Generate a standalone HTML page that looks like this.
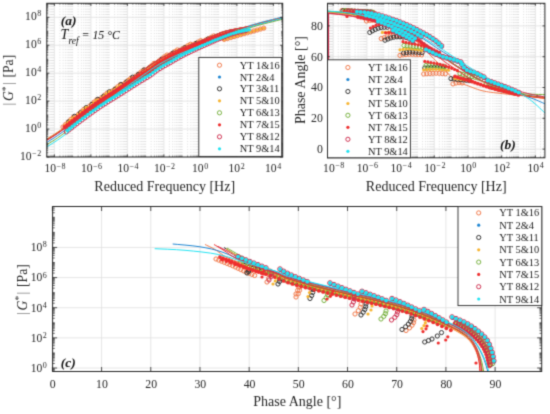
<!DOCTYPE html>
<html><head><meta charset="utf-8"><style>
html,body{margin:0;padding:0;background:#fff;width:550px;height:414px;overflow:hidden}
svg{display:block}
text{font-family:"Liberation Serif", serif}
</style></head><body>
<svg width="550" height="414" viewBox="0 0 550 414">
<defs><filter id="soft" filterUnits="userSpaceOnUse" x="0" y="0" width="550" height="414" color-interpolation-filters="sRGB"><feConvolveMatrix order="3" kernelMatrix="0.0256 0.1088 0.0256 0.1088 0.4624 0.1088 0.0256 0.1088 0.0256" divisor="1" edgeMode="duplicate" preserveAlpha="false"/></filter></defs>
<rect width="550" height="414" fill="#fff"/>
<g filter="url(#soft)">
<rect width="550" height="414" fill="#fff"/>
<clipPath id="cA"><rect x="46.8" y="3.3" width="235.9" height="153.7"/></clipPath>
<line x1="47.14" y1="3.3" x2="47.14" y2="157" stroke="#d2d2d2" stroke-width="0.8" stroke-dasharray="0.9 1.8"/>
<line x1="48.91" y1="3.3" x2="48.91" y2="157" stroke="#d2d2d2" stroke-width="0.8" stroke-dasharray="0.9 1.8"/>
<line x1="50.35" y1="3.3" x2="50.35" y2="157" stroke="#d2d2d2" stroke-width="0.8" stroke-dasharray="0.9 1.8"/>
<line x1="51.57" y1="3.3" x2="51.57" y2="157" stroke="#d2d2d2" stroke-width="0.8" stroke-dasharray="0.9 1.8"/>
<line x1="52.63" y1="3.3" x2="52.63" y2="157" stroke="#d2d2d2" stroke-width="0.8" stroke-dasharray="0.9 1.8"/>
<line x1="53.56" y1="3.3" x2="53.56" y2="157" stroke="#d2d2d2" stroke-width="0.8" stroke-dasharray="0.9 1.8"/>
<line x1="59.89" y1="3.3" x2="59.89" y2="157" stroke="#d2d2d2" stroke-width="0.8" stroke-dasharray="0.9 1.8"/>
<line x1="63.11" y1="3.3" x2="63.11" y2="157" stroke="#d2d2d2" stroke-width="0.8" stroke-dasharray="0.9 1.8"/>
<line x1="65.39" y1="3.3" x2="65.39" y2="157" stroke="#d2d2d2" stroke-width="0.8" stroke-dasharray="0.9 1.8"/>
<line x1="67.16" y1="3.3" x2="67.16" y2="157" stroke="#d2d2d2" stroke-width="0.8" stroke-dasharray="0.9 1.8"/>
<line x1="68.6" y1="3.3" x2="68.6" y2="157" stroke="#d2d2d2" stroke-width="0.8" stroke-dasharray="0.9 1.8"/>
<line x1="69.82" y1="3.3" x2="69.82" y2="157" stroke="#d2d2d2" stroke-width="0.8" stroke-dasharray="0.9 1.8"/>
<line x1="70.88" y1="3.3" x2="70.88" y2="157" stroke="#d2d2d2" stroke-width="0.8" stroke-dasharray="0.9 1.8"/>
<line x1="71.81" y1="3.3" x2="71.81" y2="157" stroke="#d2d2d2" stroke-width="0.8" stroke-dasharray="0.9 1.8"/>
<line x1="72.65" y1="3.3" x2="72.65" y2="157" stroke="#d2d2d2" stroke-width="0.8" stroke-dasharray="0.9 1.8"/>
<line x1="78.14" y1="3.3" x2="78.14" y2="157" stroke="#d2d2d2" stroke-width="0.8" stroke-dasharray="0.9 1.8"/>
<line x1="81.36" y1="3.3" x2="81.36" y2="157" stroke="#d2d2d2" stroke-width="0.8" stroke-dasharray="0.9 1.8"/>
<line x1="83.64" y1="3.3" x2="83.64" y2="157" stroke="#d2d2d2" stroke-width="0.8" stroke-dasharray="0.9 1.8"/>
<line x1="85.41" y1="3.3" x2="85.41" y2="157" stroke="#d2d2d2" stroke-width="0.8" stroke-dasharray="0.9 1.8"/>
<line x1="86.85" y1="3.3" x2="86.85" y2="157" stroke="#d2d2d2" stroke-width="0.8" stroke-dasharray="0.9 1.8"/>
<line x1="88.07" y1="3.3" x2="88.07" y2="157" stroke="#d2d2d2" stroke-width="0.8" stroke-dasharray="0.9 1.8"/>
<line x1="89.13" y1="3.3" x2="89.13" y2="157" stroke="#d2d2d2" stroke-width="0.8" stroke-dasharray="0.9 1.8"/>
<line x1="90.06" y1="3.3" x2="90.06" y2="157" stroke="#d2d2d2" stroke-width="0.8" stroke-dasharray="0.9 1.8"/>
<line x1="96.39" y1="3.3" x2="96.39" y2="157" stroke="#d2d2d2" stroke-width="0.8" stroke-dasharray="0.9 1.8"/>
<line x1="99.61" y1="3.3" x2="99.61" y2="157" stroke="#d2d2d2" stroke-width="0.8" stroke-dasharray="0.9 1.8"/>
<line x1="101.89" y1="3.3" x2="101.89" y2="157" stroke="#d2d2d2" stroke-width="0.8" stroke-dasharray="0.9 1.8"/>
<line x1="103.66" y1="3.3" x2="103.66" y2="157" stroke="#d2d2d2" stroke-width="0.8" stroke-dasharray="0.9 1.8"/>
<line x1="105.1" y1="3.3" x2="105.1" y2="157" stroke="#d2d2d2" stroke-width="0.8" stroke-dasharray="0.9 1.8"/>
<line x1="106.32" y1="3.3" x2="106.32" y2="157" stroke="#d2d2d2" stroke-width="0.8" stroke-dasharray="0.9 1.8"/>
<line x1="107.38" y1="3.3" x2="107.38" y2="157" stroke="#d2d2d2" stroke-width="0.8" stroke-dasharray="0.9 1.8"/>
<line x1="108.31" y1="3.3" x2="108.31" y2="157" stroke="#d2d2d2" stroke-width="0.8" stroke-dasharray="0.9 1.8"/>
<line x1="109.15" y1="3.3" x2="109.15" y2="157" stroke="#d2d2d2" stroke-width="0.8" stroke-dasharray="0.9 1.8"/>
<line x1="114.64" y1="3.3" x2="114.64" y2="157" stroke="#d2d2d2" stroke-width="0.8" stroke-dasharray="0.9 1.8"/>
<line x1="117.86" y1="3.3" x2="117.86" y2="157" stroke="#d2d2d2" stroke-width="0.8" stroke-dasharray="0.9 1.8"/>
<line x1="120.14" y1="3.3" x2="120.14" y2="157" stroke="#d2d2d2" stroke-width="0.8" stroke-dasharray="0.9 1.8"/>
<line x1="121.91" y1="3.3" x2="121.91" y2="157" stroke="#d2d2d2" stroke-width="0.8" stroke-dasharray="0.9 1.8"/>
<line x1="123.35" y1="3.3" x2="123.35" y2="157" stroke="#d2d2d2" stroke-width="0.8" stroke-dasharray="0.9 1.8"/>
<line x1="124.57" y1="3.3" x2="124.57" y2="157" stroke="#d2d2d2" stroke-width="0.8" stroke-dasharray="0.9 1.8"/>
<line x1="125.63" y1="3.3" x2="125.63" y2="157" stroke="#d2d2d2" stroke-width="0.8" stroke-dasharray="0.9 1.8"/>
<line x1="126.56" y1="3.3" x2="126.56" y2="157" stroke="#d2d2d2" stroke-width="0.8" stroke-dasharray="0.9 1.8"/>
<line x1="132.89" y1="3.3" x2="132.89" y2="157" stroke="#d2d2d2" stroke-width="0.8" stroke-dasharray="0.9 1.8"/>
<line x1="136.11" y1="3.3" x2="136.11" y2="157" stroke="#d2d2d2" stroke-width="0.8" stroke-dasharray="0.9 1.8"/>
<line x1="138.39" y1="3.3" x2="138.39" y2="157" stroke="#d2d2d2" stroke-width="0.8" stroke-dasharray="0.9 1.8"/>
<line x1="140.16" y1="3.3" x2="140.16" y2="157" stroke="#d2d2d2" stroke-width="0.8" stroke-dasharray="0.9 1.8"/>
<line x1="141.6" y1="3.3" x2="141.6" y2="157" stroke="#d2d2d2" stroke-width="0.8" stroke-dasharray="0.9 1.8"/>
<line x1="142.82" y1="3.3" x2="142.82" y2="157" stroke="#d2d2d2" stroke-width="0.8" stroke-dasharray="0.9 1.8"/>
<line x1="143.88" y1="3.3" x2="143.88" y2="157" stroke="#d2d2d2" stroke-width="0.8" stroke-dasharray="0.9 1.8"/>
<line x1="144.81" y1="3.3" x2="144.81" y2="157" stroke="#d2d2d2" stroke-width="0.8" stroke-dasharray="0.9 1.8"/>
<line x1="145.65" y1="3.3" x2="145.65" y2="157" stroke="#d2d2d2" stroke-width="0.8" stroke-dasharray="0.9 1.8"/>
<line x1="151.14" y1="3.3" x2="151.14" y2="157" stroke="#d2d2d2" stroke-width="0.8" stroke-dasharray="0.9 1.8"/>
<line x1="154.36" y1="3.3" x2="154.36" y2="157" stroke="#d2d2d2" stroke-width="0.8" stroke-dasharray="0.9 1.8"/>
<line x1="156.64" y1="3.3" x2="156.64" y2="157" stroke="#d2d2d2" stroke-width="0.8" stroke-dasharray="0.9 1.8"/>
<line x1="158.41" y1="3.3" x2="158.41" y2="157" stroke="#d2d2d2" stroke-width="0.8" stroke-dasharray="0.9 1.8"/>
<line x1="159.85" y1="3.3" x2="159.85" y2="157" stroke="#d2d2d2" stroke-width="0.8" stroke-dasharray="0.9 1.8"/>
<line x1="161.07" y1="3.3" x2="161.07" y2="157" stroke="#d2d2d2" stroke-width="0.8" stroke-dasharray="0.9 1.8"/>
<line x1="162.13" y1="3.3" x2="162.13" y2="157" stroke="#d2d2d2" stroke-width="0.8" stroke-dasharray="0.9 1.8"/>
<line x1="163.06" y1="3.3" x2="163.06" y2="157" stroke="#d2d2d2" stroke-width="0.8" stroke-dasharray="0.9 1.8"/>
<line x1="169.39" y1="3.3" x2="169.39" y2="157" stroke="#d2d2d2" stroke-width="0.8" stroke-dasharray="0.9 1.8"/>
<line x1="172.61" y1="3.3" x2="172.61" y2="157" stroke="#d2d2d2" stroke-width="0.8" stroke-dasharray="0.9 1.8"/>
<line x1="174.89" y1="3.3" x2="174.89" y2="157" stroke="#d2d2d2" stroke-width="0.8" stroke-dasharray="0.9 1.8"/>
<line x1="176.66" y1="3.3" x2="176.66" y2="157" stroke="#d2d2d2" stroke-width="0.8" stroke-dasharray="0.9 1.8"/>
<line x1="178.1" y1="3.3" x2="178.1" y2="157" stroke="#d2d2d2" stroke-width="0.8" stroke-dasharray="0.9 1.8"/>
<line x1="179.32" y1="3.3" x2="179.32" y2="157" stroke="#d2d2d2" stroke-width="0.8" stroke-dasharray="0.9 1.8"/>
<line x1="180.38" y1="3.3" x2="180.38" y2="157" stroke="#d2d2d2" stroke-width="0.8" stroke-dasharray="0.9 1.8"/>
<line x1="181.31" y1="3.3" x2="181.31" y2="157" stroke="#d2d2d2" stroke-width="0.8" stroke-dasharray="0.9 1.8"/>
<line x1="182.15" y1="3.3" x2="182.15" y2="157" stroke="#d2d2d2" stroke-width="0.8" stroke-dasharray="0.9 1.8"/>
<line x1="187.64" y1="3.3" x2="187.64" y2="157" stroke="#d2d2d2" stroke-width="0.8" stroke-dasharray="0.9 1.8"/>
<line x1="190.86" y1="3.3" x2="190.86" y2="157" stroke="#d2d2d2" stroke-width="0.8" stroke-dasharray="0.9 1.8"/>
<line x1="193.14" y1="3.3" x2="193.14" y2="157" stroke="#d2d2d2" stroke-width="0.8" stroke-dasharray="0.9 1.8"/>
<line x1="194.91" y1="3.3" x2="194.91" y2="157" stroke="#d2d2d2" stroke-width="0.8" stroke-dasharray="0.9 1.8"/>
<line x1="196.35" y1="3.3" x2="196.35" y2="157" stroke="#d2d2d2" stroke-width="0.8" stroke-dasharray="0.9 1.8"/>
<line x1="197.57" y1="3.3" x2="197.57" y2="157" stroke="#d2d2d2" stroke-width="0.8" stroke-dasharray="0.9 1.8"/>
<line x1="198.63" y1="3.3" x2="198.63" y2="157" stroke="#d2d2d2" stroke-width="0.8" stroke-dasharray="0.9 1.8"/>
<line x1="199.56" y1="3.3" x2="199.56" y2="157" stroke="#d2d2d2" stroke-width="0.8" stroke-dasharray="0.9 1.8"/>
<line x1="205.89" y1="3.3" x2="205.89" y2="157" stroke="#d2d2d2" stroke-width="0.8" stroke-dasharray="0.9 1.8"/>
<line x1="209.11" y1="3.3" x2="209.11" y2="157" stroke="#d2d2d2" stroke-width="0.8" stroke-dasharray="0.9 1.8"/>
<line x1="211.39" y1="3.3" x2="211.39" y2="157" stroke="#d2d2d2" stroke-width="0.8" stroke-dasharray="0.9 1.8"/>
<line x1="213.16" y1="3.3" x2="213.16" y2="157" stroke="#d2d2d2" stroke-width="0.8" stroke-dasharray="0.9 1.8"/>
<line x1="214.6" y1="3.3" x2="214.6" y2="157" stroke="#d2d2d2" stroke-width="0.8" stroke-dasharray="0.9 1.8"/>
<line x1="215.82" y1="3.3" x2="215.82" y2="157" stroke="#d2d2d2" stroke-width="0.8" stroke-dasharray="0.9 1.8"/>
<line x1="216.88" y1="3.3" x2="216.88" y2="157" stroke="#d2d2d2" stroke-width="0.8" stroke-dasharray="0.9 1.8"/>
<line x1="217.81" y1="3.3" x2="217.81" y2="157" stroke="#d2d2d2" stroke-width="0.8" stroke-dasharray="0.9 1.8"/>
<line x1="218.65" y1="3.3" x2="218.65" y2="157" stroke="#d2d2d2" stroke-width="0.8" stroke-dasharray="0.9 1.8"/>
<line x1="224.14" y1="3.3" x2="224.14" y2="157" stroke="#d2d2d2" stroke-width="0.8" stroke-dasharray="0.9 1.8"/>
<line x1="227.36" y1="3.3" x2="227.36" y2="157" stroke="#d2d2d2" stroke-width="0.8" stroke-dasharray="0.9 1.8"/>
<line x1="229.64" y1="3.3" x2="229.64" y2="157" stroke="#d2d2d2" stroke-width="0.8" stroke-dasharray="0.9 1.8"/>
<line x1="231.41" y1="3.3" x2="231.41" y2="157" stroke="#d2d2d2" stroke-width="0.8" stroke-dasharray="0.9 1.8"/>
<line x1="232.85" y1="3.3" x2="232.85" y2="157" stroke="#d2d2d2" stroke-width="0.8" stroke-dasharray="0.9 1.8"/>
<line x1="234.07" y1="3.3" x2="234.07" y2="157" stroke="#d2d2d2" stroke-width="0.8" stroke-dasharray="0.9 1.8"/>
<line x1="235.13" y1="3.3" x2="235.13" y2="157" stroke="#d2d2d2" stroke-width="0.8" stroke-dasharray="0.9 1.8"/>
<line x1="236.06" y1="3.3" x2="236.06" y2="157" stroke="#d2d2d2" stroke-width="0.8" stroke-dasharray="0.9 1.8"/>
<line x1="242.39" y1="3.3" x2="242.39" y2="157" stroke="#d2d2d2" stroke-width="0.8" stroke-dasharray="0.9 1.8"/>
<line x1="245.61" y1="3.3" x2="245.61" y2="157" stroke="#d2d2d2" stroke-width="0.8" stroke-dasharray="0.9 1.8"/>
<line x1="247.89" y1="3.3" x2="247.89" y2="157" stroke="#d2d2d2" stroke-width="0.8" stroke-dasharray="0.9 1.8"/>
<line x1="249.66" y1="3.3" x2="249.66" y2="157" stroke="#d2d2d2" stroke-width="0.8" stroke-dasharray="0.9 1.8"/>
<line x1="251.1" y1="3.3" x2="251.1" y2="157" stroke="#d2d2d2" stroke-width="0.8" stroke-dasharray="0.9 1.8"/>
<line x1="252.32" y1="3.3" x2="252.32" y2="157" stroke="#d2d2d2" stroke-width="0.8" stroke-dasharray="0.9 1.8"/>
<line x1="253.38" y1="3.3" x2="253.38" y2="157" stroke="#d2d2d2" stroke-width="0.8" stroke-dasharray="0.9 1.8"/>
<line x1="254.31" y1="3.3" x2="254.31" y2="157" stroke="#d2d2d2" stroke-width="0.8" stroke-dasharray="0.9 1.8"/>
<line x1="255.15" y1="3.3" x2="255.15" y2="157" stroke="#d2d2d2" stroke-width="0.8" stroke-dasharray="0.9 1.8"/>
<line x1="260.64" y1="3.3" x2="260.64" y2="157" stroke="#d2d2d2" stroke-width="0.8" stroke-dasharray="0.9 1.8"/>
<line x1="263.86" y1="3.3" x2="263.86" y2="157" stroke="#d2d2d2" stroke-width="0.8" stroke-dasharray="0.9 1.8"/>
<line x1="266.14" y1="3.3" x2="266.14" y2="157" stroke="#d2d2d2" stroke-width="0.8" stroke-dasharray="0.9 1.8"/>
<line x1="267.91" y1="3.3" x2="267.91" y2="157" stroke="#d2d2d2" stroke-width="0.8" stroke-dasharray="0.9 1.8"/>
<line x1="269.35" y1="3.3" x2="269.35" y2="157" stroke="#d2d2d2" stroke-width="0.8" stroke-dasharray="0.9 1.8"/>
<line x1="270.57" y1="3.3" x2="270.57" y2="157" stroke="#d2d2d2" stroke-width="0.8" stroke-dasharray="0.9 1.8"/>
<line x1="271.63" y1="3.3" x2="271.63" y2="157" stroke="#d2d2d2" stroke-width="0.8" stroke-dasharray="0.9 1.8"/>
<line x1="272.56" y1="3.3" x2="272.56" y2="157" stroke="#d2d2d2" stroke-width="0.8" stroke-dasharray="0.9 1.8"/>
<line x1="278.89" y1="3.3" x2="278.89" y2="157" stroke="#d2d2d2" stroke-width="0.8" stroke-dasharray="0.9 1.8"/>
<line x1="282.11" y1="3.3" x2="282.11" y2="157" stroke="#d2d2d2" stroke-width="0.8" stroke-dasharray="0.9 1.8"/>
<line x1="54.4" y1="3.3" x2="54.4" y2="157" stroke="#e0e0e0" stroke-width="0.8"/>
<line x1="90.9" y1="3.3" x2="90.9" y2="157" stroke="#e0e0e0" stroke-width="0.8"/>
<line x1="127.4" y1="3.3" x2="127.4" y2="157" stroke="#e0e0e0" stroke-width="0.8"/>
<line x1="163.9" y1="3.3" x2="163.9" y2="157" stroke="#e0e0e0" stroke-width="0.8"/>
<line x1="200.4" y1="3.3" x2="200.4" y2="157" stroke="#e0e0e0" stroke-width="0.8"/>
<line x1="236.9" y1="3.3" x2="236.9" y2="157" stroke="#e0e0e0" stroke-width="0.8"/>
<line x1="273.4" y1="3.3" x2="273.4" y2="157" stroke="#e0e0e0" stroke-width="0.8"/>
<line x1="46.8" y1="157" x2="282.7" y2="157" stroke="#e0e0e0" stroke-width="0.8"/>
<line x1="46.8" y1="129.06" x2="282.7" y2="129.06" stroke="#e0e0e0" stroke-width="0.8"/>
<line x1="46.8" y1="101.12" x2="282.7" y2="101.12" stroke="#e0e0e0" stroke-width="0.8"/>
<line x1="46.8" y1="73.18" x2="282.7" y2="73.18" stroke="#e0e0e0" stroke-width="0.8"/>
<line x1="46.8" y1="45.24" x2="282.7" y2="45.24" stroke="#e0e0e0" stroke-width="0.8"/>
<line x1="46.8" y1="17.3" x2="282.7" y2="17.3" stroke="#e0e0e0" stroke-width="0.8"/>
<g clip-path="url(#cA)">
































































































































































































































































































































































































































































































































































































<circle cx="63" cy="127.02" r="2.1" fill="none" stroke="#f27a4b" stroke-width="1"/>
<circle cx="65.6" cy="124.52" r="2.1" fill="none" stroke="#f27a4b" stroke-width="1"/>
<circle cx="68.2" cy="122.02" r="2.1" fill="none" stroke="#f27a4b" stroke-width="1"/>
<circle cx="70.8" cy="119.53" r="2.1" fill="none" stroke="#f27a4b" stroke-width="1"/>
<circle cx="73.4" cy="117.06" r="2.1" fill="none" stroke="#f27a4b" stroke-width="1"/>
<circle cx="76" cy="116.6" r="2.1" fill="none" stroke="#f27a4b" stroke-width="1"/>
<circle cx="78.6" cy="114.17" r="2.1" fill="none" stroke="#f27a4b" stroke-width="1"/>
<circle cx="81.2" cy="111.77" r="2.1" fill="none" stroke="#f27a4b" stroke-width="1"/>
<circle cx="83.8" cy="109.39" r="2.1" fill="none" stroke="#f27a4b" stroke-width="1"/>
<circle cx="86.4" cy="109.02" r="2.1" fill="none" stroke="#f27a4b" stroke-width="1"/>
<circle cx="89" cy="106.67" r="2.1" fill="none" stroke="#f27a4b" stroke-width="1"/>
<circle cx="91.6" cy="104.34" r="2.1" fill="none" stroke="#f27a4b" stroke-width="1"/>
<circle cx="94.2" cy="102.04" r="2.1" fill="none" stroke="#f27a4b" stroke-width="1"/>
<circle cx="96.8" cy="99.77" r="2.1" fill="none" stroke="#f27a4b" stroke-width="1"/>
<circle cx="99.4" cy="99.54" r="2.1" fill="none" stroke="#f27a4b" stroke-width="1"/>
<circle cx="102" cy="97.35" r="2.1" fill="none" stroke="#f27a4b" stroke-width="1"/>
<circle cx="104.6" cy="95.22" r="2.1" fill="none" stroke="#f27a4b" stroke-width="1"/>
<circle cx="107.2" cy="93.12" r="2.1" fill="none" stroke="#f27a4b" stroke-width="1"/>
<circle cx="109.8" cy="93.05" r="2.1" fill="none" stroke="#f27a4b" stroke-width="1"/>
<circle cx="112.4" cy="91" r="2.1" fill="none" stroke="#f27a4b" stroke-width="1"/>
<circle cx="115" cy="88.95" r="2.1" fill="none" stroke="#f27a4b" stroke-width="1"/>
<circle cx="117.6" cy="86.89" r="2.1" fill="none" stroke="#f27a4b" stroke-width="1"/>
<circle cx="120.2" cy="84.81" r="2.1" fill="none" stroke="#f27a4b" stroke-width="1"/>
<circle cx="122.8" cy="84.71" r="2.1" fill="none" stroke="#f27a4b" stroke-width="1"/>
<circle cx="125.4" cy="82.61" r="2.1" fill="none" stroke="#f27a4b" stroke-width="1"/>
<circle cx="128" cy="80.5" r="2.1" fill="none" stroke="#f27a4b" stroke-width="1"/>
<circle cx="130.6" cy="78.4" r="2.1" fill="none" stroke="#f27a4b" stroke-width="1"/>
<circle cx="133.2" cy="78.29" r="2.1" fill="none" stroke="#f27a4b" stroke-width="1"/>
<circle cx="135.8" cy="76.19" r="2.1" fill="none" stroke="#f27a4b" stroke-width="1"/>
<circle cx="138.4" cy="74.1" r="2.1" fill="none" stroke="#f27a4b" stroke-width="1"/>
<circle cx="141" cy="72.04" r="2.1" fill="none" stroke="#f27a4b" stroke-width="1"/>
<circle cx="143.6" cy="70.03" r="2.1" fill="none" stroke="#f27a4b" stroke-width="1"/>
<circle cx="146.2" cy="70.08" r="2.1" fill="none" stroke="#f27a4b" stroke-width="1"/>
<circle cx="148.8" cy="68.07" r="2.1" fill="none" stroke="#f27a4b" stroke-width="1"/>
<circle cx="151.4" cy="65.87" r="2.1" fill="none" stroke="#f27a4b" stroke-width="1"/>
<circle cx="154" cy="63.4" r="2.1" fill="none" stroke="#f27a4b" stroke-width="1"/>
<circle cx="156.6" cy="62.99" r="2.1" fill="none" stroke="#f27a4b" stroke-width="1"/>
<circle cx="159.2" cy="60.82" r="2.1" fill="none" stroke="#f27a4b" stroke-width="1"/>
<circle cx="161.8" cy="58.81" r="2.1" fill="none" stroke="#f27a4b" stroke-width="1"/>
<circle cx="164.4" cy="56.88" r="2.1" fill="none" stroke="#f27a4b" stroke-width="1"/>
<circle cx="167" cy="54.99" r="2.1" fill="none" stroke="#f27a4b" stroke-width="1"/>
<circle cx="169.6" cy="55.12" r="2.1" fill="none" stroke="#f27a4b" stroke-width="1"/>
<circle cx="172.2" cy="53.36" r="2.1" fill="none" stroke="#f27a4b" stroke-width="1"/>
<circle cx="174.8" cy="51.64" r="2.1" fill="none" stroke="#f27a4b" stroke-width="1"/>
<circle cx="177.4" cy="49.95" r="2.1" fill="none" stroke="#f27a4b" stroke-width="1"/>
<circle cx="180" cy="50.31" r="2.1" fill="none" stroke="#f27a4b" stroke-width="1"/>
<circle cx="182.6" cy="48.73" r="2.1" fill="none" stroke="#f27a4b" stroke-width="1"/>
<circle cx="185.2" cy="47.21" r="2.1" fill="none" stroke="#f27a4b" stroke-width="1"/>
<circle cx="187.8" cy="45.73" r="2.1" fill="none" stroke="#f27a4b" stroke-width="1"/>
<circle cx="190.4" cy="44.28" r="2.1" fill="none" stroke="#f27a4b" stroke-width="1"/>
<circle cx="193" cy="44.87" r="2.1" fill="none" stroke="#f27a4b" stroke-width="1"/>
<circle cx="195.6" cy="43.47" r="2.1" fill="none" stroke="#f27a4b" stroke-width="1"/>
<circle cx="198.2" cy="42.08" r="2.1" fill="none" stroke="#f27a4b" stroke-width="1"/>
<circle cx="200.8" cy="40.69" r="2.1" fill="none" stroke="#f27a4b" stroke-width="1"/>
<circle cx="203.4" cy="41.31" r="2.1" fill="none" stroke="#f27a4b" stroke-width="1"/>
<circle cx="206" cy="39.95" r="2.1" fill="none" stroke="#f27a4b" stroke-width="1"/>
<circle cx="208.6" cy="38.6" r="2.1" fill="none" stroke="#f27a4b" stroke-width="1"/>
<circle cx="211.2" cy="37.27" r="2.1" fill="none" stroke="#f27a4b" stroke-width="1"/>
<circle cx="213.8" cy="35.96" r="2.1" fill="none" stroke="#f27a4b" stroke-width="1"/>
<circle cx="216.4" cy="36.67" r="2.1" fill="none" stroke="#f27a4b" stroke-width="1"/>
<circle cx="219" cy="35.41" r="2.1" fill="none" stroke="#f27a4b" stroke-width="1"/>
<circle cx="221.6" cy="34.16" r="2.1" fill="none" stroke="#f27a4b" stroke-width="1"/>
<circle cx="224.2" cy="39.44" r="1.5" fill="#f7b431"/>
<circle cx="224.2" cy="39.44" r="2.1" fill="none" stroke="#f27a4b" stroke-width="1"/>
<circle cx="227.5" cy="38.5" r="1.5" fill="#f7b431"/>
<circle cx="227.5" cy="38.5" r="2.1" fill="none" stroke="#f27a4b" stroke-width="1"/>
<circle cx="230.8" cy="37.56" r="1.5" fill="#f7b431"/>
<circle cx="230.8" cy="37.56" r="2.1" fill="none" stroke="#f27a4b" stroke-width="1"/>
<circle cx="234.1" cy="36.61" r="1.5" fill="#f7b431"/>
<circle cx="234.1" cy="36.61" r="2.1" fill="none" stroke="#f27a4b" stroke-width="1"/>
<circle cx="237.4" cy="35.67" r="1.5" fill="#f7b431"/>
<circle cx="237.4" cy="35.67" r="2.1" fill="none" stroke="#f27a4b" stroke-width="1"/>
<circle cx="240.7" cy="34.73" r="1.5" fill="#f7b431"/>
<circle cx="240.7" cy="34.73" r="2.1" fill="none" stroke="#f27a4b" stroke-width="1"/>
<circle cx="244" cy="33.79" r="1.5" fill="#f7b431"/>
<circle cx="244" cy="33.79" r="2.1" fill="none" stroke="#f27a4b" stroke-width="1"/>
<circle cx="247.3" cy="32.84" r="1.5" fill="#f7b431"/>
<circle cx="247.3" cy="32.84" r="2.1" fill="none" stroke="#f27a4b" stroke-width="1"/>
<circle cx="250.6" cy="31.9" r="1.5" fill="#f7b431"/>
<circle cx="250.6" cy="31.9" r="2.1" fill="none" stroke="#f27a4b" stroke-width="1"/>
<circle cx="253.9" cy="30.96" r="1.5" fill="#f7b431"/>
<circle cx="253.9" cy="30.96" r="2.1" fill="none" stroke="#f27a4b" stroke-width="1"/>
<circle cx="257.2" cy="30.01" r="1.5" fill="#f7b431"/>
<circle cx="257.2" cy="30.01" r="2.1" fill="none" stroke="#f27a4b" stroke-width="1"/>
<circle cx="260.5" cy="29.07" r="1.5" fill="#f7b431"/>
<circle cx="260.5" cy="29.07" r="2.1" fill="none" stroke="#f27a4b" stroke-width="1"/>
<circle cx="263.8" cy="28.13" r="1.5" fill="#f7b431"/>
<circle cx="263.8" cy="28.13" r="2.1" fill="none" stroke="#f27a4b" stroke-width="1"/>
<path d="M46.8 139 L48.16 138.15 L49.97 137.04 L52.15 135.69 L54.61 134.13 L57.25 132.39 L60 130.5 L62.94 128.38 L66.16 125.98 L69.58 123.37 L73.08 120.66 L76.59 117.96 L80 115.34 L83.33 112.8 L86.67 110.26 L90 107.74 L93.33 105.23 L96.67 102.74 L100 100.3 L103.33 97.91 L106.67 95.56 L110 93.24 L113.33 90.93 L116.67 88.62 L120 86.3 L123.33 83.96 L126.67 81.61 L130 79.27 L133.33 76.93 L136.67 74.6 L140 72.3 L143.33 69.98 L146.67 67.63 L150 65.3 L153.33 63.02 L156.67 60.84 L160 58.8 L163.33 56.91 L166.67 55.13 L170 53.44 L173.33 51.84 L176.67 50.3 L180 48.8 L183.33 47.38 L186.67 46.04 L190 44.77 L193.33 43.53 L196.67 42.29 L200 41 L203.33 39.67 L206.67 38.31 L210 36.95 L213.33 35.6 L216.67 34.28 L220 33 L223.33 31.76 L226.67 30.81 L230 30.13 L233.33 29.48 L236.67 28.86 L240 28.28 L243.3 27.73 L246.57 27.22 L249.83 26.74 L253.13 25.81 L256.51 24.86 L260 23.9 L263.89 22.87 L268.21 21.77 L272.6 20.68 L276.71 19.67 L280.2 18.82 L282.7 18.2" fill="none" stroke="#f27a4b" stroke-width="1" />
<circle cx="66.5" cy="128.66" r="1.7" fill="#1f86d2"/>
<circle cx="69.1" cy="126.61" r="1.7" fill="#1f86d2"/>
<circle cx="71.7" cy="124.58" r="1.7" fill="#1f86d2"/>
<circle cx="74.3" cy="122.55" r="1.7" fill="#1f86d2"/>
<circle cx="76.9" cy="120.55" r="1.7" fill="#1f86d2"/>
<circle cx="79.5" cy="118.58" r="1.7" fill="#1f86d2"/>
<circle cx="82.1" cy="116.64" r="1.7" fill="#1f86d2"/>
<circle cx="84.7" cy="114.71" r="1.7" fill="#1f86d2"/>
<circle cx="87.3" cy="112.79" r="1.7" fill="#1f86d2"/>
<circle cx="89.9" cy="110.89" r="1.7" fill="#1f86d2"/>
<circle cx="92.5" cy="109.03" r="1.7" fill="#1f86d2"/>
<circle cx="95.1" cy="107.19" r="1.7" fill="#1f86d2"/>
<circle cx="97.7" cy="105.38" r="1.7" fill="#1f86d2"/>
<circle cx="100.3" cy="103.6" r="1.7" fill="#1f86d2"/>
<circle cx="102.9" cy="101.88" r="1.7" fill="#1f86d2"/>
<circle cx="105.5" cy="100.21" r="1.7" fill="#1f86d2"/>
<circle cx="108.1" cy="98.58" r="1.7" fill="#1f86d2"/>
<circle cx="110.7" cy="96.96" r="1.7" fill="#1f86d2"/>
<circle cx="113.3" cy="95.36" r="1.7" fill="#1f86d2"/>
<circle cx="115.9" cy="93.76" r="1.7" fill="#1f86d2"/>
<circle cx="118.5" cy="92.14" r="1.7" fill="#1f86d2"/>
<circle cx="121.1" cy="90.5" r="1.7" fill="#1f86d2"/>
<circle cx="123.7" cy="88.85" r="1.7" fill="#1f86d2"/>
<circle cx="126.3" cy="87.2" r="1.7" fill="#1f86d2"/>
<circle cx="128.9" cy="85.54" r="1.7" fill="#1f86d2"/>
<circle cx="131.5" cy="83.88" r="1.7" fill="#1f86d2"/>
<circle cx="134.1" cy="82.22" r="1.7" fill="#1f86d2"/>
<circle cx="136.7" cy="80.58" r="1.7" fill="#1f86d2"/>
<circle cx="139.3" cy="78.94" r="1.7" fill="#1f86d2"/>
<circle cx="141.9" cy="77.34" r="1.7" fill="#1f86d2"/>
<circle cx="144.5" cy="75.8" r="1.7" fill="#1f86d2"/>
<circle cx="147.1" cy="74.3" r="1.7" fill="#1f86d2"/>
<circle cx="149.7" cy="72.69" r="1.7" fill="#1f86d2"/>
<circle cx="152.3" cy="70.83" r="1.7" fill="#1f86d2"/>
<circle cx="154.9" cy="68.79" r="1.7" fill="#1f86d2"/>
<circle cx="157.5" cy="66.9" r="1.7" fill="#1f86d2"/>
<circle cx="160.1" cy="65.24" r="1.7" fill="#1f86d2"/>
<circle cx="162.7" cy="63.72" r="1.7" fill="#1f86d2"/>
<circle cx="165.3" cy="62.26" r="1.7" fill="#1f86d2"/>
<circle cx="167.9" cy="60.82" r="1.7" fill="#1f86d2"/>
<circle cx="170.5" cy="59.41" r="1.7" fill="#1f86d2"/>
<circle cx="173.1" cy="57.94" r="1.7" fill="#1f86d2"/>
<circle cx="175.7" cy="56.52" r="1.7" fill="#1f86d2"/>
<circle cx="178.3" cy="55.14" r="1.7" fill="#1f86d2"/>
<circle cx="180.9" cy="53.81" r="1.7" fill="#1f86d2"/>
<circle cx="183.5" cy="52.52" r="1.7" fill="#1f86d2"/>
<circle cx="186.1" cy="51.3" r="1.7" fill="#1f86d2"/>
<circle cx="188.7" cy="50.12" r="1.7" fill="#1f86d2"/>
<circle cx="191.3" cy="48.97" r="1.7" fill="#1f86d2"/>
<circle cx="193.9" cy="47.85" r="1.7" fill="#1f86d2"/>
<circle cx="196.5" cy="46.74" r="1.7" fill="#1f86d2"/>
<circle cx="199.1" cy="45.64" r="1.7" fill="#1f86d2"/>
<circle cx="201.7" cy="44.54" r="1.7" fill="#1f86d2"/>
<circle cx="204.3" cy="43.45" r="1.7" fill="#1f86d2"/>
<circle cx="206.9" cy="42.37" r="1.7" fill="#1f86d2"/>
<circle cx="209.5" cy="41.31" r="1.7" fill="#1f86d2"/>
<circle cx="212.1" cy="40.28" r="1.7" fill="#1f86d2"/>
<circle cx="214.7" cy="39.26" r="1.7" fill="#1f86d2"/>
<circle cx="217.3" cy="38.27" r="1.7" fill="#1f86d2"/>
<circle cx="219.9" cy="37.29" r="1.7" fill="#1f86d2"/>
<circle cx="222.5" cy="36.34" r="1.7" fill="#1f86d2"/>
<circle cx="225.1" cy="35.39" r="1.7" fill="#1f86d2"/>
<circle cx="227.7" cy="34.47" r="1.7" fill="#1f86d2"/>
<circle cx="230.3" cy="33.57" r="1.7" fill="#1f86d2"/>
<circle cx="232.9" cy="32.79" r="1.7" fill="#1f86d2"/>
<circle cx="235.5" cy="32.06" r="1.7" fill="#1f86d2"/>
<circle cx="238.1" cy="31.38" r="1.7" fill="#1f86d2"/>
<circle cx="240.7" cy="30.75" r="1.7" fill="#1f86d2"/>
<circle cx="243.3" cy="30.18" r="1.7" fill="#1f86d2"/>
<path d="M46.8 142.4 L48.16 141.55 L49.97 140.44 L52.15 139.09 L54.61 137.53 L57.25 135.79 L60 133.9 L62.94 131.78 L66.16 129.39 L69.58 127.08 L73.08 124.69 L76.59 122.3 L80 119.99 L83.33 117.74 L86.67 115.26 L90 112.74 L93.33 110.23 L96.67 107.74 L100 105.3 L103.33 102.91 L106.67 100.56 L110 98.24 L113.33 95.93 L116.67 93.62 L120 91.3 L123.33 88.96 L126.67 86.61 L130 84.27 L133.33 81.93 L136.67 79.6 L140 77.3 L143.33 74.98 L146.67 72.63 L150 70.3 L153.33 68.02 L156.67 65.84 L160 63.8 L163.33 61.91 L166.67 60.13 L170 58.44 L173.33 56.84 L176.67 55.3 L180 53.8 L183.33 52.38 L186.67 51.04 L190 49.77 L193.33 48.53 L196.67 47.29 L200 46 L203.33 44.67 L206.67 43.31 L210 41.95 L213.33 40.6 L216.67 39.28 L220 38 L223.33 36.76 L226.67 35.39 L230 33.89 L233.33 32.41 L236.67 30.97 L240 29.56 L243.3 28.19 L246.57 26.87 L249.83 25.58 L253.13 24.61 L256.51 23.66 L260 22.7 L263.89 21.67 L268.21 20.57 L272.6 19.48 L276.71 18.47 L280.2 17.62 L282.7 17" fill="none" stroke="#1f86d2" stroke-width="1" />
<circle cx="68.8" cy="121.85" r="2.1" fill="none" stroke="#333333" stroke-width="1"/>
<circle cx="74.6" cy="116.32" r="2.1" fill="none" stroke="#333333" stroke-width="1"/>
<circle cx="80.4" cy="112.9" r="2.1" fill="none" stroke="#333333" stroke-width="1"/>
<circle cx="86.2" cy="107.6" r="2.1" fill="none" stroke="#333333" stroke-width="1"/>
<circle cx="92" cy="104.39" r="2.1" fill="none" stroke="#333333" stroke-width="1"/>
<circle cx="97.8" cy="99.31" r="2.1" fill="none" stroke="#333333" stroke-width="1"/>
<circle cx="103.6" cy="96.43" r="2.1" fill="none" stroke="#333333" stroke-width="1"/>
<circle cx="109.4" cy="91.77" r="2.1" fill="none" stroke="#333333" stroke-width="1"/>
<circle cx="115.2" cy="89.19" r="2.1" fill="none" stroke="#333333" stroke-width="1"/>
<circle cx="121" cy="84.57" r="2.1" fill="none" stroke="#333333" stroke-width="1"/>
<circle cx="126.8" cy="81.88" r="2.1" fill="none" stroke="#333333" stroke-width="1"/>
<circle cx="132.6" cy="77.18" r="2.1" fill="none" stroke="#333333" stroke-width="1"/>
<circle cx="138.4" cy="74.5" r="2.1" fill="none" stroke="#333333" stroke-width="1"/>
<circle cx="144.2" cy="69.98" r="2.1" fill="none" stroke="#333333" stroke-width="1"/>
<circle cx="150" cy="67.5" r="2.1" fill="none" stroke="#333333" stroke-width="1"/>
<circle cx="155.8" cy="64.1" r="2.1" fill="none" stroke="#333333" stroke-width="1"/>
<circle cx="161.6" cy="59.37" r="2.1" fill="none" stroke="#333333" stroke-width="1"/>
<circle cx="167.4" cy="57.1" r="2.1" fill="none" stroke="#333333" stroke-width="1"/>
<circle cx="173.2" cy="53.07" r="2.1" fill="none" stroke="#333333" stroke-width="1"/>
<circle cx="179" cy="51.3" r="2.1" fill="none" stroke="#333333" stroke-width="1"/>
<circle cx="184.8" cy="47.77" r="2.1" fill="none" stroke="#333333" stroke-width="1"/>
<circle cx="190.6" cy="46.48" r="2.1" fill="none" stroke="#333333" stroke-width="1"/>
<circle cx="196.4" cy="43.32" r="2.1" fill="none" stroke="#333333" stroke-width="1"/>
<circle cx="202.2" cy="42.2" r="2.1" fill="none" stroke="#333333" stroke-width="1"/>
<circle cx="208" cy="39.13" r="2.1" fill="none" stroke="#333333" stroke-width="1"/>
<circle cx="213.8" cy="38.15" r="2.1" fill="none" stroke="#333333" stroke-width="1"/>
<circle cx="219.6" cy="35.29" r="2.1" fill="none" stroke="#333333" stroke-width="1"/>
<circle cx="225.4" cy="34.51" r="2.1" fill="none" stroke="#333333" stroke-width="1"/>
<circle cx="231.2" cy="31.8" r="2.1" fill="none" stroke="#333333" stroke-width="1"/>
<path d="M46.8 139.6 L48.16 138.75 L49.97 137.64 L52.15 136.29 L54.61 134.73 L57.25 132.99 L60 131.1 L62.94 128.98 L66.16 126.57 L69.58 123.85 L73.08 121.03 L76.59 118.2 L80 115.48 L83.33 112.82 L86.67 110.26 L90 107.74 L93.33 105.23 L96.67 102.74 L100 100.3 L103.33 97.91 L106.67 95.56 L110 93.24 L113.33 90.93 L116.67 88.62 L120 86.3 L123.33 83.96 L126.67 81.61 L130 79.27 L133.33 76.93 L136.67 74.6 L140 72.3 L143.33 69.98 L146.67 67.63 L150 65.3 L153.33 63.02 L156.67 60.84 L160 58.8 L163.33 56.91 L166.67 55.13 L170 53.44 L173.33 51.84 L176.67 50.3 L180 48.8 L183.33 47.38 L186.67 46.04 L190 44.77 L193.33 43.53 L196.67 42.29 L200 41 L203.33 39.67 L206.67 38.31 L210 36.95 L213.33 35.6 L216.67 34.28 L220 33 L223.33 31.76 L226.67 30.79 L230 30.09 L233.33 29.41 L236.67 28.77 L240 28.16 L243.3 27.59 L246.57 27.05 L249.83 26.54 L253.13 25.61 L256.51 24.66 L260 23.7 L263.89 22.67 L268.21 21.57 L272.6 20.48 L276.71 19.47 L280.2 18.62 L282.7 18" fill="none" stroke="#333333" stroke-width="1" />
<circle cx="65.2" cy="125.2" r="1.6" fill="#f7b431"/>
<circle cx="67.8" cy="122.71" r="1.6" fill="#f7b431"/>
<circle cx="70.4" cy="120.22" r="1.6" fill="#f7b431"/>
<circle cx="73" cy="117.74" r="1.6" fill="#f7b431"/>
<circle cx="75.6" cy="117.28" r="1.6" fill="#f7b431"/>
<circle cx="78.2" cy="114.84" r="1.6" fill="#f7b431"/>
<circle cx="80.8" cy="112.43" r="1.6" fill="#f7b431"/>
<circle cx="83.4" cy="110.05" r="1.6" fill="#f7b431"/>
<circle cx="86" cy="107.68" r="1.6" fill="#f7b431"/>
<circle cx="88.6" cy="107.33" r="1.6" fill="#f7b431"/>
<circle cx="91.2" cy="105" r="1.6" fill="#f7b431"/>
<circle cx="93.8" cy="102.69" r="1.6" fill="#f7b431"/>
<circle cx="96.4" cy="100.41" r="1.6" fill="#f7b431"/>
<circle cx="99" cy="100.18" r="1.6" fill="#f7b431"/>
<circle cx="101.6" cy="97.99" r="1.6" fill="#f7b431"/>
<circle cx="104.2" cy="95.84" r="1.6" fill="#f7b431"/>
<circle cx="106.8" cy="93.74" r="1.6" fill="#f7b431"/>
<circle cx="109.4" cy="91.67" r="1.6" fill="#f7b431"/>
<circle cx="112" cy="91.61" r="1.6" fill="#f7b431"/>
<circle cx="114.6" cy="89.56" r="1.6" fill="#f7b431"/>
<circle cx="117.2" cy="87.51" r="1.6" fill="#f7b431"/>
<circle cx="119.8" cy="85.43" r="1.6" fill="#f7b431"/>
<circle cx="122.4" cy="85.34" r="1.6" fill="#f7b431"/>
<circle cx="125" cy="83.23" r="1.6" fill="#f7b431"/>
<circle cx="127.6" cy="81.13" r="1.6" fill="#f7b431"/>
<circle cx="130.2" cy="79.02" r="1.6" fill="#f7b431"/>
<circle cx="132.8" cy="78.92" r="1.6" fill="#f7b431"/>
<circle cx="135.4" cy="76.82" r="1.6" fill="#f7b431"/>
<circle cx="138" cy="74.73" r="1.6" fill="#f7b431"/>
<circle cx="140.6" cy="72.65" r="1.6" fill="#f7b431"/>
<circle cx="143.2" cy="70.64" r="1.6" fill="#f7b431"/>
<circle cx="145.8" cy="70.68" r="1.6" fill="#f7b431"/>
<circle cx="148.4" cy="68.7" r="1.6" fill="#f7b431"/>
<circle cx="151" cy="66.52" r="1.6" fill="#f7b431"/>
<circle cx="153.6" cy="64.09" r="1.6" fill="#f7b431"/>
<circle cx="156.2" cy="63.64" r="1.6" fill="#f7b431"/>
<circle cx="158.8" cy="61.44" r="1.6" fill="#f7b431"/>
<circle cx="161.4" cy="59.42" r="1.6" fill="#f7b431"/>
<circle cx="164" cy="57.48" r="1.6" fill="#f7b431"/>
<circle cx="166.6" cy="55.57" r="1.6" fill="#f7b431"/>
<circle cx="169.2" cy="55.7" r="1.6" fill="#f7b431"/>
<circle cx="171.8" cy="53.92" r="1.6" fill="#f7b431"/>
<circle cx="174.4" cy="52.18" r="1.6" fill="#f7b431"/>
<circle cx="177" cy="50.48" r="1.6" fill="#f7b431"/>
<circle cx="179.6" cy="50.83" r="1.6" fill="#f7b431"/>
<circle cx="182.2" cy="49.23" r="1.6" fill="#f7b431"/>
<circle cx="184.8" cy="47.69" r="1.6" fill="#f7b431"/>
<circle cx="187.4" cy="46.19" r="1.6" fill="#f7b431"/>
<circle cx="190" cy="44.73" r="1.6" fill="#f7b431"/>
<circle cx="192.6" cy="45.3" r="1.6" fill="#f7b431"/>
<circle cx="195.2" cy="43.89" r="1.6" fill="#f7b431"/>
<circle cx="197.8" cy="42.49" r="1.6" fill="#f7b431"/>
<circle cx="200.4" cy="41.1" r="1.6" fill="#f7b431"/>
<circle cx="203" cy="41.71" r="1.6" fill="#f7b431"/>
<circle cx="205.6" cy="40.33" r="1.6" fill="#f7b431"/>
<circle cx="208.2" cy="38.97" r="1.6" fill="#f7b431"/>
<circle cx="210.8" cy="37.63" r="1.6" fill="#f7b431"/>
<circle cx="213.4" cy="36.31" r="1.6" fill="#f7b431"/>
<circle cx="216" cy="37.01" r="1.6" fill="#f7b431"/>
<circle cx="218.6" cy="35.73" r="1.6" fill="#f7b431"/>
<circle cx="221.2" cy="34.48" r="1.6" fill="#f7b431"/>
<circle cx="223.8" cy="33.23" r="1.6" fill="#f7b431"/>
<path d="M46.8 139.4 L48.16 138.55 L49.97 137.44 L52.15 136.09 L54.61 134.53 L57.25 132.79 L60 130.9 L62.94 128.78 L66.16 126.38 L69.58 123.69 L73.08 120.9 L76.59 118.12 L80 115.43 L83.33 112.81 L86.67 110.26 L90 107.74 L93.33 105.23 L96.67 102.74 L100 100.3 L103.33 97.91 L106.67 95.56 L110 93.24 L113.33 90.93 L116.67 88.62 L120 86.3 L123.33 83.96 L126.67 81.61 L130 79.27 L133.33 76.93 L136.67 74.6 L140 72.3 L143.33 69.98 L146.67 67.63 L150 65.3 L153.33 63.02 L156.67 60.84 L160 58.8 L163.33 56.91 L166.67 55.13 L170 53.44 L173.33 51.84 L176.67 50.3 L180 48.8 L183.33 47.38 L186.67 46.04 L190 44.77 L193.33 43.53 L196.67 42.29 L200 41 L203.33 39.67 L206.67 38.31 L210 36.95 L213.33 35.6 L216.67 34.28 L220 33 L223.33 31.76 L226.67 30.78 L230 30.05 L233.33 29.35 L236.67 28.68 L240 28.04 L243.3 27.44 L246.57 26.88 L249.83 26.35 L253.13 25.41 L256.51 24.46 L260 23.5 L263.89 22.47 L268.21 21.37 L272.6 20.28 L276.71 19.27 L280.2 18.42 L282.7 17.8" fill="none" stroke="#f7b431" stroke-width="1" />
<circle cx="66.8" cy="128.42" r="2.1" fill="none" stroke="#78b240" stroke-width="1"/>
<circle cx="69.4" cy="126.38" r="2.1" fill="none" stroke="#78b240" stroke-width="1"/>
<circle cx="72" cy="124.34" r="2.1" fill="none" stroke="#78b240" stroke-width="1"/>
<circle cx="74.6" cy="122.32" r="2.1" fill="none" stroke="#78b240" stroke-width="1"/>
<circle cx="77.2" cy="120.32" r="2.1" fill="none" stroke="#78b240" stroke-width="1"/>
<circle cx="79.8" cy="118.35" r="2.1" fill="none" stroke="#78b240" stroke-width="1"/>
<circle cx="82.4" cy="116.41" r="2.1" fill="none" stroke="#78b240" stroke-width="1"/>
<circle cx="85" cy="114.49" r="2.1" fill="none" stroke="#78b240" stroke-width="1"/>
<circle cx="87.6" cy="112.57" r="2.1" fill="none" stroke="#78b240" stroke-width="1"/>
<circle cx="90.2" cy="110.68" r="2.1" fill="none" stroke="#78b240" stroke-width="1"/>
<circle cx="92.8" cy="108.81" r="2.1" fill="none" stroke="#78b240" stroke-width="1"/>
<circle cx="95.4" cy="106.98" r="2.1" fill="none" stroke="#78b240" stroke-width="1"/>
<circle cx="98" cy="105.17" r="2.1" fill="none" stroke="#78b240" stroke-width="1"/>
<circle cx="100.6" cy="103.4" r="2.1" fill="none" stroke="#78b240" stroke-width="1"/>
<circle cx="103.2" cy="101.69" r="2.1" fill="none" stroke="#78b240" stroke-width="1"/>
<circle cx="105.8" cy="100.02" r="2.1" fill="none" stroke="#78b240" stroke-width="1"/>
<circle cx="108.4" cy="98.39" r="2.1" fill="none" stroke="#78b240" stroke-width="1"/>
<circle cx="111" cy="96.78" r="2.1" fill="none" stroke="#78b240" stroke-width="1"/>
<circle cx="113.6" cy="95.18" r="2.1" fill="none" stroke="#78b240" stroke-width="1"/>
<circle cx="116.2" cy="93.57" r="2.1" fill="none" stroke="#78b240" stroke-width="1"/>
<circle cx="118.8" cy="91.95" r="2.1" fill="none" stroke="#78b240" stroke-width="1"/>
<circle cx="121.4" cy="90.31" r="2.1" fill="none" stroke="#78b240" stroke-width="1"/>
<circle cx="124" cy="88.66" r="2.1" fill="none" stroke="#78b240" stroke-width="1"/>
<circle cx="126.6" cy="87" r="2.1" fill="none" stroke="#78b240" stroke-width="1"/>
<circle cx="129.2" cy="85.35" r="2.1" fill="none" stroke="#78b240" stroke-width="1"/>
<circle cx="131.8" cy="83.69" r="2.1" fill="none" stroke="#78b240" stroke-width="1"/>
<circle cx="134.4" cy="82.03" r="2.1" fill="none" stroke="#78b240" stroke-width="1"/>
<circle cx="137" cy="80.39" r="2.1" fill="none" stroke="#78b240" stroke-width="1"/>
<circle cx="139.6" cy="78.75" r="2.1" fill="none" stroke="#78b240" stroke-width="1"/>
<circle cx="142.2" cy="77.15" r="2.1" fill="none" stroke="#78b240" stroke-width="1"/>
<circle cx="144.8" cy="75.63" r="2.1" fill="none" stroke="#78b240" stroke-width="1"/>
<circle cx="147.4" cy="74.12" r="2.1" fill="none" stroke="#78b240" stroke-width="1"/>
<circle cx="150" cy="72.5" r="2.1" fill="none" stroke="#78b240" stroke-width="1"/>
<circle cx="152.6" cy="70.6" r="2.1" fill="none" stroke="#78b240" stroke-width="1"/>
<circle cx="155.2" cy="68.56" r="2.1" fill="none" stroke="#78b240" stroke-width="1"/>
<circle cx="157.8" cy="66.69" r="2.1" fill="none" stroke="#78b240" stroke-width="1"/>
<circle cx="160.4" cy="65.07" r="2.1" fill="none" stroke="#78b240" stroke-width="1"/>
<circle cx="163" cy="63.55" r="2.1" fill="none" stroke="#78b240" stroke-width="1"/>
<circle cx="165.6" cy="62.09" r="2.1" fill="none" stroke="#78b240" stroke-width="1"/>
<circle cx="168.2" cy="60.66" r="2.1" fill="none" stroke="#78b240" stroke-width="1"/>
<circle cx="170.8" cy="59.24" r="2.1" fill="none" stroke="#78b240" stroke-width="1"/>
<circle cx="173.4" cy="57.78" r="2.1" fill="none" stroke="#78b240" stroke-width="1"/>
<circle cx="176" cy="56.36" r="2.1" fill="none" stroke="#78b240" stroke-width="1"/>
<circle cx="178.6" cy="54.98" r="2.1" fill="none" stroke="#78b240" stroke-width="1"/>
<circle cx="181.2" cy="53.66" r="2.1" fill="none" stroke="#78b240" stroke-width="1"/>
<circle cx="183.8" cy="52.38" r="2.1" fill="none" stroke="#78b240" stroke-width="1"/>
<circle cx="186.4" cy="51.16" r="2.1" fill="none" stroke="#78b240" stroke-width="1"/>
<circle cx="189" cy="49.99" r="2.1" fill="none" stroke="#78b240" stroke-width="1"/>
<circle cx="191.6" cy="48.84" r="2.1" fill="none" stroke="#78b240" stroke-width="1"/>
<circle cx="194.2" cy="47.72" r="2.1" fill="none" stroke="#78b240" stroke-width="1"/>
<circle cx="196.8" cy="46.61" r="2.1" fill="none" stroke="#78b240" stroke-width="1"/>
<circle cx="199.4" cy="45.51" r="2.1" fill="none" stroke="#78b240" stroke-width="1"/>
<circle cx="202" cy="44.41" r="2.1" fill="none" stroke="#78b240" stroke-width="1"/>
<circle cx="204.6" cy="43.32" r="2.1" fill="none" stroke="#78b240" stroke-width="1"/>
<circle cx="207.2" cy="42.25" r="2.1" fill="none" stroke="#78b240" stroke-width="1"/>
<circle cx="209.8" cy="41.19" r="2.1" fill="none" stroke="#78b240" stroke-width="1"/>
<circle cx="212.4" cy="40.16" r="2.1" fill="none" stroke="#78b240" stroke-width="1"/>
<circle cx="215" cy="39.15" r="2.1" fill="none" stroke="#78b240" stroke-width="1"/>
<circle cx="217.6" cy="38.15" r="2.1" fill="none" stroke="#78b240" stroke-width="1"/>
<circle cx="220.2" cy="37.18" r="2.1" fill="none" stroke="#78b240" stroke-width="1"/>
<circle cx="222.8" cy="36.23" r="2.1" fill="none" stroke="#78b240" stroke-width="1"/>
<circle cx="225.4" cy="35.29" r="2.1" fill="none" stroke="#78b240" stroke-width="1"/>
<circle cx="228" cy="34.36" r="2.1" fill="none" stroke="#78b240" stroke-width="1"/>
<circle cx="230.6" cy="33.48" r="2.1" fill="none" stroke="#78b240" stroke-width="1"/>
<circle cx="233.2" cy="32.7" r="2.1" fill="none" stroke="#78b240" stroke-width="1"/>
<circle cx="235.8" cy="31.98" r="2.1" fill="none" stroke="#78b240" stroke-width="1"/>
<circle cx="238.4" cy="31.3" r="2.1" fill="none" stroke="#78b240" stroke-width="1"/>
<circle cx="241" cy="30.68" r="2.1" fill="none" stroke="#78b240" stroke-width="1"/>
<circle cx="243.6" cy="30.12" r="2.1" fill="none" stroke="#78b240" stroke-width="1"/>
<path d="M46.8 144.7 L48.16 143.85 L49.97 142.74 L52.15 141.39 L54.61 139.83 L57.25 138.09 L60 136.2 L62.94 134.08 L66.16 131.65 L69.58 128.45 L73.08 125.14 L76.59 121.83 L80 118.63 L83.33 115.51 L86.67 112.86 L90 110.34 L93.33 107.83 L96.67 105.34 L100 102.9 L103.33 100.51 L106.67 98.16 L110 95.84 L113.33 93.53 L116.67 91.22 L120 88.9 L123.33 86.56 L126.67 84.21 L130 81.87 L133.33 79.53 L136.67 77.2 L140 74.9 L143.33 72.58 L146.67 70.23 L150 67.9 L153.33 65.62 L156.67 63.44 L160 61.4 L163.33 59.51 L166.67 57.73 L170 56.04 L173.33 54.44 L176.67 52.9 L180 51.4 L183.33 49.98 L186.67 48.64 L190 47.38 L193.33 46.13 L196.67 44.89 L200 43.6 L203.33 42.27 L206.67 40.91 L210 39.55 L213.33 38.2 L216.67 36.88 L220 35.6 L223.33 34.36 L226.67 33.3 L230 32.41 L233.33 31.55 L236.67 30.72 L240 29.92 L243.3 29.16 L246.57 28.44 L249.83 27.75 L253.13 26.81 L256.51 25.86 L260 24.9 L263.89 23.87 L268.21 22.77 L272.6 21.68 L276.71 20.67 L280.2 19.82 L282.7 19.2" fill="none" stroke="#78b240" stroke-width="1" />
<circle cx="64.3" cy="126.99" r="1.9" fill="#ee2e2e"/>
<circle cx="66.9" cy="124.94" r="1.9" fill="#ee2e2e"/>
<circle cx="69.5" cy="122.9" r="1.9" fill="#ee2e2e"/>
<circle cx="72.1" cy="120.86" r="1.9" fill="#ee2e2e"/>
<circle cx="74.7" cy="118.84" r="1.9" fill="#ee2e2e"/>
<circle cx="77.3" cy="116.85" r="1.9" fill="#ee2e2e"/>
<circle cx="79.9" cy="114.88" r="1.9" fill="#ee2e2e"/>
<circle cx="82.5" cy="112.94" r="1.9" fill="#ee2e2e"/>
<circle cx="85.1" cy="111.01" r="1.9" fill="#ee2e2e"/>
<circle cx="87.7" cy="109.1" r="1.9" fill="#ee2e2e"/>
<circle cx="90.3" cy="107.21" r="1.9" fill="#ee2e2e"/>
<circle cx="92.9" cy="105.34" r="1.9" fill="#ee2e2e"/>
<circle cx="95.5" cy="103.5" r="1.9" fill="#ee2e2e"/>
<circle cx="98.1" cy="101.7" r="1.9" fill="#ee2e2e"/>
<circle cx="100.7" cy="99.94" r="1.9" fill="#ee2e2e"/>
<circle cx="103.3" cy="98.22" r="1.9" fill="#ee2e2e"/>
<circle cx="105.9" cy="96.56" r="1.9" fill="#ee2e2e"/>
<circle cx="108.5" cy="94.93" r="1.9" fill="#ee2e2e"/>
<circle cx="111.1" cy="93.32" r="1.9" fill="#ee2e2e"/>
<circle cx="113.7" cy="91.71" r="1.9" fill="#ee2e2e"/>
<circle cx="116.3" cy="90.11" r="1.9" fill="#ee2e2e"/>
<circle cx="118.9" cy="88.49" r="1.9" fill="#ee2e2e"/>
<circle cx="121.5" cy="86.85" r="1.9" fill="#ee2e2e"/>
<circle cx="124.1" cy="85.2" r="1.9" fill="#ee2e2e"/>
<circle cx="126.7" cy="83.54" r="1.9" fill="#ee2e2e"/>
<circle cx="129.3" cy="81.88" r="1.9" fill="#ee2e2e"/>
<circle cx="131.9" cy="80.23" r="1.9" fill="#ee2e2e"/>
<circle cx="134.5" cy="78.57" r="1.9" fill="#ee2e2e"/>
<circle cx="137.1" cy="76.92" r="1.9" fill="#ee2e2e"/>
<circle cx="139.7" cy="75.29" r="1.9" fill="#ee2e2e"/>
<circle cx="142.3" cy="73.69" r="1.9" fill="#ee2e2e"/>
<circle cx="144.9" cy="72.17" r="1.9" fill="#ee2e2e"/>
<circle cx="147.5" cy="70.66" r="1.9" fill="#ee2e2e"/>
<circle cx="150.1" cy="69.03" r="1.9" fill="#ee2e2e"/>
<circle cx="152.7" cy="67.12" r="1.9" fill="#ee2e2e"/>
<circle cx="155.3" cy="65.08" r="1.9" fill="#ee2e2e"/>
<circle cx="157.9" cy="63.22" r="1.9" fill="#ee2e2e"/>
<circle cx="160.5" cy="61.61" r="1.9" fill="#ee2e2e"/>
<circle cx="163.1" cy="60.1" r="1.9" fill="#ee2e2e"/>
<circle cx="165.7" cy="58.63" r="1.9" fill="#ee2e2e"/>
<circle cx="168.3" cy="57.21" r="1.9" fill="#ee2e2e"/>
<circle cx="170.9" cy="55.82" r="1.9" fill="#ee2e2e"/>
<circle cx="173.5" cy="54.46" r="1.9" fill="#ee2e2e"/>
<circle cx="176.1" cy="53.14" r="1.9" fill="#ee2e2e"/>
<circle cx="178.7" cy="51.88" r="1.9" fill="#ee2e2e"/>
<circle cx="181.3" cy="50.65" r="1.9" fill="#ee2e2e"/>
<circle cx="183.9" cy="49.48" r="1.9" fill="#ee2e2e"/>
<circle cx="186.5" cy="48.37" r="1.9" fill="#ee2e2e"/>
<circle cx="189.1" cy="47.3" r="1.9" fill="#ee2e2e"/>
<circle cx="191.7" cy="46.26" r="1.9" fill="#ee2e2e"/>
<circle cx="194.3" cy="45.24" r="1.9" fill="#ee2e2e"/>
<circle cx="196.9" cy="44.23" r="1.9" fill="#ee2e2e"/>
<circle cx="199.5" cy="43.23" r="1.9" fill="#ee2e2e"/>
<circle cx="202.1" cy="42.24" r="1.9" fill="#ee2e2e"/>
<circle cx="204.7" cy="41.25" r="1.9" fill="#ee2e2e"/>
<circle cx="207.3" cy="40.28" r="1.9" fill="#ee2e2e"/>
<circle cx="209.9" cy="39.33" r="1.9" fill="#ee2e2e"/>
<circle cx="212.5" cy="38.4" r="1.9" fill="#ee2e2e"/>
<circle cx="215.1" cy="37.49" r="1.9" fill="#ee2e2e"/>
<circle cx="217.7" cy="36.6" r="1.9" fill="#ee2e2e"/>
<circle cx="220.3" cy="35.73" r="1.9" fill="#ee2e2e"/>
<circle cx="222.9" cy="34.88" r="1.9" fill="#ee2e2e"/>
<circle cx="225.5" cy="34.04" r="1.9" fill="#ee2e2e"/>
<circle cx="228.1" cy="33.22" r="1.9" fill="#ee2e2e"/>
<circle cx="230.7" cy="32.43" r="1.9" fill="#ee2e2e"/>
<circle cx="233.3" cy="31.65" r="1.9" fill="#ee2e2e"/>
<circle cx="65.5" cy="127.65" r="1.9" fill="#ee2e2e"/>
<circle cx="68.1" cy="125.6" r="1.9" fill="#ee2e2e"/>
<circle cx="70.7" cy="123.56" r="1.9" fill="#ee2e2e"/>
<circle cx="73.3" cy="121.53" r="1.9" fill="#ee2e2e"/>
<circle cx="75.9" cy="119.52" r="1.9" fill="#ee2e2e"/>
<circle cx="78.5" cy="117.54" r="1.9" fill="#ee2e2e"/>
<circle cx="81.1" cy="115.58" r="1.9" fill="#ee2e2e"/>
<circle cx="83.7" cy="113.65" r="1.9" fill="#ee2e2e"/>
<circle cx="86.3" cy="111.72" r="1.9" fill="#ee2e2e"/>
<circle cx="88.9" cy="109.82" r="1.9" fill="#ee2e2e"/>
<circle cx="91.5" cy="107.95" r="1.9" fill="#ee2e2e"/>
<circle cx="94.1" cy="106.09" r="1.9" fill="#ee2e2e"/>
<circle cx="96.7" cy="104.26" r="1.9" fill="#ee2e2e"/>
<circle cx="99.3" cy="102.48" r="1.9" fill="#ee2e2e"/>
<circle cx="101.9" cy="100.74" r="1.9" fill="#ee2e2e"/>
<circle cx="104.5" cy="99.05" r="1.9" fill="#ee2e2e"/>
<circle cx="107.1" cy="97.4" r="1.9" fill="#ee2e2e"/>
<circle cx="109.7" cy="95.78" r="1.9" fill="#ee2e2e"/>
<circle cx="112.3" cy="94.18" r="1.9" fill="#ee2e2e"/>
<circle cx="114.9" cy="92.57" r="1.9" fill="#ee2e2e"/>
<circle cx="117.5" cy="90.96" r="1.9" fill="#ee2e2e"/>
<circle cx="120.1" cy="89.34" r="1.9" fill="#ee2e2e"/>
<circle cx="122.7" cy="87.69" r="1.9" fill="#ee2e2e"/>
<circle cx="125.3" cy="86.03" r="1.9" fill="#ee2e2e"/>
<circle cx="127.9" cy="84.38" r="1.9" fill="#ee2e2e"/>
<circle cx="130.5" cy="82.72" r="1.9" fill="#ee2e2e"/>
<circle cx="133.1" cy="81.06" r="1.9" fill="#ee2e2e"/>
<circle cx="135.7" cy="79.41" r="1.9" fill="#ee2e2e"/>
<circle cx="138.3" cy="77.77" r="1.9" fill="#ee2e2e"/>
<circle cx="140.9" cy="76.15" r="1.9" fill="#ee2e2e"/>
<circle cx="143.5" cy="74.59" r="1.9" fill="#ee2e2e"/>
<circle cx="146.1" cy="73.08" r="1.9" fill="#ee2e2e"/>
<circle cx="148.7" cy="71.53" r="1.9" fill="#ee2e2e"/>
<circle cx="151.3" cy="69.79" r="1.9" fill="#ee2e2e"/>
<circle cx="153.9" cy="67.77" r="1.9" fill="#ee2e2e"/>
<circle cx="156.5" cy="65.8" r="1.9" fill="#ee2e2e"/>
<circle cx="159.1" cy="64.07" r="1.9" fill="#ee2e2e"/>
<circle cx="161.7" cy="62.51" r="1.9" fill="#ee2e2e"/>
<circle cx="164.3" cy="61.02" r="1.9" fill="#ee2e2e"/>
<circle cx="166.9" cy="59.57" r="1.9" fill="#ee2e2e"/>
<circle cx="169.5" cy="58.15" r="1.9" fill="#ee2e2e"/>
<circle cx="172.1" cy="56.75" r="1.9" fill="#ee2e2e"/>
<circle cx="174.7" cy="55.37" r="1.9" fill="#ee2e2e"/>
<circle cx="177.3" cy="54.02" r="1.9" fill="#ee2e2e"/>
<circle cx="179.9" cy="52.71" r="1.9" fill="#ee2e2e"/>
<circle cx="182.5" cy="51.48" r="1.9" fill="#ee2e2e"/>
<circle cx="185.1" cy="50.29" r="1.9" fill="#ee2e2e"/>
<circle cx="187.7" cy="49.14" r="1.9" fill="#ee2e2e"/>
<circle cx="190.3" cy="48.03" r="1.9" fill="#ee2e2e"/>
<circle cx="192.9" cy="46.96" r="1.9" fill="#ee2e2e"/>
<circle cx="195.5" cy="45.9" r="1.9" fill="#ee2e2e"/>
<circle cx="198.1" cy="44.85" r="1.9" fill="#ee2e2e"/>
<circle cx="200.7" cy="43.8" r="1.9" fill="#ee2e2e"/>
<circle cx="203.3" cy="42.76" r="1.9" fill="#ee2e2e"/>
<circle cx="205.9" cy="41.73" r="1.9" fill="#ee2e2e"/>
<circle cx="208.5" cy="40.73" r="1.9" fill="#ee2e2e"/>
<circle cx="211.1" cy="39.73" r="1.9" fill="#ee2e2e"/>
<circle cx="213.7" cy="38.76" r="1.9" fill="#ee2e2e"/>
<circle cx="216.3" cy="37.81" r="1.9" fill="#ee2e2e"/>
<circle cx="218.9" cy="36.89" r="1.9" fill="#ee2e2e"/>
<circle cx="221.5" cy="35.98" r="1.9" fill="#ee2e2e"/>
<circle cx="224.1" cy="35.09" r="1.9" fill="#ee2e2e"/>
<circle cx="226.7" cy="34.2" r="1.9" fill="#ee2e2e"/>
<circle cx="229.3" cy="33.35" r="1.9" fill="#ee2e2e"/>
<circle cx="231.9" cy="32.55" r="1.9" fill="#ee2e2e"/>
<path d="M46.8 140 L48.16 139.15 L49.97 138.04 L52.15 136.69 L54.61 135.13 L57.25 133.39 L60 131.5 L62.94 129.38 L66.16 126.97 L69.58 124.21 L73.08 121.35 L76.59 118.49 L80 115.72 L83.33 113.03 L86.67 110.46 L90 107.94 L93.33 105.43 L96.67 102.94 L100 100.5 L103.33 98.11 L106.67 95.76 L110 93.44 L113.33 91.13 L116.67 88.82 L120 86.5 L123.33 84.16 L126.67 81.81 L130 79.47 L133.33 77.13 L136.67 74.8 L140 72.5 L143.33 70.18 L146.67 67.83 L150 65.5 L153.33 63.22 L156.67 61.04 L160 59 L163.33 57.11 L166.67 55.33 L170 53.64 L173.33 52.04 L176.67 50.5 L180 49 L183.33 47.58 L186.67 46.24 L190 44.98 L193.33 43.73 L196.67 42.49 L200 41.2 L203.33 39.87 L206.67 38.51 L210 37.15 L213.33 35.8 L216.67 34.48 L220 33.2 L223.33 31.96 L226.67 30.97 L230 30.23 L233.33 29.51 L236.67 28.83 L240 28.18 L243.3 27.57 L246.57 26.99 L249.83 26.45 L253.13 25.51 L256.51 24.56 L260 23.6 L263.89 22.57 L268.21 21.47 L272.6 20.38 L276.71 19.37 L280.2 18.52 L282.7 17.9" fill="none" stroke="#ee2e2e" stroke-width="1" />
<circle cx="66.4" cy="131.94" r="2.1" fill="none" stroke="#cf3050" stroke-width="1"/>
<circle cx="69" cy="129.89" r="2.1" fill="none" stroke="#cf3050" stroke-width="1"/>
<circle cx="71.6" cy="127.85" r="2.1" fill="none" stroke="#cf3050" stroke-width="1"/>
<circle cx="74.2" cy="125.83" r="2.1" fill="none" stroke="#cf3050" stroke-width="1"/>
<circle cx="76.8" cy="123.82" r="2.1" fill="none" stroke="#cf3050" stroke-width="1"/>
<circle cx="79.4" cy="121.85" r="2.1" fill="none" stroke="#cf3050" stroke-width="1"/>
<circle cx="82" cy="119.91" r="2.1" fill="none" stroke="#cf3050" stroke-width="1"/>
<circle cx="84.6" cy="117.98" r="2.1" fill="none" stroke="#cf3050" stroke-width="1"/>
<circle cx="87.2" cy="116.07" r="2.1" fill="none" stroke="#cf3050" stroke-width="1"/>
<circle cx="89.8" cy="114.17" r="2.1" fill="none" stroke="#cf3050" stroke-width="1"/>
<circle cx="92.4" cy="112.3" r="2.1" fill="none" stroke="#cf3050" stroke-width="1"/>
<circle cx="95" cy="110.46" r="2.1" fill="none" stroke="#cf3050" stroke-width="1"/>
<circle cx="97.6" cy="108.64" r="2.1" fill="none" stroke="#cf3050" stroke-width="1"/>
<circle cx="100.2" cy="106.87" r="2.1" fill="none" stroke="#cf3050" stroke-width="1"/>
<circle cx="102.8" cy="105.15" r="2.1" fill="none" stroke="#cf3050" stroke-width="1"/>
<circle cx="105.4" cy="103.48" r="2.1" fill="none" stroke="#cf3050" stroke-width="1"/>
<circle cx="108" cy="101.84" r="2.1" fill="none" stroke="#cf3050" stroke-width="1"/>
<circle cx="110.6" cy="100.22" r="2.1" fill="none" stroke="#cf3050" stroke-width="1"/>
<circle cx="113.2" cy="98.62" r="2.1" fill="none" stroke="#cf3050" stroke-width="1"/>
<circle cx="115.8" cy="97.02" r="2.1" fill="none" stroke="#cf3050" stroke-width="1"/>
<circle cx="118.4" cy="95.4" r="2.1" fill="none" stroke="#cf3050" stroke-width="1"/>
<circle cx="121" cy="93.77" r="2.1" fill="none" stroke="#cf3050" stroke-width="1"/>
<circle cx="123.6" cy="92.12" r="2.1" fill="none" stroke="#cf3050" stroke-width="1"/>
<circle cx="126.2" cy="90.46" r="2.1" fill="none" stroke="#cf3050" stroke-width="1"/>
<circle cx="128.8" cy="88.8" r="2.1" fill="none" stroke="#cf3050" stroke-width="1"/>
<circle cx="131.4" cy="87.14" r="2.1" fill="none" stroke="#cf3050" stroke-width="1"/>
<circle cx="134" cy="85.49" r="2.1" fill="none" stroke="#cf3050" stroke-width="1"/>
<circle cx="136.6" cy="83.84" r="2.1" fill="none" stroke="#cf3050" stroke-width="1"/>
<circle cx="139.2" cy="82.2" r="2.1" fill="none" stroke="#cf3050" stroke-width="1"/>
<circle cx="141.8" cy="80.6" r="2.1" fill="none" stroke="#cf3050" stroke-width="1"/>
<circle cx="144.4" cy="79.06" r="2.1" fill="none" stroke="#cf3050" stroke-width="1"/>
<circle cx="147" cy="77.56" r="2.1" fill="none" stroke="#cf3050" stroke-width="1"/>
<circle cx="149.6" cy="75.96" r="2.1" fill="none" stroke="#cf3050" stroke-width="1"/>
<circle cx="152.2" cy="74.11" r="2.1" fill="none" stroke="#cf3050" stroke-width="1"/>
<circle cx="154.8" cy="72.07" r="2.1" fill="none" stroke="#cf3050" stroke-width="1"/>
<circle cx="157.4" cy="70.17" r="2.1" fill="none" stroke="#cf3050" stroke-width="1"/>
<circle cx="160" cy="68.5" r="2.1" fill="none" stroke="#cf3050" stroke-width="1"/>
<circle cx="162.6" cy="66.98" r="2.1" fill="none" stroke="#cf3050" stroke-width="1"/>
<circle cx="165.2" cy="65.51" r="2.1" fill="none" stroke="#cf3050" stroke-width="1"/>
<circle cx="167.8" cy="64.08" r="2.1" fill="none" stroke="#cf3050" stroke-width="1"/>
<circle cx="170.4" cy="62.65" r="2.1" fill="none" stroke="#cf3050" stroke-width="1"/>
<circle cx="173" cy="61.08" r="2.1" fill="none" stroke="#cf3050" stroke-width="1"/>
<circle cx="175.6" cy="59.57" r="2.1" fill="none" stroke="#cf3050" stroke-width="1"/>
<circle cx="178.2" cy="58.09" r="2.1" fill="none" stroke="#cf3050" stroke-width="1"/>
<circle cx="180.8" cy="56.65" r="2.1" fill="none" stroke="#cf3050" stroke-width="1"/>
<circle cx="183.4" cy="55.27" r="2.1" fill="none" stroke="#cf3050" stroke-width="1"/>
<circle cx="186" cy="53.95" r="2.1" fill="none" stroke="#cf3050" stroke-width="1"/>
<circle cx="188.6" cy="52.68" r="2.1" fill="none" stroke="#cf3050" stroke-width="1"/>
<circle cx="191.2" cy="51.43" r="2.1" fill="none" stroke="#cf3050" stroke-width="1"/>
<circle cx="193.8" cy="50.21" r="2.1" fill="none" stroke="#cf3050" stroke-width="1"/>
<circle cx="196.4" cy="49" r="2.1" fill="none" stroke="#cf3050" stroke-width="1"/>
<circle cx="199" cy="47.8" r="2.1" fill="none" stroke="#cf3050" stroke-width="1"/>
<circle cx="201.6" cy="46.6" r="2.1" fill="none" stroke="#cf3050" stroke-width="1"/>
<circle cx="204.2" cy="45.42" r="2.1" fill="none" stroke="#cf3050" stroke-width="1"/>
<circle cx="206.8" cy="44.24" r="2.1" fill="none" stroke="#cf3050" stroke-width="1"/>
<circle cx="209.4" cy="43.09" r="2.1" fill="none" stroke="#cf3050" stroke-width="1"/>
<circle cx="212" cy="41.95" r="2.1" fill="none" stroke="#cf3050" stroke-width="1"/>
<circle cx="214.6" cy="40.84" r="2.1" fill="none" stroke="#cf3050" stroke-width="1"/>
<circle cx="217.2" cy="39.75" r="2.1" fill="none" stroke="#cf3050" stroke-width="1"/>
<circle cx="219.8" cy="38.68" r="2.1" fill="none" stroke="#cf3050" stroke-width="1"/>
<circle cx="222.4" cy="37.63" r="2.1" fill="none" stroke="#cf3050" stroke-width="1"/>
<circle cx="225" cy="36.58" r="2.1" fill="none" stroke="#cf3050" stroke-width="1"/>
<circle cx="227.6" cy="35.56" r="2.1" fill="none" stroke="#cf3050" stroke-width="1"/>
<circle cx="230.2" cy="34.56" r="2.1" fill="none" stroke="#cf3050" stroke-width="1"/>
<circle cx="232.8" cy="33.78" r="2.1" fill="none" stroke="#cf3050" stroke-width="1"/>
<circle cx="235.4" cy="33.05" r="2.1" fill="none" stroke="#cf3050" stroke-width="1"/>
<circle cx="238" cy="32.36" r="2.1" fill="none" stroke="#cf3050" stroke-width="1"/>
<circle cx="240.6" cy="31.73" r="2.1" fill="none" stroke="#cf3050" stroke-width="1"/>
<circle cx="243.2" cy="31.16" r="2.1" fill="none" stroke="#cf3050" stroke-width="1"/>
<circle cx="245.8" cy="30.65" r="2.1" fill="none" stroke="#cf3050" stroke-width="1"/>
<path d="M46.8 140.4 L48.16 139.55 L49.97 138.44 L52.15 137.09 L54.61 135.53 L57.25 133.79 L60 131.9 L62.94 129.78 L66.16 127.37 L69.58 124.53 L73.08 121.59 L76.59 118.65 L80 115.81 L83.33 113.04 L86.67 110.46 L90 107.94 L93.33 105.43 L96.67 102.94 L100 100.5 L103.33 98.11 L106.67 95.76 L110 93.44 L113.33 91.13 L116.67 88.82 L120 86.5 L123.33 84.16 L126.67 81.81 L130 79.47 L133.33 77.13 L136.67 74.8 L140 72.5 L143.33 70.18 L146.67 67.83 L150 65.5 L153.33 63.22 L156.67 61.04 L160 59 L163.33 57.11 L166.67 55.33 L170 53.64 L173.33 52.04 L176.67 50.5 L180 49 L183.33 47.58 L186.67 46.24 L190 44.98 L193.33 43.73 L196.67 42.49 L200 41.2 L203.33 39.87 L206.67 38.51 L210 37.15 L213.33 35.8 L216.67 34.48 L220 33.2 L223.33 31.96 L226.67 30.98 L230 30.25 L233.33 29.55 L236.67 28.88 L240 28.24 L243.3 27.64 L246.57 27.08 L249.83 26.55 L253.13 25.61 L256.51 24.66 L260 23.7 L263.89 22.67 L268.21 21.57 L272.6 20.48 L276.71 19.47 L280.2 18.62 L282.7 18" fill="none" stroke="#cf3050" stroke-width="1" />
<circle cx="67.2" cy="130.31" r="1.75" fill="#22e3f2"/>
<circle cx="69.8" cy="128.26" r="1.75" fill="#22e3f2"/>
<circle cx="72.4" cy="126.23" r="1.75" fill="#22e3f2"/>
<circle cx="75" cy="124.21" r="1.75" fill="#22e3f2"/>
<circle cx="77.6" cy="122.22" r="1.75" fill="#22e3f2"/>
<circle cx="80.2" cy="120.25" r="1.75" fill="#22e3f2"/>
<circle cx="82.8" cy="118.31" r="1.75" fill="#22e3f2"/>
<circle cx="85.4" cy="116.39" r="1.75" fill="#22e3f2"/>
<circle cx="88" cy="114.48" r="1.75" fill="#22e3f2"/>
<circle cx="90.6" cy="112.59" r="1.75" fill="#22e3f2"/>
<circle cx="93.2" cy="110.72" r="1.75" fill="#22e3f2"/>
<circle cx="95.8" cy="108.89" r="1.75" fill="#22e3f2"/>
<circle cx="98.4" cy="107.1" r="1.75" fill="#22e3f2"/>
<circle cx="101" cy="105.34" r="1.75" fill="#22e3f2"/>
<circle cx="103.6" cy="103.63" r="1.75" fill="#22e3f2"/>
<circle cx="106.2" cy="101.97" r="1.75" fill="#22e3f2"/>
<circle cx="108.8" cy="100.34" r="1.75" fill="#22e3f2"/>
<circle cx="111.4" cy="98.73" r="1.75" fill="#22e3f2"/>
<circle cx="114" cy="97.13" r="1.75" fill="#22e3f2"/>
<circle cx="116.6" cy="95.53" r="1.75" fill="#22e3f2"/>
<circle cx="119.2" cy="93.9" r="1.75" fill="#22e3f2"/>
<circle cx="121.8" cy="92.26" r="1.75" fill="#22e3f2"/>
<circle cx="124.4" cy="90.61" r="1.75" fill="#22e3f2"/>
<circle cx="127" cy="88.95" r="1.75" fill="#22e3f2"/>
<circle cx="129.6" cy="87.29" r="1.75" fill="#22e3f2"/>
<circle cx="132.2" cy="85.63" r="1.75" fill="#22e3f2"/>
<circle cx="134.8" cy="83.98" r="1.75" fill="#22e3f2"/>
<circle cx="137.4" cy="82.33" r="1.75" fill="#22e3f2"/>
<circle cx="140" cy="80.7" r="1.75" fill="#22e3f2"/>
<circle cx="142.6" cy="79.12" r="1.75" fill="#22e3f2"/>
<circle cx="145.2" cy="77.6" r="1.75" fill="#22e3f2"/>
<circle cx="147.8" cy="76.08" r="1.75" fill="#22e3f2"/>
<circle cx="150.4" cy="74.42" r="1.75" fill="#22e3f2"/>
<circle cx="153" cy="72.49" r="1.75" fill="#22e3f2"/>
<circle cx="155.6" cy="70.45" r="1.75" fill="#22e3f2"/>
<circle cx="158.2" cy="68.64" r="1.75" fill="#22e3f2"/>
<circle cx="160.8" cy="67.03" r="1.75" fill="#22e3f2"/>
<circle cx="163.4" cy="65.53" r="1.75" fill="#22e3f2"/>
<circle cx="166" cy="64.06" r="1.75" fill="#22e3f2"/>
<circle cx="168.6" cy="62.64" r="1.75" fill="#22e3f2"/>
<circle cx="171.2" cy="61.18" r="1.75" fill="#22e3f2"/>
<circle cx="173.8" cy="59.66" r="1.75" fill="#22e3f2"/>
<circle cx="176.4" cy="58.18" r="1.75" fill="#22e3f2"/>
<circle cx="179" cy="56.74" r="1.75" fill="#22e3f2"/>
<circle cx="181.6" cy="55.36" r="1.75" fill="#22e3f2"/>
<circle cx="184.2" cy="54.03" r="1.75" fill="#22e3f2"/>
<circle cx="186.8" cy="52.75" r="1.75" fill="#22e3f2"/>
<circle cx="189.4" cy="51.51" r="1.75" fill="#22e3f2"/>
<circle cx="192" cy="50.31" r="1.75" fill="#22e3f2"/>
<circle cx="194.6" cy="49.12" r="1.75" fill="#22e3f2"/>
<circle cx="197.2" cy="47.95" r="1.75" fill="#22e3f2"/>
<circle cx="199.8" cy="46.78" r="1.75" fill="#22e3f2"/>
<circle cx="202.4" cy="45.61" r="1.75" fill="#22e3f2"/>
<circle cx="205" cy="44.46" r="1.75" fill="#22e3f2"/>
<circle cx="207.6" cy="43.32" r="1.75" fill="#22e3f2"/>
<circle cx="210.2" cy="42.2" r="1.75" fill="#22e3f2"/>
<circle cx="212.8" cy="41.11" r="1.75" fill="#22e3f2"/>
<circle cx="215.4" cy="40.03" r="1.75" fill="#22e3f2"/>
<circle cx="218" cy="38.98" r="1.75" fill="#22e3f2"/>
<circle cx="220.6" cy="37.94" r="1.75" fill="#22e3f2"/>
<circle cx="223.2" cy="36.92" r="1.75" fill="#22e3f2"/>
<circle cx="225.8" cy="35.91" r="1.75" fill="#22e3f2"/>
<circle cx="228.4" cy="34.93" r="1.75" fill="#22e3f2"/>
<circle cx="231" cy="34.02" r="1.75" fill="#22e3f2"/>
<circle cx="233.6" cy="33.25" r="1.75" fill="#22e3f2"/>
<circle cx="236.2" cy="32.53" r="1.75" fill="#22e3f2"/>
<circle cx="238.8" cy="31.86" r="1.75" fill="#22e3f2"/>
<circle cx="241.4" cy="31.26" r="1.75" fill="#22e3f2"/>
<circle cx="244" cy="30.69" r="1.75" fill="#22e3f2"/>
<circle cx="246.6" cy="30.2" r="1.75" fill="#22e3f2"/>
<circle cx="249.2" cy="29.72" r="1.75" fill="#22e3f2"/>
<path d="M46.8 146.9 L48.16 146.05 L49.97 144.94 L52.15 143.59 L54.61 142.03 L57.25 140.29 L60 138.4 L62.94 136.28 L66.16 133.85 L69.58 130.69 L73.08 127.42 L76.59 124.15 L80 120.99 L83.33 117.9 L86.67 115.26 L90 112.74 L93.33 110.23 L96.67 107.74 L100 105.3 L103.33 102.91 L106.67 100.56 L110 98.24 L113.33 95.93 L116.67 93.62 L120 91.3 L123.33 88.96 L126.67 86.61 L130 84.27 L133.33 81.93 L136.67 79.6 L140 77.3 L143.33 74.98 L146.67 72.63 L150 70.3 L153.33 68.02 L156.67 65.84 L160 63.8 L163.33 61.91 L166.67 60.13 L170 58.44 L173.33 56.84 L176.67 55.3 L180 53.8 L183.33 52.38 L186.67 51.04 L190 49.77 L193.33 48.53 L196.67 47.29 L200 46 L203.33 44.67 L206.67 43.31 L210 41.95 L213.33 40.6 L216.67 39.28 L220 38 L223.33 36.76 L226.67 35.47 L230 34.13 L233.33 32.81 L236.67 31.53 L240 30.28 L243.3 29.07 L246.57 27.91 L249.83 26.78 L253.13 25.81 L256.51 24.86 L260 23.9 L263.89 22.87 L268.21 21.77 L272.6 20.68 L276.71 19.67 L280.2 18.82 L282.7 18.2" fill="none" stroke="#22e3f2" stroke-width="1" />
</g>
<rect x="46.8" y="3.3" width="235.9" height="153.7" fill="none" stroke="#262626" stroke-width="1"/>
<line x1="54.4" y1="157" x2="54.4" y2="154.4" stroke="#262626" stroke-width="0.8"/>
<line x1="54.4" y1="3.3" x2="54.4" y2="5.9" stroke="#262626" stroke-width="0.8"/>
<line x1="90.9" y1="157" x2="90.9" y2="154.4" stroke="#262626" stroke-width="0.8"/>
<line x1="90.9" y1="3.3" x2="90.9" y2="5.9" stroke="#262626" stroke-width="0.8"/>
<line x1="127.4" y1="157" x2="127.4" y2="154.4" stroke="#262626" stroke-width="0.8"/>
<line x1="127.4" y1="3.3" x2="127.4" y2="5.9" stroke="#262626" stroke-width="0.8"/>
<line x1="163.9" y1="157" x2="163.9" y2="154.4" stroke="#262626" stroke-width="0.8"/>
<line x1="163.9" y1="3.3" x2="163.9" y2="5.9" stroke="#262626" stroke-width="0.8"/>
<line x1="200.4" y1="157" x2="200.4" y2="154.4" stroke="#262626" stroke-width="0.8"/>
<line x1="200.4" y1="3.3" x2="200.4" y2="5.9" stroke="#262626" stroke-width="0.8"/>
<line x1="236.9" y1="157" x2="236.9" y2="154.4" stroke="#262626" stroke-width="0.8"/>
<line x1="236.9" y1="3.3" x2="236.9" y2="5.9" stroke="#262626" stroke-width="0.8"/>
<line x1="273.4" y1="157" x2="273.4" y2="154.4" stroke="#262626" stroke-width="0.8"/>
<line x1="273.4" y1="3.3" x2="273.4" y2="5.9" stroke="#262626" stroke-width="0.8"/>
<line x1="47.14" y1="157" x2="47.14" y2="155.6" stroke="#262626" stroke-width="0.6"/>
<line x1="47.14" y1="3.3" x2="47.14" y2="4.7" stroke="#262626" stroke-width="0.6"/>
<line x1="48.91" y1="157" x2="48.91" y2="155.6" stroke="#262626" stroke-width="0.6"/>
<line x1="48.91" y1="3.3" x2="48.91" y2="4.7" stroke="#262626" stroke-width="0.6"/>
<line x1="50.35" y1="157" x2="50.35" y2="155.6" stroke="#262626" stroke-width="0.6"/>
<line x1="50.35" y1="3.3" x2="50.35" y2="4.7" stroke="#262626" stroke-width="0.6"/>
<line x1="51.57" y1="157" x2="51.57" y2="155.6" stroke="#262626" stroke-width="0.6"/>
<line x1="51.57" y1="3.3" x2="51.57" y2="4.7" stroke="#262626" stroke-width="0.6"/>
<line x1="52.63" y1="157" x2="52.63" y2="155.6" stroke="#262626" stroke-width="0.6"/>
<line x1="52.63" y1="3.3" x2="52.63" y2="4.7" stroke="#262626" stroke-width="0.6"/>
<line x1="53.56" y1="157" x2="53.56" y2="155.6" stroke="#262626" stroke-width="0.6"/>
<line x1="53.56" y1="3.3" x2="53.56" y2="4.7" stroke="#262626" stroke-width="0.6"/>
<line x1="59.89" y1="157" x2="59.89" y2="155.6" stroke="#262626" stroke-width="0.6"/>
<line x1="59.89" y1="3.3" x2="59.89" y2="4.7" stroke="#262626" stroke-width="0.6"/>
<line x1="63.11" y1="157" x2="63.11" y2="155.6" stroke="#262626" stroke-width="0.6"/>
<line x1="63.11" y1="3.3" x2="63.11" y2="4.7" stroke="#262626" stroke-width="0.6"/>
<line x1="65.39" y1="157" x2="65.39" y2="155.6" stroke="#262626" stroke-width="0.6"/>
<line x1="65.39" y1="3.3" x2="65.39" y2="4.7" stroke="#262626" stroke-width="0.6"/>
<line x1="67.16" y1="157" x2="67.16" y2="155.6" stroke="#262626" stroke-width="0.6"/>
<line x1="67.16" y1="3.3" x2="67.16" y2="4.7" stroke="#262626" stroke-width="0.6"/>
<line x1="68.6" y1="157" x2="68.6" y2="155.6" stroke="#262626" stroke-width="0.6"/>
<line x1="68.6" y1="3.3" x2="68.6" y2="4.7" stroke="#262626" stroke-width="0.6"/>
<line x1="69.82" y1="157" x2="69.82" y2="155.6" stroke="#262626" stroke-width="0.6"/>
<line x1="69.82" y1="3.3" x2="69.82" y2="4.7" stroke="#262626" stroke-width="0.6"/>
<line x1="70.88" y1="157" x2="70.88" y2="155.6" stroke="#262626" stroke-width="0.6"/>
<line x1="70.88" y1="3.3" x2="70.88" y2="4.7" stroke="#262626" stroke-width="0.6"/>
<line x1="71.81" y1="157" x2="71.81" y2="155.6" stroke="#262626" stroke-width="0.6"/>
<line x1="71.81" y1="3.3" x2="71.81" y2="4.7" stroke="#262626" stroke-width="0.6"/>
<line x1="78.14" y1="157" x2="78.14" y2="155.6" stroke="#262626" stroke-width="0.6"/>
<line x1="78.14" y1="3.3" x2="78.14" y2="4.7" stroke="#262626" stroke-width="0.6"/>
<line x1="81.36" y1="157" x2="81.36" y2="155.6" stroke="#262626" stroke-width="0.6"/>
<line x1="81.36" y1="3.3" x2="81.36" y2="4.7" stroke="#262626" stroke-width="0.6"/>
<line x1="83.64" y1="157" x2="83.64" y2="155.6" stroke="#262626" stroke-width="0.6"/>
<line x1="83.64" y1="3.3" x2="83.64" y2="4.7" stroke="#262626" stroke-width="0.6"/>
<line x1="85.41" y1="157" x2="85.41" y2="155.6" stroke="#262626" stroke-width="0.6"/>
<line x1="85.41" y1="3.3" x2="85.41" y2="4.7" stroke="#262626" stroke-width="0.6"/>
<line x1="86.85" y1="157" x2="86.85" y2="155.6" stroke="#262626" stroke-width="0.6"/>
<line x1="86.85" y1="3.3" x2="86.85" y2="4.7" stroke="#262626" stroke-width="0.6"/>
<line x1="88.07" y1="157" x2="88.07" y2="155.6" stroke="#262626" stroke-width="0.6"/>
<line x1="88.07" y1="3.3" x2="88.07" y2="4.7" stroke="#262626" stroke-width="0.6"/>
<line x1="89.13" y1="157" x2="89.13" y2="155.6" stroke="#262626" stroke-width="0.6"/>
<line x1="89.13" y1="3.3" x2="89.13" y2="4.7" stroke="#262626" stroke-width="0.6"/>
<line x1="90.06" y1="157" x2="90.06" y2="155.6" stroke="#262626" stroke-width="0.6"/>
<line x1="90.06" y1="3.3" x2="90.06" y2="4.7" stroke="#262626" stroke-width="0.6"/>
<line x1="96.39" y1="157" x2="96.39" y2="155.6" stroke="#262626" stroke-width="0.6"/>
<line x1="96.39" y1="3.3" x2="96.39" y2="4.7" stroke="#262626" stroke-width="0.6"/>
<line x1="99.61" y1="157" x2="99.61" y2="155.6" stroke="#262626" stroke-width="0.6"/>
<line x1="99.61" y1="3.3" x2="99.61" y2="4.7" stroke="#262626" stroke-width="0.6"/>
<line x1="101.89" y1="157" x2="101.89" y2="155.6" stroke="#262626" stroke-width="0.6"/>
<line x1="101.89" y1="3.3" x2="101.89" y2="4.7" stroke="#262626" stroke-width="0.6"/>
<line x1="103.66" y1="157" x2="103.66" y2="155.6" stroke="#262626" stroke-width="0.6"/>
<line x1="103.66" y1="3.3" x2="103.66" y2="4.7" stroke="#262626" stroke-width="0.6"/>
<line x1="105.1" y1="157" x2="105.1" y2="155.6" stroke="#262626" stroke-width="0.6"/>
<line x1="105.1" y1="3.3" x2="105.1" y2="4.7" stroke="#262626" stroke-width="0.6"/>
<line x1="106.32" y1="157" x2="106.32" y2="155.6" stroke="#262626" stroke-width="0.6"/>
<line x1="106.32" y1="3.3" x2="106.32" y2="4.7" stroke="#262626" stroke-width="0.6"/>
<line x1="107.38" y1="157" x2="107.38" y2="155.6" stroke="#262626" stroke-width="0.6"/>
<line x1="107.38" y1="3.3" x2="107.38" y2="4.7" stroke="#262626" stroke-width="0.6"/>
<line x1="108.31" y1="157" x2="108.31" y2="155.6" stroke="#262626" stroke-width="0.6"/>
<line x1="108.31" y1="3.3" x2="108.31" y2="4.7" stroke="#262626" stroke-width="0.6"/>
<line x1="114.64" y1="157" x2="114.64" y2="155.6" stroke="#262626" stroke-width="0.6"/>
<line x1="114.64" y1="3.3" x2="114.64" y2="4.7" stroke="#262626" stroke-width="0.6"/>
<line x1="117.86" y1="157" x2="117.86" y2="155.6" stroke="#262626" stroke-width="0.6"/>
<line x1="117.86" y1="3.3" x2="117.86" y2="4.7" stroke="#262626" stroke-width="0.6"/>
<line x1="120.14" y1="157" x2="120.14" y2="155.6" stroke="#262626" stroke-width="0.6"/>
<line x1="120.14" y1="3.3" x2="120.14" y2="4.7" stroke="#262626" stroke-width="0.6"/>
<line x1="121.91" y1="157" x2="121.91" y2="155.6" stroke="#262626" stroke-width="0.6"/>
<line x1="121.91" y1="3.3" x2="121.91" y2="4.7" stroke="#262626" stroke-width="0.6"/>
<line x1="123.35" y1="157" x2="123.35" y2="155.6" stroke="#262626" stroke-width="0.6"/>
<line x1="123.35" y1="3.3" x2="123.35" y2="4.7" stroke="#262626" stroke-width="0.6"/>
<line x1="124.57" y1="157" x2="124.57" y2="155.6" stroke="#262626" stroke-width="0.6"/>
<line x1="124.57" y1="3.3" x2="124.57" y2="4.7" stroke="#262626" stroke-width="0.6"/>
<line x1="125.63" y1="157" x2="125.63" y2="155.6" stroke="#262626" stroke-width="0.6"/>
<line x1="125.63" y1="3.3" x2="125.63" y2="4.7" stroke="#262626" stroke-width="0.6"/>
<line x1="126.56" y1="157" x2="126.56" y2="155.6" stroke="#262626" stroke-width="0.6"/>
<line x1="126.56" y1="3.3" x2="126.56" y2="4.7" stroke="#262626" stroke-width="0.6"/>
<line x1="132.89" y1="157" x2="132.89" y2="155.6" stroke="#262626" stroke-width="0.6"/>
<line x1="132.89" y1="3.3" x2="132.89" y2="4.7" stroke="#262626" stroke-width="0.6"/>
<line x1="136.11" y1="157" x2="136.11" y2="155.6" stroke="#262626" stroke-width="0.6"/>
<line x1="136.11" y1="3.3" x2="136.11" y2="4.7" stroke="#262626" stroke-width="0.6"/>
<line x1="138.39" y1="157" x2="138.39" y2="155.6" stroke="#262626" stroke-width="0.6"/>
<line x1="138.39" y1="3.3" x2="138.39" y2="4.7" stroke="#262626" stroke-width="0.6"/>
<line x1="140.16" y1="157" x2="140.16" y2="155.6" stroke="#262626" stroke-width="0.6"/>
<line x1="140.16" y1="3.3" x2="140.16" y2="4.7" stroke="#262626" stroke-width="0.6"/>
<line x1="141.6" y1="157" x2="141.6" y2="155.6" stroke="#262626" stroke-width="0.6"/>
<line x1="141.6" y1="3.3" x2="141.6" y2="4.7" stroke="#262626" stroke-width="0.6"/>
<line x1="142.82" y1="157" x2="142.82" y2="155.6" stroke="#262626" stroke-width="0.6"/>
<line x1="142.82" y1="3.3" x2="142.82" y2="4.7" stroke="#262626" stroke-width="0.6"/>
<line x1="143.88" y1="157" x2="143.88" y2="155.6" stroke="#262626" stroke-width="0.6"/>
<line x1="143.88" y1="3.3" x2="143.88" y2="4.7" stroke="#262626" stroke-width="0.6"/>
<line x1="144.81" y1="157" x2="144.81" y2="155.6" stroke="#262626" stroke-width="0.6"/>
<line x1="144.81" y1="3.3" x2="144.81" y2="4.7" stroke="#262626" stroke-width="0.6"/>
<line x1="151.14" y1="157" x2="151.14" y2="155.6" stroke="#262626" stroke-width="0.6"/>
<line x1="151.14" y1="3.3" x2="151.14" y2="4.7" stroke="#262626" stroke-width="0.6"/>
<line x1="154.36" y1="157" x2="154.36" y2="155.6" stroke="#262626" stroke-width="0.6"/>
<line x1="154.36" y1="3.3" x2="154.36" y2="4.7" stroke="#262626" stroke-width="0.6"/>
<line x1="156.64" y1="157" x2="156.64" y2="155.6" stroke="#262626" stroke-width="0.6"/>
<line x1="156.64" y1="3.3" x2="156.64" y2="4.7" stroke="#262626" stroke-width="0.6"/>
<line x1="158.41" y1="157" x2="158.41" y2="155.6" stroke="#262626" stroke-width="0.6"/>
<line x1="158.41" y1="3.3" x2="158.41" y2="4.7" stroke="#262626" stroke-width="0.6"/>
<line x1="159.85" y1="157" x2="159.85" y2="155.6" stroke="#262626" stroke-width="0.6"/>
<line x1="159.85" y1="3.3" x2="159.85" y2="4.7" stroke="#262626" stroke-width="0.6"/>
<line x1="161.07" y1="157" x2="161.07" y2="155.6" stroke="#262626" stroke-width="0.6"/>
<line x1="161.07" y1="3.3" x2="161.07" y2="4.7" stroke="#262626" stroke-width="0.6"/>
<line x1="162.13" y1="157" x2="162.13" y2="155.6" stroke="#262626" stroke-width="0.6"/>
<line x1="162.13" y1="3.3" x2="162.13" y2="4.7" stroke="#262626" stroke-width="0.6"/>
<line x1="163.06" y1="157" x2="163.06" y2="155.6" stroke="#262626" stroke-width="0.6"/>
<line x1="163.06" y1="3.3" x2="163.06" y2="4.7" stroke="#262626" stroke-width="0.6"/>
<line x1="169.39" y1="157" x2="169.39" y2="155.6" stroke="#262626" stroke-width="0.6"/>
<line x1="169.39" y1="3.3" x2="169.39" y2="4.7" stroke="#262626" stroke-width="0.6"/>
<line x1="172.61" y1="157" x2="172.61" y2="155.6" stroke="#262626" stroke-width="0.6"/>
<line x1="172.61" y1="3.3" x2="172.61" y2="4.7" stroke="#262626" stroke-width="0.6"/>
<line x1="174.89" y1="157" x2="174.89" y2="155.6" stroke="#262626" stroke-width="0.6"/>
<line x1="174.89" y1="3.3" x2="174.89" y2="4.7" stroke="#262626" stroke-width="0.6"/>
<line x1="176.66" y1="157" x2="176.66" y2="155.6" stroke="#262626" stroke-width="0.6"/>
<line x1="176.66" y1="3.3" x2="176.66" y2="4.7" stroke="#262626" stroke-width="0.6"/>
<line x1="178.1" y1="157" x2="178.1" y2="155.6" stroke="#262626" stroke-width="0.6"/>
<line x1="178.1" y1="3.3" x2="178.1" y2="4.7" stroke="#262626" stroke-width="0.6"/>
<line x1="179.32" y1="157" x2="179.32" y2="155.6" stroke="#262626" stroke-width="0.6"/>
<line x1="179.32" y1="3.3" x2="179.32" y2="4.7" stroke="#262626" stroke-width="0.6"/>
<line x1="180.38" y1="157" x2="180.38" y2="155.6" stroke="#262626" stroke-width="0.6"/>
<line x1="180.38" y1="3.3" x2="180.38" y2="4.7" stroke="#262626" stroke-width="0.6"/>
<line x1="181.31" y1="157" x2="181.31" y2="155.6" stroke="#262626" stroke-width="0.6"/>
<line x1="181.31" y1="3.3" x2="181.31" y2="4.7" stroke="#262626" stroke-width="0.6"/>
<line x1="187.64" y1="157" x2="187.64" y2="155.6" stroke="#262626" stroke-width="0.6"/>
<line x1="187.64" y1="3.3" x2="187.64" y2="4.7" stroke="#262626" stroke-width="0.6"/>
<line x1="190.86" y1="157" x2="190.86" y2="155.6" stroke="#262626" stroke-width="0.6"/>
<line x1="190.86" y1="3.3" x2="190.86" y2="4.7" stroke="#262626" stroke-width="0.6"/>
<line x1="193.14" y1="157" x2="193.14" y2="155.6" stroke="#262626" stroke-width="0.6"/>
<line x1="193.14" y1="3.3" x2="193.14" y2="4.7" stroke="#262626" stroke-width="0.6"/>
<line x1="194.91" y1="157" x2="194.91" y2="155.6" stroke="#262626" stroke-width="0.6"/>
<line x1="194.91" y1="3.3" x2="194.91" y2="4.7" stroke="#262626" stroke-width="0.6"/>
<line x1="196.35" y1="157" x2="196.35" y2="155.6" stroke="#262626" stroke-width="0.6"/>
<line x1="196.35" y1="3.3" x2="196.35" y2="4.7" stroke="#262626" stroke-width="0.6"/>
<line x1="197.57" y1="157" x2="197.57" y2="155.6" stroke="#262626" stroke-width="0.6"/>
<line x1="197.57" y1="3.3" x2="197.57" y2="4.7" stroke="#262626" stroke-width="0.6"/>
<line x1="198.63" y1="157" x2="198.63" y2="155.6" stroke="#262626" stroke-width="0.6"/>
<line x1="198.63" y1="3.3" x2="198.63" y2="4.7" stroke="#262626" stroke-width="0.6"/>
<line x1="199.56" y1="157" x2="199.56" y2="155.6" stroke="#262626" stroke-width="0.6"/>
<line x1="199.56" y1="3.3" x2="199.56" y2="4.7" stroke="#262626" stroke-width="0.6"/>
<line x1="205.89" y1="157" x2="205.89" y2="155.6" stroke="#262626" stroke-width="0.6"/>
<line x1="205.89" y1="3.3" x2="205.89" y2="4.7" stroke="#262626" stroke-width="0.6"/>
<line x1="209.11" y1="157" x2="209.11" y2="155.6" stroke="#262626" stroke-width="0.6"/>
<line x1="209.11" y1="3.3" x2="209.11" y2="4.7" stroke="#262626" stroke-width="0.6"/>
<line x1="211.39" y1="157" x2="211.39" y2="155.6" stroke="#262626" stroke-width="0.6"/>
<line x1="211.39" y1="3.3" x2="211.39" y2="4.7" stroke="#262626" stroke-width="0.6"/>
<line x1="213.16" y1="157" x2="213.16" y2="155.6" stroke="#262626" stroke-width="0.6"/>
<line x1="213.16" y1="3.3" x2="213.16" y2="4.7" stroke="#262626" stroke-width="0.6"/>
<line x1="214.6" y1="157" x2="214.6" y2="155.6" stroke="#262626" stroke-width="0.6"/>
<line x1="214.6" y1="3.3" x2="214.6" y2="4.7" stroke="#262626" stroke-width="0.6"/>
<line x1="215.82" y1="157" x2="215.82" y2="155.6" stroke="#262626" stroke-width="0.6"/>
<line x1="215.82" y1="3.3" x2="215.82" y2="4.7" stroke="#262626" stroke-width="0.6"/>
<line x1="216.88" y1="157" x2="216.88" y2="155.6" stroke="#262626" stroke-width="0.6"/>
<line x1="216.88" y1="3.3" x2="216.88" y2="4.7" stroke="#262626" stroke-width="0.6"/>
<line x1="217.81" y1="157" x2="217.81" y2="155.6" stroke="#262626" stroke-width="0.6"/>
<line x1="217.81" y1="3.3" x2="217.81" y2="4.7" stroke="#262626" stroke-width="0.6"/>
<line x1="224.14" y1="157" x2="224.14" y2="155.6" stroke="#262626" stroke-width="0.6"/>
<line x1="224.14" y1="3.3" x2="224.14" y2="4.7" stroke="#262626" stroke-width="0.6"/>
<line x1="227.36" y1="157" x2="227.36" y2="155.6" stroke="#262626" stroke-width="0.6"/>
<line x1="227.36" y1="3.3" x2="227.36" y2="4.7" stroke="#262626" stroke-width="0.6"/>
<line x1="229.64" y1="157" x2="229.64" y2="155.6" stroke="#262626" stroke-width="0.6"/>
<line x1="229.64" y1="3.3" x2="229.64" y2="4.7" stroke="#262626" stroke-width="0.6"/>
<line x1="231.41" y1="157" x2="231.41" y2="155.6" stroke="#262626" stroke-width="0.6"/>
<line x1="231.41" y1="3.3" x2="231.41" y2="4.7" stroke="#262626" stroke-width="0.6"/>
<line x1="232.85" y1="157" x2="232.85" y2="155.6" stroke="#262626" stroke-width="0.6"/>
<line x1="232.85" y1="3.3" x2="232.85" y2="4.7" stroke="#262626" stroke-width="0.6"/>
<line x1="234.07" y1="157" x2="234.07" y2="155.6" stroke="#262626" stroke-width="0.6"/>
<line x1="234.07" y1="3.3" x2="234.07" y2="4.7" stroke="#262626" stroke-width="0.6"/>
<line x1="235.13" y1="157" x2="235.13" y2="155.6" stroke="#262626" stroke-width="0.6"/>
<line x1="235.13" y1="3.3" x2="235.13" y2="4.7" stroke="#262626" stroke-width="0.6"/>
<line x1="236.06" y1="157" x2="236.06" y2="155.6" stroke="#262626" stroke-width="0.6"/>
<line x1="236.06" y1="3.3" x2="236.06" y2="4.7" stroke="#262626" stroke-width="0.6"/>
<line x1="242.39" y1="157" x2="242.39" y2="155.6" stroke="#262626" stroke-width="0.6"/>
<line x1="242.39" y1="3.3" x2="242.39" y2="4.7" stroke="#262626" stroke-width="0.6"/>
<line x1="245.61" y1="157" x2="245.61" y2="155.6" stroke="#262626" stroke-width="0.6"/>
<line x1="245.61" y1="3.3" x2="245.61" y2="4.7" stroke="#262626" stroke-width="0.6"/>
<line x1="247.89" y1="157" x2="247.89" y2="155.6" stroke="#262626" stroke-width="0.6"/>
<line x1="247.89" y1="3.3" x2="247.89" y2="4.7" stroke="#262626" stroke-width="0.6"/>
<line x1="249.66" y1="157" x2="249.66" y2="155.6" stroke="#262626" stroke-width="0.6"/>
<line x1="249.66" y1="3.3" x2="249.66" y2="4.7" stroke="#262626" stroke-width="0.6"/>
<line x1="251.1" y1="157" x2="251.1" y2="155.6" stroke="#262626" stroke-width="0.6"/>
<line x1="251.1" y1="3.3" x2="251.1" y2="4.7" stroke="#262626" stroke-width="0.6"/>
<line x1="252.32" y1="157" x2="252.32" y2="155.6" stroke="#262626" stroke-width="0.6"/>
<line x1="252.32" y1="3.3" x2="252.32" y2="4.7" stroke="#262626" stroke-width="0.6"/>
<line x1="253.38" y1="157" x2="253.38" y2="155.6" stroke="#262626" stroke-width="0.6"/>
<line x1="253.38" y1="3.3" x2="253.38" y2="4.7" stroke="#262626" stroke-width="0.6"/>
<line x1="254.31" y1="157" x2="254.31" y2="155.6" stroke="#262626" stroke-width="0.6"/>
<line x1="254.31" y1="3.3" x2="254.31" y2="4.7" stroke="#262626" stroke-width="0.6"/>
<line x1="260.64" y1="157" x2="260.64" y2="155.6" stroke="#262626" stroke-width="0.6"/>
<line x1="260.64" y1="3.3" x2="260.64" y2="4.7" stroke="#262626" stroke-width="0.6"/>
<line x1="263.86" y1="157" x2="263.86" y2="155.6" stroke="#262626" stroke-width="0.6"/>
<line x1="263.86" y1="3.3" x2="263.86" y2="4.7" stroke="#262626" stroke-width="0.6"/>
<line x1="266.14" y1="157" x2="266.14" y2="155.6" stroke="#262626" stroke-width="0.6"/>
<line x1="266.14" y1="3.3" x2="266.14" y2="4.7" stroke="#262626" stroke-width="0.6"/>
<line x1="267.91" y1="157" x2="267.91" y2="155.6" stroke="#262626" stroke-width="0.6"/>
<line x1="267.91" y1="3.3" x2="267.91" y2="4.7" stroke="#262626" stroke-width="0.6"/>
<line x1="269.35" y1="157" x2="269.35" y2="155.6" stroke="#262626" stroke-width="0.6"/>
<line x1="269.35" y1="3.3" x2="269.35" y2="4.7" stroke="#262626" stroke-width="0.6"/>
<line x1="270.57" y1="157" x2="270.57" y2="155.6" stroke="#262626" stroke-width="0.6"/>
<line x1="270.57" y1="3.3" x2="270.57" y2="4.7" stroke="#262626" stroke-width="0.6"/>
<line x1="271.63" y1="157" x2="271.63" y2="155.6" stroke="#262626" stroke-width="0.6"/>
<line x1="271.63" y1="3.3" x2="271.63" y2="4.7" stroke="#262626" stroke-width="0.6"/>
<line x1="272.56" y1="157" x2="272.56" y2="155.6" stroke="#262626" stroke-width="0.6"/>
<line x1="272.56" y1="3.3" x2="272.56" y2="4.7" stroke="#262626" stroke-width="0.6"/>
<line x1="278.89" y1="157" x2="278.89" y2="155.6" stroke="#262626" stroke-width="0.6"/>
<line x1="278.89" y1="3.3" x2="278.89" y2="4.7" stroke="#262626" stroke-width="0.6"/>
<line x1="282.11" y1="157" x2="282.11" y2="155.6" stroke="#262626" stroke-width="0.6"/>
<line x1="282.11" y1="3.3" x2="282.11" y2="4.7" stroke="#262626" stroke-width="0.6"/>
<line x1="72.65" y1="157" x2="72.65" y2="155.6" stroke="#262626" stroke-width="0.6"/>
<line x1="72.65" y1="3.3" x2="72.65" y2="4.7" stroke="#262626" stroke-width="0.6"/>
<line x1="109.15" y1="157" x2="109.15" y2="155.6" stroke="#262626" stroke-width="0.6"/>
<line x1="109.15" y1="3.3" x2="109.15" y2="4.7" stroke="#262626" stroke-width="0.6"/>
<line x1="145.65" y1="157" x2="145.65" y2="155.6" stroke="#262626" stroke-width="0.6"/>
<line x1="145.65" y1="3.3" x2="145.65" y2="4.7" stroke="#262626" stroke-width="0.6"/>
<line x1="182.15" y1="157" x2="182.15" y2="155.6" stroke="#262626" stroke-width="0.6"/>
<line x1="182.15" y1="3.3" x2="182.15" y2="4.7" stroke="#262626" stroke-width="0.6"/>
<line x1="218.65" y1="157" x2="218.65" y2="155.6" stroke="#262626" stroke-width="0.6"/>
<line x1="218.65" y1="3.3" x2="218.65" y2="4.7" stroke="#262626" stroke-width="0.6"/>
<line x1="255.15" y1="157" x2="255.15" y2="155.6" stroke="#262626" stroke-width="0.6"/>
<line x1="255.15" y1="3.3" x2="255.15" y2="4.7" stroke="#262626" stroke-width="0.6"/>
<line x1="46.8" y1="157" x2="49.4" y2="157" stroke="#262626" stroke-width="0.8"/>
<line x1="282.7" y1="157" x2="280.1" y2="157" stroke="#262626" stroke-width="0.8"/>
<line x1="46.8" y1="129.06" x2="49.4" y2="129.06" stroke="#262626" stroke-width="0.8"/>
<line x1="282.7" y1="129.06" x2="280.1" y2="129.06" stroke="#262626" stroke-width="0.8"/>
<line x1="46.8" y1="101.12" x2="49.4" y2="101.12" stroke="#262626" stroke-width="0.8"/>
<line x1="282.7" y1="101.12" x2="280.1" y2="101.12" stroke="#262626" stroke-width="0.8"/>
<line x1="46.8" y1="73.18" x2="49.4" y2="73.18" stroke="#262626" stroke-width="0.8"/>
<line x1="282.7" y1="73.18" x2="280.1" y2="73.18" stroke="#262626" stroke-width="0.8"/>
<line x1="46.8" y1="45.24" x2="49.4" y2="45.24" stroke="#262626" stroke-width="0.8"/>
<line x1="282.7" y1="45.24" x2="280.1" y2="45.24" stroke="#262626" stroke-width="0.8"/>
<line x1="46.8" y1="17.3" x2="49.4" y2="17.3" stroke="#262626" stroke-width="0.8"/>
<line x1="282.7" y1="17.3" x2="280.1" y2="17.3" stroke="#262626" stroke-width="0.8"/>
<line x1="46.8" y1="152.79" x2="48.2" y2="152.79" stroke="#262626" stroke-width="0.6"/>
<line x1="282.7" y1="152.79" x2="281.3" y2="152.79" stroke="#262626" stroke-width="0.6"/>
<line x1="46.8" y1="150.33" x2="48.2" y2="150.33" stroke="#262626" stroke-width="0.6"/>
<line x1="282.7" y1="150.33" x2="281.3" y2="150.33" stroke="#262626" stroke-width="0.6"/>
<line x1="46.8" y1="148.59" x2="48.2" y2="148.59" stroke="#262626" stroke-width="0.6"/>
<line x1="282.7" y1="148.59" x2="281.3" y2="148.59" stroke="#262626" stroke-width="0.6"/>
<line x1="46.8" y1="147.24" x2="48.2" y2="147.24" stroke="#262626" stroke-width="0.6"/>
<line x1="282.7" y1="147.24" x2="281.3" y2="147.24" stroke="#262626" stroke-width="0.6"/>
<line x1="46.8" y1="146.13" x2="48.2" y2="146.13" stroke="#262626" stroke-width="0.6"/>
<line x1="282.7" y1="146.13" x2="281.3" y2="146.13" stroke="#262626" stroke-width="0.6"/>
<line x1="46.8" y1="145.19" x2="48.2" y2="145.19" stroke="#262626" stroke-width="0.6"/>
<line x1="282.7" y1="145.19" x2="281.3" y2="145.19" stroke="#262626" stroke-width="0.6"/>
<line x1="46.8" y1="144.38" x2="48.2" y2="144.38" stroke="#262626" stroke-width="0.6"/>
<line x1="282.7" y1="144.38" x2="281.3" y2="144.38" stroke="#262626" stroke-width="0.6"/>
<line x1="46.8" y1="143.67" x2="48.2" y2="143.67" stroke="#262626" stroke-width="0.6"/>
<line x1="282.7" y1="143.67" x2="281.3" y2="143.67" stroke="#262626" stroke-width="0.6"/>
<line x1="46.8" y1="138.82" x2="48.2" y2="138.82" stroke="#262626" stroke-width="0.6"/>
<line x1="282.7" y1="138.82" x2="281.3" y2="138.82" stroke="#262626" stroke-width="0.6"/>
<line x1="46.8" y1="136.36" x2="48.2" y2="136.36" stroke="#262626" stroke-width="0.6"/>
<line x1="282.7" y1="136.36" x2="281.3" y2="136.36" stroke="#262626" stroke-width="0.6"/>
<line x1="46.8" y1="134.62" x2="48.2" y2="134.62" stroke="#262626" stroke-width="0.6"/>
<line x1="282.7" y1="134.62" x2="281.3" y2="134.62" stroke="#262626" stroke-width="0.6"/>
<line x1="46.8" y1="133.27" x2="48.2" y2="133.27" stroke="#262626" stroke-width="0.6"/>
<line x1="282.7" y1="133.27" x2="281.3" y2="133.27" stroke="#262626" stroke-width="0.6"/>
<line x1="46.8" y1="132.16" x2="48.2" y2="132.16" stroke="#262626" stroke-width="0.6"/>
<line x1="282.7" y1="132.16" x2="281.3" y2="132.16" stroke="#262626" stroke-width="0.6"/>
<line x1="46.8" y1="131.22" x2="48.2" y2="131.22" stroke="#262626" stroke-width="0.6"/>
<line x1="282.7" y1="131.22" x2="281.3" y2="131.22" stroke="#262626" stroke-width="0.6"/>
<line x1="46.8" y1="130.41" x2="48.2" y2="130.41" stroke="#262626" stroke-width="0.6"/>
<line x1="282.7" y1="130.41" x2="281.3" y2="130.41" stroke="#262626" stroke-width="0.6"/>
<line x1="46.8" y1="129.7" x2="48.2" y2="129.7" stroke="#262626" stroke-width="0.6"/>
<line x1="282.7" y1="129.7" x2="281.3" y2="129.7" stroke="#262626" stroke-width="0.6"/>
<line x1="46.8" y1="124.85" x2="48.2" y2="124.85" stroke="#262626" stroke-width="0.6"/>
<line x1="282.7" y1="124.85" x2="281.3" y2="124.85" stroke="#262626" stroke-width="0.6"/>
<line x1="46.8" y1="122.39" x2="48.2" y2="122.39" stroke="#262626" stroke-width="0.6"/>
<line x1="282.7" y1="122.39" x2="281.3" y2="122.39" stroke="#262626" stroke-width="0.6"/>
<line x1="46.8" y1="120.65" x2="48.2" y2="120.65" stroke="#262626" stroke-width="0.6"/>
<line x1="282.7" y1="120.65" x2="281.3" y2="120.65" stroke="#262626" stroke-width="0.6"/>
<line x1="46.8" y1="119.3" x2="48.2" y2="119.3" stroke="#262626" stroke-width="0.6"/>
<line x1="282.7" y1="119.3" x2="281.3" y2="119.3" stroke="#262626" stroke-width="0.6"/>
<line x1="46.8" y1="118.19" x2="48.2" y2="118.19" stroke="#262626" stroke-width="0.6"/>
<line x1="282.7" y1="118.19" x2="281.3" y2="118.19" stroke="#262626" stroke-width="0.6"/>
<line x1="46.8" y1="117.25" x2="48.2" y2="117.25" stroke="#262626" stroke-width="0.6"/>
<line x1="282.7" y1="117.25" x2="281.3" y2="117.25" stroke="#262626" stroke-width="0.6"/>
<line x1="46.8" y1="116.44" x2="48.2" y2="116.44" stroke="#262626" stroke-width="0.6"/>
<line x1="282.7" y1="116.44" x2="281.3" y2="116.44" stroke="#262626" stroke-width="0.6"/>
<line x1="46.8" y1="115.73" x2="48.2" y2="115.73" stroke="#262626" stroke-width="0.6"/>
<line x1="282.7" y1="115.73" x2="281.3" y2="115.73" stroke="#262626" stroke-width="0.6"/>
<line x1="46.8" y1="110.88" x2="48.2" y2="110.88" stroke="#262626" stroke-width="0.6"/>
<line x1="282.7" y1="110.88" x2="281.3" y2="110.88" stroke="#262626" stroke-width="0.6"/>
<line x1="46.8" y1="108.42" x2="48.2" y2="108.42" stroke="#262626" stroke-width="0.6"/>
<line x1="282.7" y1="108.42" x2="281.3" y2="108.42" stroke="#262626" stroke-width="0.6"/>
<line x1="46.8" y1="106.68" x2="48.2" y2="106.68" stroke="#262626" stroke-width="0.6"/>
<line x1="282.7" y1="106.68" x2="281.3" y2="106.68" stroke="#262626" stroke-width="0.6"/>
<line x1="46.8" y1="105.33" x2="48.2" y2="105.33" stroke="#262626" stroke-width="0.6"/>
<line x1="282.7" y1="105.33" x2="281.3" y2="105.33" stroke="#262626" stroke-width="0.6"/>
<line x1="46.8" y1="104.22" x2="48.2" y2="104.22" stroke="#262626" stroke-width="0.6"/>
<line x1="282.7" y1="104.22" x2="281.3" y2="104.22" stroke="#262626" stroke-width="0.6"/>
<line x1="46.8" y1="103.28" x2="48.2" y2="103.28" stroke="#262626" stroke-width="0.6"/>
<line x1="282.7" y1="103.28" x2="281.3" y2="103.28" stroke="#262626" stroke-width="0.6"/>
<line x1="46.8" y1="102.47" x2="48.2" y2="102.47" stroke="#262626" stroke-width="0.6"/>
<line x1="282.7" y1="102.47" x2="281.3" y2="102.47" stroke="#262626" stroke-width="0.6"/>
<line x1="46.8" y1="101.76" x2="48.2" y2="101.76" stroke="#262626" stroke-width="0.6"/>
<line x1="282.7" y1="101.76" x2="281.3" y2="101.76" stroke="#262626" stroke-width="0.6"/>
<line x1="46.8" y1="96.91" x2="48.2" y2="96.91" stroke="#262626" stroke-width="0.6"/>
<line x1="282.7" y1="96.91" x2="281.3" y2="96.91" stroke="#262626" stroke-width="0.6"/>
<line x1="46.8" y1="94.45" x2="48.2" y2="94.45" stroke="#262626" stroke-width="0.6"/>
<line x1="282.7" y1="94.45" x2="281.3" y2="94.45" stroke="#262626" stroke-width="0.6"/>
<line x1="46.8" y1="92.71" x2="48.2" y2="92.71" stroke="#262626" stroke-width="0.6"/>
<line x1="282.7" y1="92.71" x2="281.3" y2="92.71" stroke="#262626" stroke-width="0.6"/>
<line x1="46.8" y1="91.36" x2="48.2" y2="91.36" stroke="#262626" stroke-width="0.6"/>
<line x1="282.7" y1="91.36" x2="281.3" y2="91.36" stroke="#262626" stroke-width="0.6"/>
<line x1="46.8" y1="90.25" x2="48.2" y2="90.25" stroke="#262626" stroke-width="0.6"/>
<line x1="282.7" y1="90.25" x2="281.3" y2="90.25" stroke="#262626" stroke-width="0.6"/>
<line x1="46.8" y1="89.31" x2="48.2" y2="89.31" stroke="#262626" stroke-width="0.6"/>
<line x1="282.7" y1="89.31" x2="281.3" y2="89.31" stroke="#262626" stroke-width="0.6"/>
<line x1="46.8" y1="88.5" x2="48.2" y2="88.5" stroke="#262626" stroke-width="0.6"/>
<line x1="282.7" y1="88.5" x2="281.3" y2="88.5" stroke="#262626" stroke-width="0.6"/>
<line x1="46.8" y1="87.79" x2="48.2" y2="87.79" stroke="#262626" stroke-width="0.6"/>
<line x1="282.7" y1="87.79" x2="281.3" y2="87.79" stroke="#262626" stroke-width="0.6"/>
<line x1="46.8" y1="82.94" x2="48.2" y2="82.94" stroke="#262626" stroke-width="0.6"/>
<line x1="282.7" y1="82.94" x2="281.3" y2="82.94" stroke="#262626" stroke-width="0.6"/>
<line x1="46.8" y1="80.48" x2="48.2" y2="80.48" stroke="#262626" stroke-width="0.6"/>
<line x1="282.7" y1="80.48" x2="281.3" y2="80.48" stroke="#262626" stroke-width="0.6"/>
<line x1="46.8" y1="78.74" x2="48.2" y2="78.74" stroke="#262626" stroke-width="0.6"/>
<line x1="282.7" y1="78.74" x2="281.3" y2="78.74" stroke="#262626" stroke-width="0.6"/>
<line x1="46.8" y1="77.39" x2="48.2" y2="77.39" stroke="#262626" stroke-width="0.6"/>
<line x1="282.7" y1="77.39" x2="281.3" y2="77.39" stroke="#262626" stroke-width="0.6"/>
<line x1="46.8" y1="76.28" x2="48.2" y2="76.28" stroke="#262626" stroke-width="0.6"/>
<line x1="282.7" y1="76.28" x2="281.3" y2="76.28" stroke="#262626" stroke-width="0.6"/>
<line x1="46.8" y1="75.34" x2="48.2" y2="75.34" stroke="#262626" stroke-width="0.6"/>
<line x1="282.7" y1="75.34" x2="281.3" y2="75.34" stroke="#262626" stroke-width="0.6"/>
<line x1="46.8" y1="74.53" x2="48.2" y2="74.53" stroke="#262626" stroke-width="0.6"/>
<line x1="282.7" y1="74.53" x2="281.3" y2="74.53" stroke="#262626" stroke-width="0.6"/>
<line x1="46.8" y1="73.82" x2="48.2" y2="73.82" stroke="#262626" stroke-width="0.6"/>
<line x1="282.7" y1="73.82" x2="281.3" y2="73.82" stroke="#262626" stroke-width="0.6"/>
<line x1="46.8" y1="68.97" x2="48.2" y2="68.97" stroke="#262626" stroke-width="0.6"/>
<line x1="282.7" y1="68.97" x2="281.3" y2="68.97" stroke="#262626" stroke-width="0.6"/>
<line x1="46.8" y1="66.51" x2="48.2" y2="66.51" stroke="#262626" stroke-width="0.6"/>
<line x1="282.7" y1="66.51" x2="281.3" y2="66.51" stroke="#262626" stroke-width="0.6"/>
<line x1="46.8" y1="64.77" x2="48.2" y2="64.77" stroke="#262626" stroke-width="0.6"/>
<line x1="282.7" y1="64.77" x2="281.3" y2="64.77" stroke="#262626" stroke-width="0.6"/>
<line x1="46.8" y1="63.42" x2="48.2" y2="63.42" stroke="#262626" stroke-width="0.6"/>
<line x1="282.7" y1="63.42" x2="281.3" y2="63.42" stroke="#262626" stroke-width="0.6"/>
<line x1="46.8" y1="62.31" x2="48.2" y2="62.31" stroke="#262626" stroke-width="0.6"/>
<line x1="282.7" y1="62.31" x2="281.3" y2="62.31" stroke="#262626" stroke-width="0.6"/>
<line x1="46.8" y1="61.37" x2="48.2" y2="61.37" stroke="#262626" stroke-width="0.6"/>
<line x1="282.7" y1="61.37" x2="281.3" y2="61.37" stroke="#262626" stroke-width="0.6"/>
<line x1="46.8" y1="60.56" x2="48.2" y2="60.56" stroke="#262626" stroke-width="0.6"/>
<line x1="282.7" y1="60.56" x2="281.3" y2="60.56" stroke="#262626" stroke-width="0.6"/>
<line x1="46.8" y1="59.85" x2="48.2" y2="59.85" stroke="#262626" stroke-width="0.6"/>
<line x1="282.7" y1="59.85" x2="281.3" y2="59.85" stroke="#262626" stroke-width="0.6"/>
<line x1="46.8" y1="55" x2="48.2" y2="55" stroke="#262626" stroke-width="0.6"/>
<line x1="282.7" y1="55" x2="281.3" y2="55" stroke="#262626" stroke-width="0.6"/>
<line x1="46.8" y1="52.54" x2="48.2" y2="52.54" stroke="#262626" stroke-width="0.6"/>
<line x1="282.7" y1="52.54" x2="281.3" y2="52.54" stroke="#262626" stroke-width="0.6"/>
<line x1="46.8" y1="50.8" x2="48.2" y2="50.8" stroke="#262626" stroke-width="0.6"/>
<line x1="282.7" y1="50.8" x2="281.3" y2="50.8" stroke="#262626" stroke-width="0.6"/>
<line x1="46.8" y1="49.45" x2="48.2" y2="49.45" stroke="#262626" stroke-width="0.6"/>
<line x1="282.7" y1="49.45" x2="281.3" y2="49.45" stroke="#262626" stroke-width="0.6"/>
<line x1="46.8" y1="48.34" x2="48.2" y2="48.34" stroke="#262626" stroke-width="0.6"/>
<line x1="282.7" y1="48.34" x2="281.3" y2="48.34" stroke="#262626" stroke-width="0.6"/>
<line x1="46.8" y1="47.4" x2="48.2" y2="47.4" stroke="#262626" stroke-width="0.6"/>
<line x1="282.7" y1="47.4" x2="281.3" y2="47.4" stroke="#262626" stroke-width="0.6"/>
<line x1="46.8" y1="46.59" x2="48.2" y2="46.59" stroke="#262626" stroke-width="0.6"/>
<line x1="282.7" y1="46.59" x2="281.3" y2="46.59" stroke="#262626" stroke-width="0.6"/>
<line x1="46.8" y1="45.88" x2="48.2" y2="45.88" stroke="#262626" stroke-width="0.6"/>
<line x1="282.7" y1="45.88" x2="281.3" y2="45.88" stroke="#262626" stroke-width="0.6"/>
<line x1="46.8" y1="41.03" x2="48.2" y2="41.03" stroke="#262626" stroke-width="0.6"/>
<line x1="282.7" y1="41.03" x2="281.3" y2="41.03" stroke="#262626" stroke-width="0.6"/>
<line x1="46.8" y1="38.57" x2="48.2" y2="38.57" stroke="#262626" stroke-width="0.6"/>
<line x1="282.7" y1="38.57" x2="281.3" y2="38.57" stroke="#262626" stroke-width="0.6"/>
<line x1="46.8" y1="36.83" x2="48.2" y2="36.83" stroke="#262626" stroke-width="0.6"/>
<line x1="282.7" y1="36.83" x2="281.3" y2="36.83" stroke="#262626" stroke-width="0.6"/>
<line x1="46.8" y1="35.48" x2="48.2" y2="35.48" stroke="#262626" stroke-width="0.6"/>
<line x1="282.7" y1="35.48" x2="281.3" y2="35.48" stroke="#262626" stroke-width="0.6"/>
<line x1="46.8" y1="34.37" x2="48.2" y2="34.37" stroke="#262626" stroke-width="0.6"/>
<line x1="282.7" y1="34.37" x2="281.3" y2="34.37" stroke="#262626" stroke-width="0.6"/>
<line x1="46.8" y1="33.43" x2="48.2" y2="33.43" stroke="#262626" stroke-width="0.6"/>
<line x1="282.7" y1="33.43" x2="281.3" y2="33.43" stroke="#262626" stroke-width="0.6"/>
<line x1="46.8" y1="32.62" x2="48.2" y2="32.62" stroke="#262626" stroke-width="0.6"/>
<line x1="282.7" y1="32.62" x2="281.3" y2="32.62" stroke="#262626" stroke-width="0.6"/>
<line x1="46.8" y1="31.91" x2="48.2" y2="31.91" stroke="#262626" stroke-width="0.6"/>
<line x1="282.7" y1="31.91" x2="281.3" y2="31.91" stroke="#262626" stroke-width="0.6"/>
<line x1="46.8" y1="27.06" x2="48.2" y2="27.06" stroke="#262626" stroke-width="0.6"/>
<line x1="282.7" y1="27.06" x2="281.3" y2="27.06" stroke="#262626" stroke-width="0.6"/>
<line x1="46.8" y1="24.6" x2="48.2" y2="24.6" stroke="#262626" stroke-width="0.6"/>
<line x1="282.7" y1="24.6" x2="281.3" y2="24.6" stroke="#262626" stroke-width="0.6"/>
<line x1="46.8" y1="22.86" x2="48.2" y2="22.86" stroke="#262626" stroke-width="0.6"/>
<line x1="282.7" y1="22.86" x2="281.3" y2="22.86" stroke="#262626" stroke-width="0.6"/>
<line x1="46.8" y1="21.51" x2="48.2" y2="21.51" stroke="#262626" stroke-width="0.6"/>
<line x1="282.7" y1="21.51" x2="281.3" y2="21.51" stroke="#262626" stroke-width="0.6"/>
<line x1="46.8" y1="20.4" x2="48.2" y2="20.4" stroke="#262626" stroke-width="0.6"/>
<line x1="282.7" y1="20.4" x2="281.3" y2="20.4" stroke="#262626" stroke-width="0.6"/>
<line x1="46.8" y1="19.46" x2="48.2" y2="19.46" stroke="#262626" stroke-width="0.6"/>
<line x1="282.7" y1="19.46" x2="281.3" y2="19.46" stroke="#262626" stroke-width="0.6"/>
<line x1="46.8" y1="18.65" x2="48.2" y2="18.65" stroke="#262626" stroke-width="0.6"/>
<line x1="282.7" y1="18.65" x2="281.3" y2="18.65" stroke="#262626" stroke-width="0.6"/>
<line x1="46.8" y1="17.94" x2="48.2" y2="17.94" stroke="#262626" stroke-width="0.6"/>
<line x1="282.7" y1="17.94" x2="281.3" y2="17.94" stroke="#262626" stroke-width="0.6"/>
<line x1="46.8" y1="13.09" x2="48.2" y2="13.09" stroke="#262626" stroke-width="0.6"/>
<line x1="282.7" y1="13.09" x2="281.3" y2="13.09" stroke="#262626" stroke-width="0.6"/>
<line x1="46.8" y1="10.63" x2="48.2" y2="10.63" stroke="#262626" stroke-width="0.6"/>
<line x1="282.7" y1="10.63" x2="281.3" y2="10.63" stroke="#262626" stroke-width="0.6"/>
<line x1="46.8" y1="8.89" x2="48.2" y2="8.89" stroke="#262626" stroke-width="0.6"/>
<line x1="282.7" y1="8.89" x2="281.3" y2="8.89" stroke="#262626" stroke-width="0.6"/>
<line x1="46.8" y1="7.54" x2="48.2" y2="7.54" stroke="#262626" stroke-width="0.6"/>
<line x1="282.7" y1="7.54" x2="281.3" y2="7.54" stroke="#262626" stroke-width="0.6"/>
<line x1="46.8" y1="6.43" x2="48.2" y2="6.43" stroke="#262626" stroke-width="0.6"/>
<line x1="282.7" y1="6.43" x2="281.3" y2="6.43" stroke="#262626" stroke-width="0.6"/>
<line x1="46.8" y1="5.49" x2="48.2" y2="5.49" stroke="#262626" stroke-width="0.6"/>
<line x1="282.7" y1="5.49" x2="281.3" y2="5.49" stroke="#262626" stroke-width="0.6"/>
<line x1="46.8" y1="4.68" x2="48.2" y2="4.68" stroke="#262626" stroke-width="0.6"/>
<line x1="282.7" y1="4.68" x2="281.3" y2="4.68" stroke="#262626" stroke-width="0.6"/>
<line x1="46.8" y1="3.97" x2="48.2" y2="3.97" stroke="#262626" stroke-width="0.6"/>
<line x1="282.7" y1="3.97" x2="281.3" y2="3.97" stroke="#262626" stroke-width="0.6"/>
<line x1="46.8" y1="143.03" x2="48.2" y2="143.03" stroke="#262626" stroke-width="0.6"/>
<line x1="282.7" y1="143.03" x2="281.3" y2="143.03" stroke="#262626" stroke-width="0.6"/>
<line x1="46.8" y1="115.09" x2="48.2" y2="115.09" stroke="#262626" stroke-width="0.6"/>
<line x1="282.7" y1="115.09" x2="281.3" y2="115.09" stroke="#262626" stroke-width="0.6"/>
<line x1="46.8" y1="87.15" x2="48.2" y2="87.15" stroke="#262626" stroke-width="0.6"/>
<line x1="282.7" y1="87.15" x2="281.3" y2="87.15" stroke="#262626" stroke-width="0.6"/>
<line x1="46.8" y1="59.21" x2="48.2" y2="59.21" stroke="#262626" stroke-width="0.6"/>
<line x1="282.7" y1="59.21" x2="281.3" y2="59.21" stroke="#262626" stroke-width="0.6"/>
<line x1="46.8" y1="31.27" x2="48.2" y2="31.27" stroke="#262626" stroke-width="0.6"/>
<line x1="282.7" y1="31.27" x2="281.3" y2="31.27" stroke="#262626" stroke-width="0.6"/>
<text x="55" y="172.4" font-size="11.6" text-anchor="middle" fill="#262626">10<tspan dx="0.5" dy="-3.8" font-size="8">−</tspan><tspan dx="0.6" font-size="8">8</tspan></text>
<text x="91.5" y="172.4" font-size="11.6" text-anchor="middle" fill="#262626">10<tspan dx="0.5" dy="-3.8" font-size="8">−</tspan><tspan dx="0.6" font-size="8">6</tspan></text>
<text x="128" y="172.4" font-size="11.6" text-anchor="middle" fill="#262626">10<tspan dx="0.5" dy="-3.8" font-size="8">−</tspan><tspan dx="0.6" font-size="8">4</tspan></text>
<text x="164.5" y="172.4" font-size="11.6" text-anchor="middle" fill="#262626">10<tspan dx="0.5" dy="-3.8" font-size="8">−</tspan><tspan dx="0.6" font-size="8">2</tspan></text>
<text x="200.1" y="172.4" font-size="11.6" text-anchor="middle" fill="#262626">10<tspan dx="0.5" dy="-3.8" font-size="8">0</tspan></text>
<text x="236.6" y="172.4" font-size="11.6" text-anchor="middle" fill="#262626">10<tspan dx="0.5" dy="-3.8" font-size="8">2</tspan></text>
<text x="273.1" y="172.4" font-size="11.6" text-anchor="middle" fill="#262626">10<tspan dx="0.5" dy="-3.8" font-size="8">4</tspan></text>
<text x="41.2" y="159.9" font-size="11.6" text-anchor="end" fill="#262626">10<tspan dx="0.5" dy="-3.8" font-size="8">−</tspan><tspan dx="0.6" font-size="8">2</tspan></text>
<text x="41.2" y="131.96" font-size="11.6" text-anchor="end" fill="#262626">10<tspan dx="0.5" dy="-3.8" font-size="8">0</tspan></text>
<text x="41.2" y="104.02" font-size="11.6" text-anchor="end" fill="#262626">10<tspan dx="0.5" dy="-3.8" font-size="8">2</tspan></text>
<text x="41.2" y="76.08" font-size="11.6" text-anchor="end" fill="#262626">10<tspan dx="0.5" dy="-3.8" font-size="8">4</tspan></text>
<text x="41.2" y="48.14" font-size="11.6" text-anchor="end" fill="#262626">10<tspan dx="0.5" dy="-3.8" font-size="8">6</tspan></text>
<text x="41.2" y="20.2" font-size="11.6" text-anchor="end" fill="#262626">10<tspan dx="0.5" dy="-3.8" font-size="8">8</tspan></text>
<text x="164.7" y="190.6" font-size="14" text-anchor="middle" font-weight="normal" font-style="normal" fill="#262626" >Reduced Frequency [Hz]</text>
<text transform="translate(13.4,80.1) rotate(-90)" font-size="13.7" text-anchor="middle" fill="#262626"><tspan fill="#777">|</tspan><tspan dx="1.6" font-style="italic">G</tspan><tspan dy="-4.5" font-size="9.5">*</tspan><tspan dx="1.4" dy="4.5" fill="#777">|</tspan><tspan dx="1.2"> [Pa]</tspan></text>
<text x="68.6" y="24.6" font-size="13.5" text-anchor="middle" font-weight="bold" font-style="italic" fill="#111" >(a)</text>
<text x="60.6" y="39.2" font-size="14" font-style="italic" fill="#111">T<tspan dy="4.6" font-size="9.5">ref</tspan><tspan dy="-4.6" font-size="11.8"> = 15 °C</tspan></text>
<rect x="198.8" y="57.4" width="82.9" height="99" fill="#fff" stroke="#262626" stroke-width="0.9"/>
<circle cx="219.5" cy="65.2" r="2.1" fill="none" stroke="#f27a4b" stroke-width="1"/>
<text x="239.7" y="68.7" font-size="10.4" text-anchor="start" font-weight="normal" font-style="normal" fill="#1a1a1a" >YT 1&amp;16</text>
<circle cx="219.5" cy="77" r="1.6" fill="#1f86d2"/>
<text x="239.7" y="80.5" font-size="10.4" text-anchor="start" font-weight="normal" font-style="normal" fill="#1a1a1a" >NT 2&amp;4</text>
<circle cx="219.5" cy="88.8" r="2.1" fill="none" stroke="#333333" stroke-width="1"/>
<text x="239.7" y="92.3" font-size="10.4" text-anchor="start" font-weight="normal" font-style="normal" fill="#1a1a1a" >YT 3&amp;11</text>
<circle cx="219.5" cy="100.8" r="1.6" fill="#f7b431"/>
<text x="239.7" y="104.3" font-size="10.4" text-anchor="start" font-weight="normal" font-style="normal" fill="#1a1a1a" >NT 5&amp;10</text>
<circle cx="219.5" cy="112.8" r="2.1" fill="none" stroke="#78b240" stroke-width="1"/>
<text x="239.7" y="116.3" font-size="10.4" text-anchor="start" font-weight="normal" font-style="normal" fill="#1a1a1a" >YT 6&amp;13</text>
<circle cx="219.5" cy="124.8" r="1.6" fill="#ee2e2e"/>
<text x="239.7" y="128.3" font-size="10.4" text-anchor="start" font-weight="normal" font-style="normal" fill="#1a1a1a" >NT 7&amp;15</text>
<circle cx="219.5" cy="136.8" r="2.1" fill="none" stroke="#cf3050" stroke-width="1"/>
<text x="239.7" y="140.3" font-size="10.4" text-anchor="start" font-weight="normal" font-style="normal" fill="#1a1a1a" >YT 8&amp;12</text>
<circle cx="219.5" cy="148.8" r="1.6" fill="#22e3f2"/>
<text x="239.7" y="152.3" font-size="10.4" text-anchor="start" font-weight="normal" font-style="normal" fill="#1a1a1a" >NT 9&amp;14</text>
<clipPath id="cB"><rect x="327.5" y="3.3" width="217.4" height="154.5"/></clipPath>
<line x1="328.13" y1="3.3" x2="328.13" y2="157.8" stroke="#d2d2d2" stroke-width="0.8" stroke-dasharray="0.9 1.8"/>
<line x1="329.46" y1="3.3" x2="329.46" y2="157.8" stroke="#d2d2d2" stroke-width="0.8" stroke-dasharray="0.9 1.8"/>
<line x1="330.59" y1="3.3" x2="330.59" y2="157.8" stroke="#d2d2d2" stroke-width="0.8" stroke-dasharray="0.9 1.8"/>
<line x1="331.57" y1="3.3" x2="331.57" y2="157.8" stroke="#d2d2d2" stroke-width="0.8" stroke-dasharray="0.9 1.8"/>
<line x1="332.43" y1="3.3" x2="332.43" y2="157.8" stroke="#d2d2d2" stroke-width="0.8" stroke-dasharray="0.9 1.8"/>
<line x1="338.27" y1="3.3" x2="338.27" y2="157.8" stroke="#d2d2d2" stroke-width="0.8" stroke-dasharray="0.9 1.8"/>
<line x1="341.24" y1="3.3" x2="341.24" y2="157.8" stroke="#d2d2d2" stroke-width="0.8" stroke-dasharray="0.9 1.8"/>
<line x1="343.34" y1="3.3" x2="343.34" y2="157.8" stroke="#d2d2d2" stroke-width="0.8" stroke-dasharray="0.9 1.8"/>
<line x1="344.98" y1="3.3" x2="344.98" y2="157.8" stroke="#d2d2d2" stroke-width="0.8" stroke-dasharray="0.9 1.8"/>
<line x1="346.31" y1="3.3" x2="346.31" y2="157.8" stroke="#d2d2d2" stroke-width="0.8" stroke-dasharray="0.9 1.8"/>
<line x1="347.44" y1="3.3" x2="347.44" y2="157.8" stroke="#d2d2d2" stroke-width="0.8" stroke-dasharray="0.9 1.8"/>
<line x1="348.42" y1="3.3" x2="348.42" y2="157.8" stroke="#d2d2d2" stroke-width="0.8" stroke-dasharray="0.9 1.8"/>
<line x1="349.28" y1="3.3" x2="349.28" y2="157.8" stroke="#d2d2d2" stroke-width="0.8" stroke-dasharray="0.9 1.8"/>
<line x1="350.05" y1="3.3" x2="350.05" y2="157.8" stroke="#d2d2d2" stroke-width="0.8" stroke-dasharray="0.9 1.8"/>
<line x1="355.12" y1="3.3" x2="355.12" y2="157.8" stroke="#d2d2d2" stroke-width="0.8" stroke-dasharray="0.9 1.8"/>
<line x1="358.09" y1="3.3" x2="358.09" y2="157.8" stroke="#d2d2d2" stroke-width="0.8" stroke-dasharray="0.9 1.8"/>
<line x1="360.19" y1="3.3" x2="360.19" y2="157.8" stroke="#d2d2d2" stroke-width="0.8" stroke-dasharray="0.9 1.8"/>
<line x1="361.83" y1="3.3" x2="361.83" y2="157.8" stroke="#d2d2d2" stroke-width="0.8" stroke-dasharray="0.9 1.8"/>
<line x1="363.16" y1="3.3" x2="363.16" y2="157.8" stroke="#d2d2d2" stroke-width="0.8" stroke-dasharray="0.9 1.8"/>
<line x1="364.29" y1="3.3" x2="364.29" y2="157.8" stroke="#d2d2d2" stroke-width="0.8" stroke-dasharray="0.9 1.8"/>
<line x1="365.27" y1="3.3" x2="365.27" y2="157.8" stroke="#d2d2d2" stroke-width="0.8" stroke-dasharray="0.9 1.8"/>
<line x1="366.13" y1="3.3" x2="366.13" y2="157.8" stroke="#d2d2d2" stroke-width="0.8" stroke-dasharray="0.9 1.8"/>
<line x1="371.97" y1="3.3" x2="371.97" y2="157.8" stroke="#d2d2d2" stroke-width="0.8" stroke-dasharray="0.9 1.8"/>
<line x1="374.94" y1="3.3" x2="374.94" y2="157.8" stroke="#d2d2d2" stroke-width="0.8" stroke-dasharray="0.9 1.8"/>
<line x1="377.04" y1="3.3" x2="377.04" y2="157.8" stroke="#d2d2d2" stroke-width="0.8" stroke-dasharray="0.9 1.8"/>
<line x1="378.68" y1="3.3" x2="378.68" y2="157.8" stroke="#d2d2d2" stroke-width="0.8" stroke-dasharray="0.9 1.8"/>
<line x1="380.01" y1="3.3" x2="380.01" y2="157.8" stroke="#d2d2d2" stroke-width="0.8" stroke-dasharray="0.9 1.8"/>
<line x1="381.14" y1="3.3" x2="381.14" y2="157.8" stroke="#d2d2d2" stroke-width="0.8" stroke-dasharray="0.9 1.8"/>
<line x1="382.12" y1="3.3" x2="382.12" y2="157.8" stroke="#d2d2d2" stroke-width="0.8" stroke-dasharray="0.9 1.8"/>
<line x1="382.98" y1="3.3" x2="382.98" y2="157.8" stroke="#d2d2d2" stroke-width="0.8" stroke-dasharray="0.9 1.8"/>
<line x1="383.75" y1="3.3" x2="383.75" y2="157.8" stroke="#d2d2d2" stroke-width="0.8" stroke-dasharray="0.9 1.8"/>
<line x1="388.82" y1="3.3" x2="388.82" y2="157.8" stroke="#d2d2d2" stroke-width="0.8" stroke-dasharray="0.9 1.8"/>
<line x1="391.79" y1="3.3" x2="391.79" y2="157.8" stroke="#d2d2d2" stroke-width="0.8" stroke-dasharray="0.9 1.8"/>
<line x1="393.89" y1="3.3" x2="393.89" y2="157.8" stroke="#d2d2d2" stroke-width="0.8" stroke-dasharray="0.9 1.8"/>
<line x1="395.53" y1="3.3" x2="395.53" y2="157.8" stroke="#d2d2d2" stroke-width="0.8" stroke-dasharray="0.9 1.8"/>
<line x1="396.86" y1="3.3" x2="396.86" y2="157.8" stroke="#d2d2d2" stroke-width="0.8" stroke-dasharray="0.9 1.8"/>
<line x1="397.99" y1="3.3" x2="397.99" y2="157.8" stroke="#d2d2d2" stroke-width="0.8" stroke-dasharray="0.9 1.8"/>
<line x1="398.97" y1="3.3" x2="398.97" y2="157.8" stroke="#d2d2d2" stroke-width="0.8" stroke-dasharray="0.9 1.8"/>
<line x1="399.83" y1="3.3" x2="399.83" y2="157.8" stroke="#d2d2d2" stroke-width="0.8" stroke-dasharray="0.9 1.8"/>
<line x1="405.67" y1="3.3" x2="405.67" y2="157.8" stroke="#d2d2d2" stroke-width="0.8" stroke-dasharray="0.9 1.8"/>
<line x1="408.64" y1="3.3" x2="408.64" y2="157.8" stroke="#d2d2d2" stroke-width="0.8" stroke-dasharray="0.9 1.8"/>
<line x1="410.74" y1="3.3" x2="410.74" y2="157.8" stroke="#d2d2d2" stroke-width="0.8" stroke-dasharray="0.9 1.8"/>
<line x1="412.38" y1="3.3" x2="412.38" y2="157.8" stroke="#d2d2d2" stroke-width="0.8" stroke-dasharray="0.9 1.8"/>
<line x1="413.71" y1="3.3" x2="413.71" y2="157.8" stroke="#d2d2d2" stroke-width="0.8" stroke-dasharray="0.9 1.8"/>
<line x1="414.84" y1="3.3" x2="414.84" y2="157.8" stroke="#d2d2d2" stroke-width="0.8" stroke-dasharray="0.9 1.8"/>
<line x1="415.82" y1="3.3" x2="415.82" y2="157.8" stroke="#d2d2d2" stroke-width="0.8" stroke-dasharray="0.9 1.8"/>
<line x1="416.68" y1="3.3" x2="416.68" y2="157.8" stroke="#d2d2d2" stroke-width="0.8" stroke-dasharray="0.9 1.8"/>
<line x1="417.45" y1="3.3" x2="417.45" y2="157.8" stroke="#d2d2d2" stroke-width="0.8" stroke-dasharray="0.9 1.8"/>
<line x1="422.52" y1="3.3" x2="422.52" y2="157.8" stroke="#d2d2d2" stroke-width="0.8" stroke-dasharray="0.9 1.8"/>
<line x1="425.49" y1="3.3" x2="425.49" y2="157.8" stroke="#d2d2d2" stroke-width="0.8" stroke-dasharray="0.9 1.8"/>
<line x1="427.59" y1="3.3" x2="427.59" y2="157.8" stroke="#d2d2d2" stroke-width="0.8" stroke-dasharray="0.9 1.8"/>
<line x1="429.23" y1="3.3" x2="429.23" y2="157.8" stroke="#d2d2d2" stroke-width="0.8" stroke-dasharray="0.9 1.8"/>
<line x1="430.56" y1="3.3" x2="430.56" y2="157.8" stroke="#d2d2d2" stroke-width="0.8" stroke-dasharray="0.9 1.8"/>
<line x1="431.69" y1="3.3" x2="431.69" y2="157.8" stroke="#d2d2d2" stroke-width="0.8" stroke-dasharray="0.9 1.8"/>
<line x1="432.67" y1="3.3" x2="432.67" y2="157.8" stroke="#d2d2d2" stroke-width="0.8" stroke-dasharray="0.9 1.8"/>
<line x1="433.53" y1="3.3" x2="433.53" y2="157.8" stroke="#d2d2d2" stroke-width="0.8" stroke-dasharray="0.9 1.8"/>
<line x1="439.37" y1="3.3" x2="439.37" y2="157.8" stroke="#d2d2d2" stroke-width="0.8" stroke-dasharray="0.9 1.8"/>
<line x1="442.34" y1="3.3" x2="442.34" y2="157.8" stroke="#d2d2d2" stroke-width="0.8" stroke-dasharray="0.9 1.8"/>
<line x1="444.44" y1="3.3" x2="444.44" y2="157.8" stroke="#d2d2d2" stroke-width="0.8" stroke-dasharray="0.9 1.8"/>
<line x1="446.08" y1="3.3" x2="446.08" y2="157.8" stroke="#d2d2d2" stroke-width="0.8" stroke-dasharray="0.9 1.8"/>
<line x1="447.41" y1="3.3" x2="447.41" y2="157.8" stroke="#d2d2d2" stroke-width="0.8" stroke-dasharray="0.9 1.8"/>
<line x1="448.54" y1="3.3" x2="448.54" y2="157.8" stroke="#d2d2d2" stroke-width="0.8" stroke-dasharray="0.9 1.8"/>
<line x1="449.52" y1="3.3" x2="449.52" y2="157.8" stroke="#d2d2d2" stroke-width="0.8" stroke-dasharray="0.9 1.8"/>
<line x1="450.38" y1="3.3" x2="450.38" y2="157.8" stroke="#d2d2d2" stroke-width="0.8" stroke-dasharray="0.9 1.8"/>
<line x1="451.15" y1="3.3" x2="451.15" y2="157.8" stroke="#d2d2d2" stroke-width="0.8" stroke-dasharray="0.9 1.8"/>
<line x1="456.22" y1="3.3" x2="456.22" y2="157.8" stroke="#d2d2d2" stroke-width="0.8" stroke-dasharray="0.9 1.8"/>
<line x1="459.19" y1="3.3" x2="459.19" y2="157.8" stroke="#d2d2d2" stroke-width="0.8" stroke-dasharray="0.9 1.8"/>
<line x1="461.29" y1="3.3" x2="461.29" y2="157.8" stroke="#d2d2d2" stroke-width="0.8" stroke-dasharray="0.9 1.8"/>
<line x1="462.93" y1="3.3" x2="462.93" y2="157.8" stroke="#d2d2d2" stroke-width="0.8" stroke-dasharray="0.9 1.8"/>
<line x1="464.26" y1="3.3" x2="464.26" y2="157.8" stroke="#d2d2d2" stroke-width="0.8" stroke-dasharray="0.9 1.8"/>
<line x1="465.39" y1="3.3" x2="465.39" y2="157.8" stroke="#d2d2d2" stroke-width="0.8" stroke-dasharray="0.9 1.8"/>
<line x1="466.37" y1="3.3" x2="466.37" y2="157.8" stroke="#d2d2d2" stroke-width="0.8" stroke-dasharray="0.9 1.8"/>
<line x1="467.23" y1="3.3" x2="467.23" y2="157.8" stroke="#d2d2d2" stroke-width="0.8" stroke-dasharray="0.9 1.8"/>
<line x1="473.07" y1="3.3" x2="473.07" y2="157.8" stroke="#d2d2d2" stroke-width="0.8" stroke-dasharray="0.9 1.8"/>
<line x1="476.04" y1="3.3" x2="476.04" y2="157.8" stroke="#d2d2d2" stroke-width="0.8" stroke-dasharray="0.9 1.8"/>
<line x1="478.14" y1="3.3" x2="478.14" y2="157.8" stroke="#d2d2d2" stroke-width="0.8" stroke-dasharray="0.9 1.8"/>
<line x1="479.78" y1="3.3" x2="479.78" y2="157.8" stroke="#d2d2d2" stroke-width="0.8" stroke-dasharray="0.9 1.8"/>
<line x1="481.11" y1="3.3" x2="481.11" y2="157.8" stroke="#d2d2d2" stroke-width="0.8" stroke-dasharray="0.9 1.8"/>
<line x1="482.24" y1="3.3" x2="482.24" y2="157.8" stroke="#d2d2d2" stroke-width="0.8" stroke-dasharray="0.9 1.8"/>
<line x1="483.22" y1="3.3" x2="483.22" y2="157.8" stroke="#d2d2d2" stroke-width="0.8" stroke-dasharray="0.9 1.8"/>
<line x1="484.08" y1="3.3" x2="484.08" y2="157.8" stroke="#d2d2d2" stroke-width="0.8" stroke-dasharray="0.9 1.8"/>
<line x1="484.85" y1="3.3" x2="484.85" y2="157.8" stroke="#d2d2d2" stroke-width="0.8" stroke-dasharray="0.9 1.8"/>
<line x1="489.92" y1="3.3" x2="489.92" y2="157.8" stroke="#d2d2d2" stroke-width="0.8" stroke-dasharray="0.9 1.8"/>
<line x1="492.89" y1="3.3" x2="492.89" y2="157.8" stroke="#d2d2d2" stroke-width="0.8" stroke-dasharray="0.9 1.8"/>
<line x1="494.99" y1="3.3" x2="494.99" y2="157.8" stroke="#d2d2d2" stroke-width="0.8" stroke-dasharray="0.9 1.8"/>
<line x1="496.63" y1="3.3" x2="496.63" y2="157.8" stroke="#d2d2d2" stroke-width="0.8" stroke-dasharray="0.9 1.8"/>
<line x1="497.96" y1="3.3" x2="497.96" y2="157.8" stroke="#d2d2d2" stroke-width="0.8" stroke-dasharray="0.9 1.8"/>
<line x1="499.09" y1="3.3" x2="499.09" y2="157.8" stroke="#d2d2d2" stroke-width="0.8" stroke-dasharray="0.9 1.8"/>
<line x1="500.07" y1="3.3" x2="500.07" y2="157.8" stroke="#d2d2d2" stroke-width="0.8" stroke-dasharray="0.9 1.8"/>
<line x1="500.93" y1="3.3" x2="500.93" y2="157.8" stroke="#d2d2d2" stroke-width="0.8" stroke-dasharray="0.9 1.8"/>
<line x1="506.77" y1="3.3" x2="506.77" y2="157.8" stroke="#d2d2d2" stroke-width="0.8" stroke-dasharray="0.9 1.8"/>
<line x1="509.74" y1="3.3" x2="509.74" y2="157.8" stroke="#d2d2d2" stroke-width="0.8" stroke-dasharray="0.9 1.8"/>
<line x1="511.84" y1="3.3" x2="511.84" y2="157.8" stroke="#d2d2d2" stroke-width="0.8" stroke-dasharray="0.9 1.8"/>
<line x1="513.48" y1="3.3" x2="513.48" y2="157.8" stroke="#d2d2d2" stroke-width="0.8" stroke-dasharray="0.9 1.8"/>
<line x1="514.81" y1="3.3" x2="514.81" y2="157.8" stroke="#d2d2d2" stroke-width="0.8" stroke-dasharray="0.9 1.8"/>
<line x1="515.94" y1="3.3" x2="515.94" y2="157.8" stroke="#d2d2d2" stroke-width="0.8" stroke-dasharray="0.9 1.8"/>
<line x1="516.92" y1="3.3" x2="516.92" y2="157.8" stroke="#d2d2d2" stroke-width="0.8" stroke-dasharray="0.9 1.8"/>
<line x1="517.78" y1="3.3" x2="517.78" y2="157.8" stroke="#d2d2d2" stroke-width="0.8" stroke-dasharray="0.9 1.8"/>
<line x1="518.55" y1="3.3" x2="518.55" y2="157.8" stroke="#d2d2d2" stroke-width="0.8" stroke-dasharray="0.9 1.8"/>
<line x1="523.62" y1="3.3" x2="523.62" y2="157.8" stroke="#d2d2d2" stroke-width="0.8" stroke-dasharray="0.9 1.8"/>
<line x1="526.59" y1="3.3" x2="526.59" y2="157.8" stroke="#d2d2d2" stroke-width="0.8" stroke-dasharray="0.9 1.8"/>
<line x1="528.69" y1="3.3" x2="528.69" y2="157.8" stroke="#d2d2d2" stroke-width="0.8" stroke-dasharray="0.9 1.8"/>
<line x1="530.33" y1="3.3" x2="530.33" y2="157.8" stroke="#d2d2d2" stroke-width="0.8" stroke-dasharray="0.9 1.8"/>
<line x1="531.66" y1="3.3" x2="531.66" y2="157.8" stroke="#d2d2d2" stroke-width="0.8" stroke-dasharray="0.9 1.8"/>
<line x1="532.79" y1="3.3" x2="532.79" y2="157.8" stroke="#d2d2d2" stroke-width="0.8" stroke-dasharray="0.9 1.8"/>
<line x1="533.77" y1="3.3" x2="533.77" y2="157.8" stroke="#d2d2d2" stroke-width="0.8" stroke-dasharray="0.9 1.8"/>
<line x1="534.63" y1="3.3" x2="534.63" y2="157.8" stroke="#d2d2d2" stroke-width="0.8" stroke-dasharray="0.9 1.8"/>
<line x1="540.47" y1="3.3" x2="540.47" y2="157.8" stroke="#d2d2d2" stroke-width="0.8" stroke-dasharray="0.9 1.8"/>
<line x1="543.44" y1="3.3" x2="543.44" y2="157.8" stroke="#d2d2d2" stroke-width="0.8" stroke-dasharray="0.9 1.8"/>
<line x1="333.2" y1="3.3" x2="333.2" y2="157.8" stroke="#e0e0e0" stroke-width="0.8"/>
<line x1="366.9" y1="3.3" x2="366.9" y2="157.8" stroke="#e0e0e0" stroke-width="0.8"/>
<line x1="400.6" y1="3.3" x2="400.6" y2="157.8" stroke="#e0e0e0" stroke-width="0.8"/>
<line x1="434.3" y1="3.3" x2="434.3" y2="157.8" stroke="#e0e0e0" stroke-width="0.8"/>
<line x1="468" y1="3.3" x2="468" y2="157.8" stroke="#e0e0e0" stroke-width="0.8"/>
<line x1="501.7" y1="3.3" x2="501.7" y2="157.8" stroke="#e0e0e0" stroke-width="0.8"/>
<line x1="535.4" y1="3.3" x2="535.4" y2="157.8" stroke="#e0e0e0" stroke-width="0.8"/>
<line x1="327.5" y1="149.1" x2="544.9" y2="149.1" stroke="#e0e0e0" stroke-width="0.8"/>
<line x1="327.5" y1="118.3" x2="544.9" y2="118.3" stroke="#e0e0e0" stroke-width="0.8"/>
<line x1="327.5" y1="87.5" x2="544.9" y2="87.5" stroke="#e0e0e0" stroke-width="0.8"/>
<line x1="327.5" y1="56.7" x2="544.9" y2="56.7" stroke="#e0e0e0" stroke-width="0.8"/>
<line x1="327.5" y1="25.9" x2="544.9" y2="25.9" stroke="#e0e0e0" stroke-width="0.8"/>
<g clip-path="url(#cB)">








































































































































































































































































































































































































































































































































































































<circle cx="342" cy="10.5" r="2.1" fill="none" stroke="#f27a4b" stroke-width="1"/>
<circle cx="345.09" cy="10.68" r="2.1" fill="none" stroke="#f27a4b" stroke-width="1"/>
<circle cx="348.19" cy="10.86" r="2.1" fill="none" stroke="#f27a4b" stroke-width="1"/>
<circle cx="351.28" cy="11.04" r="2.1" fill="none" stroke="#f27a4b" stroke-width="1"/>
<circle cx="354.38" cy="11.22" r="2.1" fill="none" stroke="#f27a4b" stroke-width="1"/>
<circle cx="357.47" cy="11.4" r="2.1" fill="none" stroke="#f27a4b" stroke-width="1"/>
<circle cx="360.57" cy="11.58" r="2.1" fill="none" stroke="#f27a4b" stroke-width="1"/>
<circle cx="363.66" cy="11.76" r="2.1" fill="none" stroke="#f27a4b" stroke-width="1"/>
<circle cx="366.76" cy="11.94" r="2.1" fill="none" stroke="#f27a4b" stroke-width="1"/>
<circle cx="369.85" cy="12.12" r="2.1" fill="none" stroke="#f27a4b" stroke-width="1"/>
<circle cx="372.95" cy="12.3" r="2.1" fill="none" stroke="#f27a4b" stroke-width="1"/>
<circle cx="366.5" cy="21" r="2.1" fill="none" stroke="#f27a4b" stroke-width="1"/>
<circle cx="369.56" cy="20.52" r="2.1" fill="none" stroke="#f27a4b" stroke-width="1"/>
<circle cx="372.65" cy="20.29" r="2.1" fill="none" stroke="#f27a4b" stroke-width="1"/>
<circle cx="375.75" cy="20.34" r="2.1" fill="none" stroke="#f27a4b" stroke-width="1"/>
<circle cx="378.85" cy="20.46" r="2.1" fill="none" stroke="#f27a4b" stroke-width="1"/>
<circle cx="381.3" cy="38.6" r="2.1" fill="none" stroke="#f27a4b" stroke-width="1"/>
<circle cx="384.27" cy="37.7" r="2.1" fill="none" stroke="#f27a4b" stroke-width="1"/>
<circle cx="387.25" cy="36.85" r="2.1" fill="none" stroke="#f27a4b" stroke-width="1"/>
<circle cx="390.27" cy="36.15" r="2.1" fill="none" stroke="#f27a4b" stroke-width="1"/>
<circle cx="393.33" cy="35.71" r="2.1" fill="none" stroke="#f27a4b" stroke-width="1"/>
<circle cx="396.43" cy="35.57" r="2.1" fill="none" stroke="#f27a4b" stroke-width="1"/>
<circle cx="399.53" cy="35.7" r="2.1" fill="none" stroke="#f27a4b" stroke-width="1"/>
<circle cx="402.61" cy="36.03" r="2.1" fill="none" stroke="#f27a4b" stroke-width="1"/>
<circle cx="405.68" cy="36.42" r="2.1" fill="none" stroke="#f27a4b" stroke-width="1"/>
<circle cx="408.75" cy="36.84" r="2.1" fill="none" stroke="#f27a4b" stroke-width="1"/>
<circle cx="400" cy="55.4" r="2.1" fill="none" stroke="#f27a4b" stroke-width="1"/>
<circle cx="403.07" cy="54.96" r="2.1" fill="none" stroke="#f27a4b" stroke-width="1"/>
<circle cx="406.14" cy="54.56" r="2.1" fill="none" stroke="#f27a4b" stroke-width="1"/>
<circle cx="409.23" cy="54.33" r="2.1" fill="none" stroke="#f27a4b" stroke-width="1"/>
<circle cx="412.33" cy="54.33" r="2.1" fill="none" stroke="#f27a4b" stroke-width="1"/>
<circle cx="415.43" cy="54.45" r="2.1" fill="none" stroke="#f27a4b" stroke-width="1"/>
<circle cx="418.52" cy="54.64" r="2.1" fill="none" stroke="#f27a4b" stroke-width="1"/>
<circle cx="421.62" cy="54.85" r="2.1" fill="none" stroke="#f27a4b" stroke-width="1"/>
<circle cx="423.7" cy="74" r="2.1" fill="none" stroke="#f27a4b" stroke-width="1"/>
<circle cx="426.79" cy="73.74" r="2.1" fill="none" stroke="#f27a4b" stroke-width="1"/>
<circle cx="429.88" cy="73.49" r="2.1" fill="none" stroke="#f27a4b" stroke-width="1"/>
<circle cx="432.97" cy="73.29" r="2.1" fill="none" stroke="#f27a4b" stroke-width="1"/>
<circle cx="436.07" cy="73.2" r="2.1" fill="none" stroke="#f27a4b" stroke-width="1"/>
<circle cx="439.17" cy="73.3" r="2.1" fill="none" stroke="#f27a4b" stroke-width="1"/>
<circle cx="442.26" cy="73.52" r="2.1" fill="none" stroke="#f27a4b" stroke-width="1"/>
<circle cx="445.35" cy="73.79" r="2.1" fill="none" stroke="#f27a4b" stroke-width="1"/>
<circle cx="453" cy="83.9" r="2.1" fill="none" stroke="#f27a4b" stroke-width="1"/>
<circle cx="455.98" cy="83.04" r="2.1" fill="none" stroke="#f27a4b" stroke-width="1"/>
<circle cx="459.05" cy="82.7" r="2.1" fill="none" stroke="#f27a4b" stroke-width="1"/>
<circle cx="462.13" cy="82.97" r="2.1" fill="none" stroke="#f27a4b" stroke-width="1"/>
<path d="M327.5 11.5 L330.42 11.83 L334.63 12.29 L339.53 12.83 L344.54 13.41 L349.06 13.98 L352.5 14.5 L354.64 14.95 L355.91 15.36 L356.69 15.77 L357.37 16.19 L358.34 16.66 L360 17.2 L362.35 17.78 L365.07 18.36 L368.09 18.99 L371.31 19.7 L374.65 20.52 L378 21.5 L381.52 22.66 L385.3 23.97 L389.19 25.39 L393.04 26.9 L396.69 28.45 L400 30 L402.89 31.51 L405.48 33 L407.88 34.53 L410.19 36.17 L412.52 37.97 L415 40 L417.63 42.34 L420.33 44.96 L423.06 47.75 L425.78 50.59 L428.44 53.38 L431 56 L433.5 58.49 L435.96 60.94 L438.38 63.34 L440.7 65.67 L442.92 67.89 L445 70 L446.86 72.01 L448.5 73.94 L450.03 75.78 L451.55 77.5 L453.17 79.08 L455 80.5 L457.06 81.72 L459.27 82.73 L461.59 83.61 L463.95 84.41 L466.3 85.19 L468.6 86 L470.84 86.86 L473.06 87.72 L475.28 88.56 L477.5 89.35 L479.73 90.07 L482 90.7 L484.23 91.21 L486.4 91.62 L488.59 91.96 L490.87 92.27 L493.31 92.57 L496 92.9 L499.06 93.26 L502.44 93.63 L506 93.99 L509.56 94.34 L512.94 94.68 L516 95 L518.67 95.29 L521.07 95.56 L523.31 95.81 L525.48 96.06 L527.68 96.32 L530 96.6 L532.62 96.93 L535.48 97.31 L538.38 97.7 L541.07 98.07 L543.36 98.38 L545 98.6" fill="none" stroke="#f27a4b" stroke-width="1" />
<circle cx="357.6" cy="13" r="1.7" fill="#1f86d2"/>
<circle cx="361.29" cy="13.2" r="1.7" fill="#1f86d2"/>
<circle cx="364.99" cy="13.44" r="1.7" fill="#1f86d2"/>
<circle cx="368.66" cy="13.84" r="1.7" fill="#1f86d2"/>
<circle cx="372.31" cy="14.46" r="1.7" fill="#1f86d2"/>
<circle cx="375.9" cy="15.34" r="1.7" fill="#1f86d2"/>
<circle cx="379.48" cy="16.31" r="1.7" fill="#1f86d2"/>
<circle cx="383.03" cy="17.32" r="1.7" fill="#1f86d2"/>
<circle cx="386.57" cy="18.39" r="1.7" fill="#1f86d2"/>
<circle cx="390.09" cy="19.53" r="1.7" fill="#1f86d2"/>
<circle cx="393.59" cy="20.73" r="1.7" fill="#1f86d2"/>
<circle cx="397.08" cy="21.98" r="1.7" fill="#1f86d2"/>
<circle cx="400.54" cy="23.29" r="1.7" fill="#1f86d2"/>
<circle cx="403.98" cy="24.66" r="1.7" fill="#1f86d2"/>
<circle cx="407.38" cy="26.11" r="1.7" fill="#1f86d2"/>
<circle cx="410.75" cy="27.64" r="1.7" fill="#1f86d2"/>
<circle cx="414.09" cy="29.23" r="1.7" fill="#1f86d2"/>
<circle cx="417.4" cy="30.89" r="1.7" fill="#1f86d2"/>
<circle cx="420.68" cy="32.59" r="1.7" fill="#1f86d2"/>
<circle cx="423.94" cy="34.34" r="1.7" fill="#1f86d2"/>
<circle cx="427.17" cy="36.15" r="1.7" fill="#1f86d2"/>
<circle cx="430.34" cy="38.05" r="1.7" fill="#1f86d2"/>
<circle cx="433.46" cy="40.04" r="1.7" fill="#1f86d2"/>
<circle cx="436.51" cy="42.14" r="1.7" fill="#1f86d2"/>
<circle cx="439.37" cy="44.48" r="1.7" fill="#1f86d2"/>
<circle cx="441.99" cy="47.09" r="1.7" fill="#1f86d2"/>
<circle cx="366.6" cy="16.7" r="1.7" fill="#1f86d2"/>
<circle cx="370.22" cy="17.48" r="1.7" fill="#1f86d2"/>
<circle cx="373.83" cy="18.28" r="1.7" fill="#1f86d2"/>
<circle cx="377.43" cy="19.14" r="1.7" fill="#1f86d2"/>
<circle cx="380.99" cy="20.12" r="1.7" fill="#1f86d2"/>
<circle cx="384.51" cy="21.26" r="1.7" fill="#1f86d2"/>
<circle cx="388" cy="22.5" r="1.7" fill="#1f86d2"/>
<circle cx="391.46" cy="23.8" r="1.7" fill="#1f86d2"/>
<circle cx="394.92" cy="25.13" r="1.7" fill="#1f86d2"/>
<circle cx="398.36" cy="26.49" r="1.7" fill="#1f86d2"/>
<circle cx="401.79" cy="27.87" r="1.7" fill="#1f86d2"/>
<circle cx="405.21" cy="29.29" r="1.7" fill="#1f86d2"/>
<circle cx="408.6" cy="30.78" r="1.7" fill="#1f86d2"/>
<circle cx="411.94" cy="32.36" r="1.7" fill="#1f86d2"/>
<circle cx="415.22" cy="34.07" r="1.7" fill="#1f86d2"/>
<circle cx="418.46" cy="35.86" r="1.7" fill="#1f86d2"/>
<circle cx="421.68" cy="37.69" r="1.7" fill="#1f86d2"/>
<circle cx="378.6" cy="22.7" r="1.7" fill="#1f86d2"/>
<circle cx="382.07" cy="23.99" r="1.7" fill="#1f86d2"/>
<circle cx="385.54" cy="25.27" r="1.7" fill="#1f86d2"/>
<circle cx="389" cy="26.58" r="1.7" fill="#1f86d2"/>
<circle cx="392.44" cy="27.94" r="1.7" fill="#1f86d2"/>
<circle cx="395.87" cy="29.33" r="1.7" fill="#1f86d2"/>
<circle cx="399.28" cy="30.76" r="1.7" fill="#1f86d2"/>
<circle cx="402.66" cy="32.27" r="1.7" fill="#1f86d2"/>
<circle cx="405.98" cy="33.9" r="1.7" fill="#1f86d2"/>
<circle cx="409.23" cy="35.67" r="1.7" fill="#1f86d2"/>
<circle cx="412.43" cy="37.52" r="1.7" fill="#1f86d2"/>
<circle cx="415.61" cy="39.42" r="1.7" fill="#1f86d2"/>
<circle cx="393.6" cy="31.7" r="1.7" fill="#1f86d2"/>
<circle cx="396.96" cy="33.26" r="1.7" fill="#1f86d2"/>
<circle cx="400.31" cy="34.82" r="1.7" fill="#1f86d2"/>
<circle cx="403.65" cy="36.42" r="1.7" fill="#1f86d2"/>
<circle cx="406.93" cy="38.12" r="1.7" fill="#1f86d2"/>
<circle cx="410.13" cy="39.98" r="1.7" fill="#1f86d2"/>
<circle cx="413.29" cy="41.9" r="1.7" fill="#1f86d2"/>
<circle cx="426.6" cy="50.6" r="1.7" fill="#1f86d2"/>
<circle cx="429.93" cy="52.22" r="1.7" fill="#1f86d2"/>
<circle cx="433.26" cy="53.82" r="1.7" fill="#1f86d2"/>
<circle cx="436.62" cy="55.37" r="1.7" fill="#1f86d2"/>
<circle cx="440.05" cy="56.76" r="1.7" fill="#1f86d2"/>
<circle cx="443.57" cy="57.91" r="1.7" fill="#1f86d2"/>
<circle cx="447.13" cy="58.9" r="1.7" fill="#1f86d2"/>
<circle cx="450.7" cy="59.86" r="1.7" fill="#1f86d2"/>
<circle cx="454.25" cy="60.91" r="1.7" fill="#1f86d2"/>
<circle cx="457.78" cy="62.03" r="1.7" fill="#1f86d2"/>
<circle cx="461.3" cy="63.17" r="1.7" fill="#1f86d2"/>
<circle cx="462.6" cy="65.7" r="1.7" fill="#1f86d2"/>
<circle cx="464.6" cy="68.81" r="1.7" fill="#1f86d2"/>
<circle cx="467.42" cy="71.15" r="1.7" fill="#1f86d2"/>
<circle cx="470.89" cy="72.43" r="1.7" fill="#1f86d2"/>
<circle cx="474.41" cy="73.56" r="1.7" fill="#1f86d2"/>
<circle cx="477.82" cy="74.99" r="1.7" fill="#1f86d2"/>
<circle cx="481.14" cy="76.62" r="1.7" fill="#1f86d2"/>
<circle cx="484.43" cy="78.31" r="1.7" fill="#1f86d2"/>
<circle cx="488.3" cy="81.7" r="1.7" fill="#1f86d2"/>
<circle cx="491.78" cy="82.96" r="1.7" fill="#1f86d2"/>
<circle cx="495.26" cy="84.22" r="1.7" fill="#1f86d2"/>
<circle cx="498.73" cy="85.49" r="1.7" fill="#1f86d2"/>
<circle cx="502.2" cy="86.77" r="1.7" fill="#1f86d2"/>
<circle cx="505.68" cy="88.05" r="1.7" fill="#1f86d2"/>
<circle cx="509.13" cy="89.37" r="1.7" fill="#1f86d2"/>
<circle cx="512.55" cy="90.78" r="1.7" fill="#1f86d2"/>
<circle cx="515.94" cy="92.27" r="1.7" fill="#1f86d2"/>
<circle cx="519.32" cy="93.78" r="1.7" fill="#1f86d2"/>
<path d="M327.5 11.3 L330.21 11.53 L333.96 11.83 L338.41 12.19 L343.2 12.64 L348.02 13.17 L352.5 13.8 L356.8 14.56 L361.2 15.43 L365.62 16.4 L369.96 17.42 L374.12 18.47 L378 19.5 L381.5 20.48 L384.67 21.44 L387.66 22.42 L390.61 23.47 L393.68 24.65 L397 26 L400.64 27.55 L404.48 29.26 L408.44 31.09 L412.41 33.02 L416.29 35 L420 37 L423.51 39.06 L426.89 41.2 L430.19 43.41 L433.44 45.63 L436.7 47.84 L440 50 L443.33 52.1 L446.67 54.17 L450 56.22 L453.33 58.28 L456.67 60.36 L460 62.5 L463.33 64.73 L466.67 67.06 L470 69.41 L473.33 71.72 L476.67 73.94 L480 76 L483.29 77.88 L486.54 79.62 L489.79 81.27 L493.08 82.86 L496.47 84.42 L500 86 L503.84 87.64 L507.99 89.31 L512.22 90.96 L516.35 92.53 L520.14 93.96 L523.4 95.2 L526.03 96.2 L528.2 97 L530.04 97.66 L531.69 98.25 L533.3 98.84 L535 99.5 L536.88 100.27 L538.82 101.09 L540.73 101.92 L542.47 102.69 L543.93 103.33 L545 103.8" fill="none" stroke="#1f86d2" stroke-width="1" />
<circle cx="343" cy="10.8" r="2.1" fill="none" stroke="#333333" stroke-width="1"/>
<circle cx="346.1" cy="10.93" r="2.1" fill="none" stroke="#333333" stroke-width="1"/>
<circle cx="349.19" cy="11.06" r="2.1" fill="none" stroke="#333333" stroke-width="1"/>
<circle cx="352.29" cy="11.18" r="2.1" fill="none" stroke="#333333" stroke-width="1"/>
<circle cx="355.39" cy="11.31" r="2.1" fill="none" stroke="#333333" stroke-width="1"/>
<circle cx="358.49" cy="11.44" r="2.1" fill="none" stroke="#333333" stroke-width="1"/>
<circle cx="361.58" cy="11.57" r="2.1" fill="none" stroke="#333333" stroke-width="1"/>
<circle cx="364.68" cy="11.7" r="2.1" fill="none" stroke="#333333" stroke-width="1"/>
<circle cx="367.78" cy="11.83" r="2.1" fill="none" stroke="#333333" stroke-width="1"/>
<circle cx="370.88" cy="11.95" r="2.1" fill="none" stroke="#333333" stroke-width="1"/>
<circle cx="369.8" cy="32.4" r="2.1" fill="none" stroke="#333333" stroke-width="1"/>
<circle cx="372.5" cy="30.87" r="2.1" fill="none" stroke="#333333" stroke-width="1"/>
<circle cx="375.27" cy="29.48" r="2.1" fill="none" stroke="#333333" stroke-width="1"/>
<circle cx="378.11" cy="28.26" r="2.1" fill="none" stroke="#333333" stroke-width="1"/>
<circle cx="381.11" cy="27.49" r="2.1" fill="none" stroke="#333333" stroke-width="1"/>
<circle cx="384.2" cy="27.29" r="2.1" fill="none" stroke="#333333" stroke-width="1"/>
<circle cx="387.3" cy="27.28" r="2.1" fill="none" stroke="#333333" stroke-width="1"/>
<circle cx="385" cy="40.2" r="2.1" fill="none" stroke="#333333" stroke-width="1"/>
<circle cx="387.88" cy="39.04" r="2.1" fill="none" stroke="#333333" stroke-width="1"/>
<circle cx="390.78" cy="37.96" r="2.1" fill="none" stroke="#333333" stroke-width="1"/>
<circle cx="393.78" cy="37.18" r="2.1" fill="none" stroke="#333333" stroke-width="1"/>
<circle cx="396.85" cy="36.81" r="2.1" fill="none" stroke="#333333" stroke-width="1"/>
<circle cx="399.95" cy="36.8" r="2.1" fill="none" stroke="#333333" stroke-width="1"/>
<circle cx="403.04" cy="37.06" r="2.1" fill="none" stroke="#333333" stroke-width="1"/>
<circle cx="406.11" cy="37.45" r="2.1" fill="none" stroke="#333333" stroke-width="1"/>
<circle cx="409.18" cy="37.89" r="2.1" fill="none" stroke="#333333" stroke-width="1"/>
<circle cx="403.6" cy="53" r="2.1" fill="none" stroke="#333333" stroke-width="1"/>
<circle cx="406.66" cy="52.53" r="2.1" fill="none" stroke="#333333" stroke-width="1"/>
<circle cx="409.74" cy="52.14" r="2.1" fill="none" stroke="#333333" stroke-width="1"/>
<circle cx="412.83" cy="52.01" r="2.1" fill="none" stroke="#333333" stroke-width="1"/>
<circle cx="415.93" cy="52.14" r="2.1" fill="none" stroke="#333333" stroke-width="1"/>
<circle cx="419.02" cy="52.37" r="2.1" fill="none" stroke="#333333" stroke-width="1"/>
<circle cx="422.11" cy="52.63" r="2.1" fill="none" stroke="#333333" stroke-width="1"/>
<circle cx="424.8" cy="68" r="2.1" fill="none" stroke="#333333" stroke-width="1"/>
<circle cx="427.89" cy="67.81" r="2.1" fill="none" stroke="#333333" stroke-width="1"/>
<circle cx="430.99" cy="67.62" r="2.1" fill="none" stroke="#333333" stroke-width="1"/>
<circle cx="434.09" cy="67.51" r="2.1" fill="none" stroke="#333333" stroke-width="1"/>
<circle cx="437.19" cy="67.54" r="2.1" fill="none" stroke="#333333" stroke-width="1"/>
<circle cx="440.28" cy="67.73" r="2.1" fill="none" stroke="#333333" stroke-width="1"/>
<circle cx="443.37" cy="67.99" r="2.1" fill="none" stroke="#333333" stroke-width="1"/>
<circle cx="446.45" cy="68.29" r="2.1" fill="none" stroke="#333333" stroke-width="1"/>
<circle cx="451" cy="78.6" r="2.1" fill="none" stroke="#333333" stroke-width="1"/>
<circle cx="454.08" cy="78.95" r="2.1" fill="none" stroke="#333333" stroke-width="1"/>
<circle cx="457.16" cy="79.29" r="2.1" fill="none" stroke="#333333" stroke-width="1"/>
<circle cx="460.24" cy="79.63" r="2.1" fill="none" stroke="#333333" stroke-width="1"/>
<circle cx="463.33" cy="79.94" r="2.1" fill="none" stroke="#333333" stroke-width="1"/>
<circle cx="466.41" cy="80.25" r="2.1" fill="none" stroke="#333333" stroke-width="1"/>
<circle cx="469.5" cy="80.55" r="2.1" fill="none" stroke="#333333" stroke-width="1"/>
<circle cx="490" cy="86.8" r="2.1" fill="none" stroke="#333333" stroke-width="1"/>
<circle cx="493" cy="87.57" r="2.1" fill="none" stroke="#333333" stroke-width="1"/>
<circle cx="496" cy="88.35" r="2.1" fill="none" stroke="#333333" stroke-width="1"/>
<circle cx="499.01" cy="89.12" r="2.1" fill="none" stroke="#333333" stroke-width="1"/>
<circle cx="502.01" cy="89.89" r="2.1" fill="none" stroke="#333333" stroke-width="1"/>
<circle cx="505.01" cy="90.67" r="2.1" fill="none" stroke="#333333" stroke-width="1"/>
<circle cx="508.01" cy="91.44" r="2.1" fill="none" stroke="#333333" stroke-width="1"/>
<circle cx="511.01" cy="92.22" r="2.1" fill="none" stroke="#333333" stroke-width="1"/>
<circle cx="514.02" cy="92.99" r="2.1" fill="none" stroke="#333333" stroke-width="1"/>
<path d="M327.5 11.5 L330.21 11.79 L333.96 12.17 L338.41 12.62 L343.2 13.17 L348.02 13.79 L352.5 14.5 L356.76 15.3 L361.09 16.2 L365.44 17.19 L369.74 18.24 L373.95 19.35 L378 20.5 L381.89 21.67 L385.67 22.85 L389.34 24.09 L392.94 25.43 L396.49 26.88 L400 28.5 L403.45 30.31 L406.81 32.28 L410.12 34.38 L413.41 36.56 L416.69 38.78 L420 41 L423.33 43.26 L426.67 45.59 L430 47.97 L433.33 50.35 L436.67 52.71 L440 55 L443.33 57.24 L446.67 59.44 L450 61.62 L453.33 63.78 L456.67 65.9 L460 68 L463.33 70.1 L466.67 72.22 L470 74.31 L473.33 76.33 L476.67 78.24 L480 80 L483.31 81.58 L486.59 83.02 L489.88 84.34 L493.19 85.59 L496.55 86.8 L500 88 L503.54 89.21 L507.15 90.41 L510.81 91.56 L514.52 92.65 L518.25 93.64 L522 94.5 L526.04 95.24 L530.44 95.87 L534.88 96.41 L539 96.85 L542.49 97.21 L545 97.5" fill="none" stroke="#333333" stroke-width="1" />
<circle cx="346" cy="11.2" r="1.6" fill="#f7b431"/>
<circle cx="349.1" cy="11.37" r="1.6" fill="#f7b431"/>
<circle cx="352.19" cy="11.53" r="1.6" fill="#f7b431"/>
<circle cx="355.29" cy="11.7" r="1.6" fill="#f7b431"/>
<circle cx="358.38" cy="11.87" r="1.6" fill="#f7b431"/>
<circle cx="361.48" cy="12.03" r="1.6" fill="#f7b431"/>
<circle cx="364.57" cy="12.2" r="1.6" fill="#f7b431"/>
<circle cx="367.67" cy="12.37" r="1.6" fill="#f7b431"/>
<circle cx="370.76" cy="12.53" r="1.6" fill="#f7b431"/>
<circle cx="382.4" cy="32.4" r="1.6" fill="#f7b431"/>
<circle cx="385.5" cy="32.27" r="1.6" fill="#f7b431"/>
<circle cx="388.59" cy="32.13" r="1.6" fill="#f7b431"/>
<circle cx="391.69" cy="32.02" r="1.6" fill="#f7b431"/>
<circle cx="394.79" cy="31.97" r="1.6" fill="#f7b431"/>
<circle cx="397.89" cy="32" r="1.6" fill="#f7b431"/>
<circle cx="400.99" cy="32.17" r="1.6" fill="#f7b431"/>
<circle cx="404.07" cy="32.43" r="1.6" fill="#f7b431"/>
<circle cx="407.16" cy="32.75" r="1.6" fill="#f7b431"/>
<circle cx="410.24" cy="33.09" r="1.6" fill="#f7b431"/>
<circle cx="413.32" cy="33.43" r="1.6" fill="#f7b431"/>
<circle cx="400" cy="49.8" r="1.6" fill="#f7b431"/>
<circle cx="403.07" cy="49.4" r="1.6" fill="#f7b431"/>
<circle cx="406.15" cy="49.05" r="1.6" fill="#f7b431"/>
<circle cx="409.25" cy="48.9" r="1.6" fill="#f7b431"/>
<circle cx="412.34" cy="49.08" r="1.6" fill="#f7b431"/>
<circle cx="415.42" cy="49.47" r="1.6" fill="#f7b431"/>
<circle cx="418.48" cy="49.94" r="1.6" fill="#f7b431"/>
<circle cx="421.54" cy="50.43" r="1.6" fill="#f7b431"/>
<circle cx="423.7" cy="69.8" r="1.6" fill="#f7b431"/>
<circle cx="426.79" cy="69.59" r="1.6" fill="#f7b431"/>
<circle cx="429.89" cy="69.39" r="1.6" fill="#f7b431"/>
<circle cx="432.98" cy="69.24" r="1.6" fill="#f7b431"/>
<circle cx="436.08" cy="69.2" r="1.6" fill="#f7b431"/>
<circle cx="439.18" cy="69.34" r="1.6" fill="#f7b431"/>
<circle cx="442.27" cy="69.58" r="1.6" fill="#f7b431"/>
<circle cx="445.36" cy="69.87" r="1.6" fill="#f7b431"/>
<circle cx="448.44" cy="70.17" r="1.6" fill="#f7b431"/>
<circle cx="455" cy="78.5" r="1.6" fill="#f7b431"/>
<circle cx="458.07" cy="78.92" r="1.6" fill="#f7b431"/>
<circle cx="461.14" cy="79.34" r="1.6" fill="#f7b431"/>
<circle cx="464.21" cy="79.76" r="1.6" fill="#f7b431"/>
<circle cx="490" cy="87.4" r="1.6" fill="#f7b431"/>
<circle cx="493" cy="88.2" r="1.6" fill="#f7b431"/>
<circle cx="495.99" cy="89" r="1.6" fill="#f7b431"/>
<circle cx="498.99" cy="89.8" r="1.6" fill="#f7b431"/>
<circle cx="501.98" cy="90.6" r="1.6" fill="#f7b431"/>
<circle cx="504.98" cy="91.39" r="1.6" fill="#f7b431"/>
<circle cx="507.97" cy="92.19" r="1.6" fill="#f7b431"/>
<circle cx="510.97" cy="92.99" r="1.6" fill="#f7b431"/>
<circle cx="513.96" cy="93.79" r="1.6" fill="#f7b431"/>
<path d="M327.5 11.8 L330.21 12.09 L333.96 12.46 L338.41 12.91 L343.2 13.45 L348.02 14.08 L352.5 14.8 L356.76 15.63 L361.09 16.56 L365.44 17.59 L369.74 18.68 L373.95 19.83 L378 21 L381.89 22.18 L385.67 23.37 L389.34 24.61 L392.94 25.93 L396.49 27.39 L400 29 L403.45 30.81 L406.81 32.78 L410.12 34.88 L413.41 37.06 L416.69 39.28 L420 41.5 L423.33 43.76 L426.67 46.09 L430 48.47 L433.33 50.85 L436.67 53.21 L440 55.5 L443.33 57.74 L446.67 59.94 L450 62.12 L453.33 64.28 L456.67 66.4 L460 68.5 L463.33 70.6 L466.67 72.72 L470 74.81 L473.33 76.83 L476.67 78.74 L480 80.5 L483.31 82.08 L486.59 83.52 L489.88 84.84 L493.19 86.09 L496.55 87.3 L500 88.5 L503.54 89.71 L507.15 90.91 L510.81 92.06 L514.52 93.15 L518.25 94.14 L522 95 L526.04 95.74 L530.44 96.37 L534.88 96.91 L539 97.35 L542.49 97.71 L545 98" fill="none" stroke="#f7b431" stroke-width="1" />
<circle cx="345" cy="10.6" r="2.1" fill="none" stroke="#78b240" stroke-width="1"/>
<circle cx="348.09" cy="10.79" r="2.1" fill="none" stroke="#78b240" stroke-width="1"/>
<circle cx="351.19" cy="10.98" r="2.1" fill="none" stroke="#78b240" stroke-width="1"/>
<circle cx="354.28" cy="11.18" r="2.1" fill="none" stroke="#78b240" stroke-width="1"/>
<circle cx="357.38" cy="11.37" r="2.1" fill="none" stroke="#78b240" stroke-width="1"/>
<circle cx="360.47" cy="11.56" r="2.1" fill="none" stroke="#78b240" stroke-width="1"/>
<circle cx="363.56" cy="11.75" r="2.1" fill="none" stroke="#78b240" stroke-width="1"/>
<circle cx="366.66" cy="11.94" r="2.1" fill="none" stroke="#78b240" stroke-width="1"/>
<circle cx="369.75" cy="12.14" r="2.1" fill="none" stroke="#78b240" stroke-width="1"/>
<circle cx="372.85" cy="12.33" r="2.1" fill="none" stroke="#78b240" stroke-width="1"/>
<circle cx="404" cy="45.5" r="2.1" fill="none" stroke="#78b240" stroke-width="1"/>
<circle cx="407.09" cy="45.77" r="2.1" fill="none" stroke="#78b240" stroke-width="1"/>
<circle cx="410.18" cy="46.04" r="2.1" fill="none" stroke="#78b240" stroke-width="1"/>
<circle cx="413.26" cy="46.33" r="2.1" fill="none" stroke="#78b240" stroke-width="1"/>
<circle cx="416.35" cy="46.64" r="2.1" fill="none" stroke="#78b240" stroke-width="1"/>
<circle cx="419.43" cy="46.99" r="2.1" fill="none" stroke="#78b240" stroke-width="1"/>
<circle cx="422.51" cy="47.35" r="2.1" fill="none" stroke="#78b240" stroke-width="1"/>
<circle cx="425.58" cy="47.71" r="2.1" fill="none" stroke="#78b240" stroke-width="1"/>
<circle cx="426" cy="65.5" r="2.1" fill="none" stroke="#78b240" stroke-width="1"/>
<circle cx="429.1" cy="65.56" r="2.1" fill="none" stroke="#78b240" stroke-width="1"/>
<circle cx="432.2" cy="65.64" r="2.1" fill="none" stroke="#78b240" stroke-width="1"/>
<circle cx="435.3" cy="65.76" r="2.1" fill="none" stroke="#78b240" stroke-width="1"/>
<circle cx="438.39" cy="65.99" r="2.1" fill="none" stroke="#78b240" stroke-width="1"/>
<circle cx="441.47" cy="66.3" r="2.1" fill="none" stroke="#78b240" stroke-width="1"/>
<circle cx="444.55" cy="66.64" r="2.1" fill="none" stroke="#78b240" stroke-width="1"/>
<circle cx="460" cy="73.6" r="2.1" fill="none" stroke="#78b240" stroke-width="1"/>
<circle cx="463.02" cy="74.32" r="2.1" fill="none" stroke="#78b240" stroke-width="1"/>
<circle cx="466.03" cy="75.04" r="2.1" fill="none" stroke="#78b240" stroke-width="1"/>
<circle cx="469.04" cy="75.77" r="2.1" fill="none" stroke="#78b240" stroke-width="1"/>
<circle cx="472.05" cy="76.51" r="2.1" fill="none" stroke="#78b240" stroke-width="1"/>
<circle cx="475.06" cy="77.26" r="2.1" fill="none" stroke="#78b240" stroke-width="1"/>
<circle cx="478.07" cy="78.01" r="2.1" fill="none" stroke="#78b240" stroke-width="1"/>
<circle cx="481.08" cy="78.77" r="2.1" fill="none" stroke="#78b240" stroke-width="1"/>
<circle cx="486" cy="84.5" r="2.1" fill="none" stroke="#78b240" stroke-width="1"/>
<circle cx="489" cy="85.29" r="2.1" fill="none" stroke="#78b240" stroke-width="1"/>
<circle cx="492" cy="86.07" r="2.1" fill="none" stroke="#78b240" stroke-width="1"/>
<circle cx="495" cy="86.86" r="2.1" fill="none" stroke="#78b240" stroke-width="1"/>
<circle cx="497.99" cy="87.65" r="2.1" fill="none" stroke="#78b240" stroke-width="1"/>
<circle cx="500.99" cy="88.44" r="2.1" fill="none" stroke="#78b240" stroke-width="1"/>
<circle cx="503.99" cy="89.23" r="2.1" fill="none" stroke="#78b240" stroke-width="1"/>
<circle cx="506.98" cy="90.03" r="2.1" fill="none" stroke="#78b240" stroke-width="1"/>
<circle cx="509.98" cy="90.83" r="2.1" fill="none" stroke="#78b240" stroke-width="1"/>
<circle cx="512.97" cy="91.64" r="2.1" fill="none" stroke="#78b240" stroke-width="1"/>
<circle cx="515.96" cy="92.45" r="2.1" fill="none" stroke="#78b240" stroke-width="1"/>
<path d="M327.5 11.2 L330.21 11.44 L333.96 11.75 L338.41 12.12 L343.2 12.59 L348.02 13.14 L352.5 13.8 L356.76 14.58 L361.09 15.47 L365.44 16.45 L369.74 17.51 L373.95 18.63 L378 19.8 L381.89 21 L385.67 22.23 L389.34 23.53 L392.94 24.9 L396.49 26.39 L400 28 L403.43 29.73 L406.74 31.57 L410 33.51 L413.26 35.56 L416.57 37.72 L420 40 L423.6 42.48 L427.33 45.19 L431.12 48 L434.89 50.81 L438.54 53.52 L442 56 L445.21 58.23 L448.22 60.3 L451.12 62.25 L454 64.15 L456.93 66.05 L460 68 L463.22 70.06 L466.52 72.19 L469.88 74.31 L473.26 76.37 L476.64 78.29 L480 80 L483.33 81.46 L486.67 82.73 L490 83.86 L493.33 84.9 L496.67 85.93 L500 87 L503.28 88.15 L506.48 89.34 L509.69 90.51 L512.96 91.6 L516.38 92.55 L520 93.3 L524.17 93.82 L528.89 94.15 L533.75 94.34 L538.33 94.45 L542.22 94.52 L545 94.6" fill="none" stroke="#78b240" stroke-width="1" />
<circle cx="344" cy="11.4" r="1.6" fill="#ee2e2e"/>
<circle cx="347.09" cy="11.58" r="1.6" fill="#ee2e2e"/>
<circle cx="350.19" cy="11.76" r="1.6" fill="#ee2e2e"/>
<circle cx="353.28" cy="11.94" r="1.6" fill="#ee2e2e"/>
<circle cx="356.38" cy="12.12" r="1.6" fill="#ee2e2e"/>
<circle cx="359.47" cy="12.3" r="1.6" fill="#ee2e2e"/>
<circle cx="362.57" cy="12.48" r="1.6" fill="#ee2e2e"/>
<circle cx="365.66" cy="12.66" r="1.6" fill="#ee2e2e"/>
<circle cx="368.76" cy="12.84" r="1.6" fill="#ee2e2e"/>
<circle cx="371.85" cy="13.02" r="1.6" fill="#ee2e2e"/>
<circle cx="374.95" cy="13.2" r="1.6" fill="#ee2e2e"/>
<circle cx="347" cy="16.5" r="1.6" fill="#ee2e2e"/>
<circle cx="370.4" cy="28" r="1.6" fill="#ee2e2e"/>
<circle cx="373.14" cy="26.55" r="1.6" fill="#ee2e2e"/>
<circle cx="375.98" cy="25.31" r="1.6" fill="#ee2e2e"/>
<circle cx="378.99" cy="24.58" r="1.6" fill="#ee2e2e"/>
<circle cx="382.07" cy="24.3" r="1.6" fill="#ee2e2e"/>
<circle cx="385.17" cy="24.28" r="1.6" fill="#ee2e2e"/>
<circle cx="388.27" cy="24.37" r="1.6" fill="#ee2e2e"/>
<circle cx="391.37" cy="24.48" r="1.6" fill="#ee2e2e"/>
<circle cx="385.6" cy="32.8" r="1.6" fill="#ee2e2e"/>
<circle cx="388.7" cy="32.65" r="1.6" fill="#ee2e2e"/>
<circle cx="391.79" cy="32.49" r="1.6" fill="#ee2e2e"/>
<circle cx="394.89" cy="32.38" r="1.6" fill="#ee2e2e"/>
<circle cx="397.99" cy="32.35" r="1.6" fill="#ee2e2e"/>
<circle cx="401.09" cy="32.48" r="1.6" fill="#ee2e2e"/>
<circle cx="404.17" cy="32.76" r="1.6" fill="#ee2e2e"/>
<circle cx="407.25" cy="33.15" r="1.6" fill="#ee2e2e"/>
<circle cx="410.32" cy="33.59" r="1.6" fill="#ee2e2e"/>
<circle cx="413.38" cy="34.05" r="1.6" fill="#ee2e2e"/>
<circle cx="403" cy="41.7" r="1.6" fill="#ee2e2e"/>
<circle cx="406.02" cy="42.38" r="1.6" fill="#ee2e2e"/>
<circle cx="409.05" cy="43.05" r="1.6" fill="#ee2e2e"/>
<circle cx="412.09" cy="43.67" r="1.6" fill="#ee2e2e"/>
<circle cx="415.14" cy="44.21" r="1.6" fill="#ee2e2e"/>
<circle cx="418.19" cy="44.8" r="1.6" fill="#ee2e2e"/>
<circle cx="421.2" cy="45.5" r="1.6" fill="#ee2e2e"/>
<circle cx="424.2" cy="46.3" r="1.6" fill="#ee2e2e"/>
<circle cx="427.18" cy="47.13" r="1.6" fill="#ee2e2e"/>
<circle cx="430.17" cy="47.98" r="1.6" fill="#ee2e2e"/>
<circle cx="424.8" cy="61.4" r="1.6" fill="#ee2e2e"/>
<circle cx="427.85" cy="61.94" r="1.6" fill="#ee2e2e"/>
<circle cx="430.9" cy="62.5" r="1.6" fill="#ee2e2e"/>
<circle cx="433.94" cy="63.09" r="1.6" fill="#ee2e2e"/>
<circle cx="436.98" cy="63.72" r="1.6" fill="#ee2e2e"/>
<circle cx="440.01" cy="64.4" r="1.6" fill="#ee2e2e"/>
<circle cx="443" cy="65.21" r="1.6" fill="#ee2e2e"/>
<circle cx="445.95" cy="66.16" r="1.6" fill="#ee2e2e"/>
<circle cx="448.87" cy="67.2" r="1.6" fill="#ee2e2e"/>
<circle cx="451.77" cy="68.3" r="1.6" fill="#ee2e2e"/>
<circle cx="454.63" cy="69.48" r="1.6" fill="#ee2e2e"/>
<circle cx="457.48" cy="70.71" r="1.6" fill="#ee2e2e"/>
<circle cx="358" cy="17" r="1.9" fill="#ee2e2e"/>
<circle cx="360.93" cy="17.63" r="1.9" fill="#ee2e2e"/>
<circle cx="363.87" cy="18.24" r="1.9" fill="#ee2e2e"/>
<circle cx="366.81" cy="18.86" r="1.9" fill="#ee2e2e"/>
<circle cx="369.74" cy="19.48" r="1.9" fill="#ee2e2e"/>
<circle cx="372.67" cy="20.11" r="1.9" fill="#ee2e2e"/>
<circle cx="375.6" cy="20.75" r="1.9" fill="#ee2e2e"/>
<circle cx="378.53" cy="21.41" r="1.9" fill="#ee2e2e"/>
<circle cx="381.45" cy="22.1" r="1.9" fill="#ee2e2e"/>
<circle cx="384.36" cy="22.84" r="1.9" fill="#ee2e2e"/>
<circle cx="387.25" cy="23.63" r="1.9" fill="#ee2e2e"/>
<circle cx="390.12" cy="24.5" r="1.9" fill="#ee2e2e"/>
<circle cx="392.96" cy="25.46" r="1.9" fill="#ee2e2e"/>
<circle cx="395.75" cy="26.56" r="1.9" fill="#ee2e2e"/>
<circle cx="398.49" cy="27.78" r="1.9" fill="#ee2e2e"/>
<circle cx="401.19" cy="29.1" r="1.9" fill="#ee2e2e"/>
<circle cx="403.84" cy="30.51" r="1.9" fill="#ee2e2e"/>
<circle cx="406.43" cy="32.03" r="1.9" fill="#ee2e2e"/>
<circle cx="408.98" cy="33.6" r="1.9" fill="#ee2e2e"/>
<circle cx="411.51" cy="35.21" r="1.9" fill="#ee2e2e"/>
<circle cx="414.02" cy="36.85" r="1.9" fill="#ee2e2e"/>
<circle cx="416.51" cy="38.54" r="1.9" fill="#ee2e2e"/>
<circle cx="418.92" cy="40.31" r="1.9" fill="#ee2e2e"/>
<circle cx="421.3" cy="42.14" r="1.9" fill="#ee2e2e"/>
<circle cx="423.68" cy="43.97" r="1.9" fill="#ee2e2e"/>
<circle cx="426.1" cy="45.74" r="1.9" fill="#ee2e2e"/>
<circle cx="428.62" cy="47.37" r="1.9" fill="#ee2e2e"/>
<circle cx="431.24" cy="48.83" r="1.9" fill="#ee2e2e"/>
<circle cx="433.92" cy="50.17" r="1.9" fill="#ee2e2e"/>
<circle cx="436.64" cy="51.44" r="1.9" fill="#ee2e2e"/>
<circle cx="439.36" cy="52.7" r="1.9" fill="#ee2e2e"/>
<circle cx="455" cy="76.4" r="1.9" fill="#ee2e2e"/>
<circle cx="457.87" cy="77.27" r="1.9" fill="#ee2e2e"/>
<circle cx="460.74" cy="78.13" r="1.9" fill="#ee2e2e"/>
<circle cx="463.61" cy="79.01" r="1.9" fill="#ee2e2e"/>
<circle cx="466.48" cy="79.89" r="1.9" fill="#ee2e2e"/>
<circle cx="469.34" cy="80.79" r="1.9" fill="#ee2e2e"/>
<circle cx="472.2" cy="81.72" r="1.9" fill="#ee2e2e"/>
<circle cx="475.04" cy="82.67" r="1.9" fill="#ee2e2e"/>
<circle cx="477.88" cy="83.64" r="1.9" fill="#ee2e2e"/>
<circle cx="480.72" cy="84.61" r="1.9" fill="#ee2e2e"/>
<circle cx="483.56" cy="85.56" r="1.9" fill="#ee2e2e"/>
<circle cx="486.41" cy="86.5" r="1.9" fill="#ee2e2e"/>
<circle cx="489.28" cy="87.38" r="1.9" fill="#ee2e2e"/>
<circle cx="492.16" cy="88.21" r="1.9" fill="#ee2e2e"/>
<circle cx="495.06" cy="88.99" r="1.9" fill="#ee2e2e"/>
<circle cx="497.97" cy="89.73" r="1.9" fill="#ee2e2e"/>
<circle cx="500.88" cy="90.46" r="1.9" fill="#ee2e2e"/>
<circle cx="503.79" cy="91.19" r="1.9" fill="#ee2e2e"/>
<circle cx="506.69" cy="91.94" r="1.9" fill="#ee2e2e"/>
<circle cx="509.6" cy="92.69" r="1.9" fill="#ee2e2e"/>
<circle cx="512.5" cy="93.44" r="1.9" fill="#ee2e2e"/>
<circle cx="515.41" cy="94.19" r="1.9" fill="#ee2e2e"/>
<circle cx="518.31" cy="94.94" r="1.9" fill="#ee2e2e"/>
<path d="M327.5 13.2 L330.21 13.51 L333.96 13.91 L338.41 14.41 L343.2 14.99 L348.02 15.65 L352.5 16.4 L356.76 17.25 L361.09 18.2 L365.44 19.23 L369.74 20.34 L373.95 21.5 L378 22.7 L381.95 23.96 L385.85 25.29 L389.66 26.68 L393.31 28.11 L396.78 29.55 L400 31 L402.91 32.45 L405.52 33.91 L407.94 35.39 L410.26 36.9 L412.58 38.43 L415 40 L417.5 41.59 L420 43.19 L422.5 44.81 L425 46.48 L427.5 48.21 L430 50 L432.5 51.91 L435 53.93 L437.5 56 L440 58.07 L442.5 60.09 L445 62 L447.5 63.78 L450 65.48 L452.5 67.12 L455 68.74 L457.5 70.36 L460 72 L462.5 73.71 L465 75.46 L467.5 77.22 L470 78.93 L472.5 80.54 L475 82 L477.44 83.31 L479.81 84.5 L482.19 85.59 L484.63 86.61 L487.21 87.57 L490 88.5 L493.04 89.38 L496.3 90.19 L499.69 90.94 L503.15 91.65 L506.61 92.33 L510 93 L513.39 93.66 L516.85 94.31 L520.31 94.92 L523.7 95.5 L526.96 96.03 L530 96.5 L532.96 96.91 L535.93 97.26 L538.75 97.57 L541.3 97.83 L543.43 98.04 L545 98.2" fill="none" stroke="#ee2e2e" stroke-width="1" />
<circle cx="348" cy="10.8" r="2.1" fill="none" stroke="#cf3050" stroke-width="1"/>
<circle cx="351.09" cy="11.06" r="2.1" fill="none" stroke="#cf3050" stroke-width="1"/>
<circle cx="354.18" cy="11.31" r="2.1" fill="none" stroke="#cf3050" stroke-width="1"/>
<circle cx="357.27" cy="11.57" r="2.1" fill="none" stroke="#cf3050" stroke-width="1"/>
<circle cx="360.36" cy="11.83" r="2.1" fill="none" stroke="#cf3050" stroke-width="1"/>
<circle cx="363.45" cy="12.09" r="2.1" fill="none" stroke="#cf3050" stroke-width="1"/>
<circle cx="366.54" cy="12.34" r="2.1" fill="none" stroke="#cf3050" stroke-width="1"/>
<circle cx="369.63" cy="12.6" r="2.1" fill="none" stroke="#cf3050" stroke-width="1"/>
<circle cx="357" cy="11.8" r="2.4" fill="none" stroke="#cf3050" stroke-width="1"/>
<circle cx="360.69" cy="12" r="2.4" fill="none" stroke="#cf3050" stroke-width="1"/>
<circle cx="364.39" cy="12.24" r="2.4" fill="none" stroke="#cf3050" stroke-width="1"/>
<circle cx="368.06" cy="12.64" r="2.4" fill="none" stroke="#cf3050" stroke-width="1"/>
<circle cx="371.71" cy="13.26" r="2.4" fill="none" stroke="#cf3050" stroke-width="1"/>
<circle cx="375.3" cy="14.14" r="2.4" fill="none" stroke="#cf3050" stroke-width="1"/>
<circle cx="378.88" cy="15.11" r="2.4" fill="none" stroke="#cf3050" stroke-width="1"/>
<circle cx="382.43" cy="16.12" r="2.4" fill="none" stroke="#cf3050" stroke-width="1"/>
<circle cx="385.97" cy="17.19" r="2.4" fill="none" stroke="#cf3050" stroke-width="1"/>
<circle cx="389.49" cy="18.33" r="2.4" fill="none" stroke="#cf3050" stroke-width="1"/>
<circle cx="392.99" cy="19.53" r="2.4" fill="none" stroke="#cf3050" stroke-width="1"/>
<circle cx="396.48" cy="20.78" r="2.4" fill="none" stroke="#cf3050" stroke-width="1"/>
<circle cx="399.94" cy="22.09" r="2.4" fill="none" stroke="#cf3050" stroke-width="1"/>
<circle cx="403.38" cy="23.46" r="2.4" fill="none" stroke="#cf3050" stroke-width="1"/>
<circle cx="406.78" cy="24.91" r="2.4" fill="none" stroke="#cf3050" stroke-width="1"/>
<circle cx="410.15" cy="26.44" r="2.4" fill="none" stroke="#cf3050" stroke-width="1"/>
<circle cx="413.49" cy="28.03" r="2.4" fill="none" stroke="#cf3050" stroke-width="1"/>
<circle cx="416.8" cy="29.69" r="2.4" fill="none" stroke="#cf3050" stroke-width="1"/>
<circle cx="420.08" cy="31.39" r="2.4" fill="none" stroke="#cf3050" stroke-width="1"/>
<circle cx="423.34" cy="33.14" r="2.4" fill="none" stroke="#cf3050" stroke-width="1"/>
<circle cx="426.57" cy="34.95" r="2.4" fill="none" stroke="#cf3050" stroke-width="1"/>
<circle cx="429.74" cy="36.85" r="2.4" fill="none" stroke="#cf3050" stroke-width="1"/>
<circle cx="432.86" cy="38.84" r="2.4" fill="none" stroke="#cf3050" stroke-width="1"/>
<circle cx="435.91" cy="40.94" r="2.4" fill="none" stroke="#cf3050" stroke-width="1"/>
<circle cx="438.77" cy="43.28" r="2.4" fill="none" stroke="#cf3050" stroke-width="1"/>
<circle cx="441.39" cy="45.89" r="2.4" fill="none" stroke="#cf3050" stroke-width="1"/>
<circle cx="366" cy="15.5" r="2.4" fill="none" stroke="#cf3050" stroke-width="1"/>
<circle cx="369.62" cy="16.28" r="2.4" fill="none" stroke="#cf3050" stroke-width="1"/>
<circle cx="373.23" cy="17.08" r="2.4" fill="none" stroke="#cf3050" stroke-width="1"/>
<circle cx="376.83" cy="17.94" r="2.4" fill="none" stroke="#cf3050" stroke-width="1"/>
<circle cx="380.39" cy="18.92" r="2.4" fill="none" stroke="#cf3050" stroke-width="1"/>
<circle cx="383.91" cy="20.06" r="2.4" fill="none" stroke="#cf3050" stroke-width="1"/>
<circle cx="387.4" cy="21.3" r="2.4" fill="none" stroke="#cf3050" stroke-width="1"/>
<circle cx="390.86" cy="22.6" r="2.4" fill="none" stroke="#cf3050" stroke-width="1"/>
<circle cx="394.32" cy="23.93" r="2.4" fill="none" stroke="#cf3050" stroke-width="1"/>
<circle cx="397.76" cy="25.29" r="2.4" fill="none" stroke="#cf3050" stroke-width="1"/>
<circle cx="401.19" cy="26.67" r="2.4" fill="none" stroke="#cf3050" stroke-width="1"/>
<circle cx="404.61" cy="28.09" r="2.4" fill="none" stroke="#cf3050" stroke-width="1"/>
<circle cx="408" cy="29.58" r="2.4" fill="none" stroke="#cf3050" stroke-width="1"/>
<circle cx="411.34" cy="31.16" r="2.4" fill="none" stroke="#cf3050" stroke-width="1"/>
<circle cx="414.62" cy="32.87" r="2.4" fill="none" stroke="#cf3050" stroke-width="1"/>
<circle cx="417.86" cy="34.66" r="2.4" fill="none" stroke="#cf3050" stroke-width="1"/>
<circle cx="421.08" cy="36.49" r="2.4" fill="none" stroke="#cf3050" stroke-width="1"/>
<circle cx="378" cy="21.5" r="2.4" fill="none" stroke="#cf3050" stroke-width="1"/>
<circle cx="381.47" cy="22.79" r="2.4" fill="none" stroke="#cf3050" stroke-width="1"/>
<circle cx="384.94" cy="24.07" r="2.4" fill="none" stroke="#cf3050" stroke-width="1"/>
<circle cx="388.4" cy="25.38" r="2.4" fill="none" stroke="#cf3050" stroke-width="1"/>
<circle cx="391.84" cy="26.74" r="2.4" fill="none" stroke="#cf3050" stroke-width="1"/>
<circle cx="395.27" cy="28.13" r="2.4" fill="none" stroke="#cf3050" stroke-width="1"/>
<circle cx="398.68" cy="29.56" r="2.4" fill="none" stroke="#cf3050" stroke-width="1"/>
<circle cx="402.06" cy="31.07" r="2.4" fill="none" stroke="#cf3050" stroke-width="1"/>
<circle cx="405.38" cy="32.7" r="2.4" fill="none" stroke="#cf3050" stroke-width="1"/>
<circle cx="408.63" cy="34.47" r="2.4" fill="none" stroke="#cf3050" stroke-width="1"/>
<circle cx="411.83" cy="36.32" r="2.4" fill="none" stroke="#cf3050" stroke-width="1"/>
<circle cx="415.01" cy="38.22" r="2.4" fill="none" stroke="#cf3050" stroke-width="1"/>
<circle cx="393" cy="30.5" r="2.4" fill="none" stroke="#cf3050" stroke-width="1"/>
<circle cx="396.36" cy="32.06" r="2.4" fill="none" stroke="#cf3050" stroke-width="1"/>
<circle cx="399.71" cy="33.62" r="2.4" fill="none" stroke="#cf3050" stroke-width="1"/>
<circle cx="403.05" cy="35.22" r="2.4" fill="none" stroke="#cf3050" stroke-width="1"/>
<circle cx="406.33" cy="36.92" r="2.4" fill="none" stroke="#cf3050" stroke-width="1"/>
<circle cx="409.53" cy="38.78" r="2.4" fill="none" stroke="#cf3050" stroke-width="1"/>
<circle cx="412.69" cy="40.7" r="2.4" fill="none" stroke="#cf3050" stroke-width="1"/>
<circle cx="426" cy="49.4" r="2.4" fill="none" stroke="#cf3050" stroke-width="1"/>
<circle cx="429.33" cy="51.02" r="2.4" fill="none" stroke="#cf3050" stroke-width="1"/>
<circle cx="432.66" cy="52.62" r="2.4" fill="none" stroke="#cf3050" stroke-width="1"/>
<circle cx="436.02" cy="54.17" r="2.4" fill="none" stroke="#cf3050" stroke-width="1"/>
<circle cx="439.45" cy="55.56" r="2.4" fill="none" stroke="#cf3050" stroke-width="1"/>
<circle cx="442.97" cy="56.71" r="2.4" fill="none" stroke="#cf3050" stroke-width="1"/>
<circle cx="446.53" cy="57.7" r="2.4" fill="none" stroke="#cf3050" stroke-width="1"/>
<circle cx="450.1" cy="58.66" r="2.4" fill="none" stroke="#cf3050" stroke-width="1"/>
<circle cx="453.65" cy="59.71" r="2.4" fill="none" stroke="#cf3050" stroke-width="1"/>
<circle cx="457.18" cy="60.83" r="2.4" fill="none" stroke="#cf3050" stroke-width="1"/>
<circle cx="460.7" cy="61.97" r="2.4" fill="none" stroke="#cf3050" stroke-width="1"/>
<circle cx="462" cy="64.5" r="2.4" fill="none" stroke="#cf3050" stroke-width="1"/>
<circle cx="464" cy="67.61" r="2.4" fill="none" stroke="#cf3050" stroke-width="1"/>
<circle cx="466.82" cy="69.95" r="2.4" fill="none" stroke="#cf3050" stroke-width="1"/>
<circle cx="470.29" cy="71.23" r="2.4" fill="none" stroke="#cf3050" stroke-width="1"/>
<circle cx="473.81" cy="72.36" r="2.4" fill="none" stroke="#cf3050" stroke-width="1"/>
<circle cx="477.22" cy="73.79" r="2.4" fill="none" stroke="#cf3050" stroke-width="1"/>
<circle cx="480.54" cy="75.42" r="2.4" fill="none" stroke="#cf3050" stroke-width="1"/>
<circle cx="483.83" cy="77.11" r="2.4" fill="none" stroke="#cf3050" stroke-width="1"/>
<circle cx="487.7" cy="80.5" r="2.4" fill="none" stroke="#cf3050" stroke-width="1"/>
<circle cx="491.18" cy="81.76" r="2.4" fill="none" stroke="#cf3050" stroke-width="1"/>
<circle cx="494.66" cy="83.02" r="2.4" fill="none" stroke="#cf3050" stroke-width="1"/>
<circle cx="498.13" cy="84.29" r="2.4" fill="none" stroke="#cf3050" stroke-width="1"/>
<circle cx="501.6" cy="85.57" r="2.4" fill="none" stroke="#cf3050" stroke-width="1"/>
<circle cx="505.08" cy="86.85" r="2.4" fill="none" stroke="#cf3050" stroke-width="1"/>
<circle cx="508.53" cy="88.17" r="2.4" fill="none" stroke="#cf3050" stroke-width="1"/>
<circle cx="511.95" cy="89.58" r="2.4" fill="none" stroke="#cf3050" stroke-width="1"/>
<circle cx="515.34" cy="91.07" r="2.4" fill="none" stroke="#cf3050" stroke-width="1"/>
<circle cx="518.72" cy="92.58" r="2.4" fill="none" stroke="#cf3050" stroke-width="1"/>
<path d="M327.5 13 L330.21 13.29 L333.96 13.67 L338.41 14.12 L343.2 14.67 L348.02 15.29 L352.5 16 L356.76 16.81 L361.09 17.74 L365.44 18.75 L369.74 19.81 L373.95 20.91 L378 22 L381.95 23.09 L385.85 24.19 L389.66 25.31 L393.31 26.48 L396.78 27.71 L400 29 L402.91 30.38 L405.52 31.85 L407.94 33.38 L410.26 34.93 L412.58 36.48 L415 38 L417.38 39.39 L419.63 40.65 L421.88 41.91 L424.26 43.3 L426.92 44.95 L430 47 L433.59 49.58 L437.59 52.61 L441.88 55.91 L446.3 59.28 L450.72 62.54 L455 65.5 L459.22 68.23 L463.52 70.89 L467.81 73.44 L472.04 75.83 L476.12 78.03 L480 80 L483.65 81.7 L487.11 83.17 L490.44 84.44 L493.67 85.56 L496.84 86.56 L500 87.5 L503.19 88.32 L506.37 88.98 L509.5 89.53 L512.52 90.02 L515.37 90.49 L518 91 L520.31 91.53 L522.33 92.04 L524.19 92.53 L526 93.02 L527.9 93.51 L530 94 L532.5 94.53 L535.33 95.11 L538.25 95.69 L541 96.22 L543.33 96.67 L545 97" fill="none" stroke="#cf3050" stroke-width="1" />
<path d="M328.5 13 L328.5 60" fill="none" stroke="#cf3050" stroke-width="1.2" />
<circle cx="357" cy="11.8" r="2" fill="#22e3f2"/>
<circle cx="360.69" cy="12" r="2" fill="#22e3f2"/>
<circle cx="364.39" cy="12.24" r="2" fill="#22e3f2"/>
<circle cx="368.06" cy="12.64" r="2" fill="#22e3f2"/>
<circle cx="371.71" cy="13.26" r="2" fill="#22e3f2"/>
<circle cx="375.3" cy="14.14" r="2" fill="#22e3f2"/>
<circle cx="378.88" cy="15.11" r="2" fill="#22e3f2"/>
<circle cx="382.43" cy="16.12" r="2" fill="#22e3f2"/>
<circle cx="385.97" cy="17.19" r="2" fill="#22e3f2"/>
<circle cx="389.49" cy="18.33" r="2" fill="#22e3f2"/>
<circle cx="392.99" cy="19.53" r="2" fill="#22e3f2"/>
<circle cx="396.48" cy="20.78" r="2" fill="#22e3f2"/>
<circle cx="399.94" cy="22.09" r="2" fill="#22e3f2"/>
<circle cx="403.38" cy="23.46" r="2" fill="#22e3f2"/>
<circle cx="406.78" cy="24.91" r="2" fill="#22e3f2"/>
<circle cx="410.15" cy="26.44" r="2" fill="#22e3f2"/>
<circle cx="413.49" cy="28.03" r="2" fill="#22e3f2"/>
<circle cx="416.8" cy="29.69" r="2" fill="#22e3f2"/>
<circle cx="420.08" cy="31.39" r="2" fill="#22e3f2"/>
<circle cx="423.34" cy="33.14" r="2" fill="#22e3f2"/>
<circle cx="426.57" cy="34.95" r="2" fill="#22e3f2"/>
<circle cx="429.74" cy="36.85" r="2" fill="#22e3f2"/>
<circle cx="432.86" cy="38.84" r="2" fill="#22e3f2"/>
<circle cx="435.91" cy="40.94" r="2" fill="#22e3f2"/>
<circle cx="438.77" cy="43.28" r="2" fill="#22e3f2"/>
<circle cx="441.39" cy="45.89" r="2" fill="#22e3f2"/>
<circle cx="366" cy="15.5" r="2" fill="#22e3f2"/>
<circle cx="369.62" cy="16.28" r="2" fill="#22e3f2"/>
<circle cx="373.23" cy="17.08" r="2" fill="#22e3f2"/>
<circle cx="376.83" cy="17.94" r="2" fill="#22e3f2"/>
<circle cx="380.39" cy="18.92" r="2" fill="#22e3f2"/>
<circle cx="383.91" cy="20.06" r="2" fill="#22e3f2"/>
<circle cx="387.4" cy="21.3" r="2" fill="#22e3f2"/>
<circle cx="390.86" cy="22.6" r="2" fill="#22e3f2"/>
<circle cx="394.32" cy="23.93" r="2" fill="#22e3f2"/>
<circle cx="397.76" cy="25.29" r="2" fill="#22e3f2"/>
<circle cx="401.19" cy="26.67" r="2" fill="#22e3f2"/>
<circle cx="404.61" cy="28.09" r="2" fill="#22e3f2"/>
<circle cx="408" cy="29.58" r="2" fill="#22e3f2"/>
<circle cx="411.34" cy="31.16" r="2" fill="#22e3f2"/>
<circle cx="414.62" cy="32.87" r="2" fill="#22e3f2"/>
<circle cx="417.86" cy="34.66" r="2" fill="#22e3f2"/>
<circle cx="421.08" cy="36.49" r="2" fill="#22e3f2"/>
<circle cx="378" cy="21.5" r="2" fill="#22e3f2"/>
<circle cx="381.47" cy="22.79" r="2" fill="#22e3f2"/>
<circle cx="384.94" cy="24.07" r="2" fill="#22e3f2"/>
<circle cx="388.4" cy="25.38" r="2" fill="#22e3f2"/>
<circle cx="391.84" cy="26.74" r="2" fill="#22e3f2"/>
<circle cx="395.27" cy="28.13" r="2" fill="#22e3f2"/>
<circle cx="398.68" cy="29.56" r="2" fill="#22e3f2"/>
<circle cx="402.06" cy="31.07" r="2" fill="#22e3f2"/>
<circle cx="405.38" cy="32.7" r="2" fill="#22e3f2"/>
<circle cx="408.63" cy="34.47" r="2" fill="#22e3f2"/>
<circle cx="411.83" cy="36.32" r="2" fill="#22e3f2"/>
<circle cx="415.01" cy="38.22" r="2" fill="#22e3f2"/>
<circle cx="393" cy="30.5" r="2" fill="#22e3f2"/>
<circle cx="396.36" cy="32.06" r="2" fill="#22e3f2"/>
<circle cx="399.71" cy="33.62" r="2" fill="#22e3f2"/>
<circle cx="403.05" cy="35.22" r="2" fill="#22e3f2"/>
<circle cx="406.33" cy="36.92" r="2" fill="#22e3f2"/>
<circle cx="409.53" cy="38.78" r="2" fill="#22e3f2"/>
<circle cx="412.69" cy="40.7" r="2" fill="#22e3f2"/>
<circle cx="426" cy="49.4" r="2" fill="#22e3f2"/>
<circle cx="429.33" cy="51.02" r="2" fill="#22e3f2"/>
<circle cx="432.66" cy="52.62" r="2" fill="#22e3f2"/>
<circle cx="436.02" cy="54.17" r="2" fill="#22e3f2"/>
<circle cx="439.45" cy="55.56" r="2" fill="#22e3f2"/>
<circle cx="442.97" cy="56.71" r="2" fill="#22e3f2"/>
<circle cx="446.53" cy="57.7" r="2" fill="#22e3f2"/>
<circle cx="450.1" cy="58.66" r="2" fill="#22e3f2"/>
<circle cx="453.65" cy="59.71" r="2" fill="#22e3f2"/>
<circle cx="457.18" cy="60.83" r="2" fill="#22e3f2"/>
<circle cx="460.7" cy="61.97" r="2" fill="#22e3f2"/>
<circle cx="462" cy="64.5" r="2" fill="#22e3f2"/>
<circle cx="464" cy="67.61" r="2" fill="#22e3f2"/>
<circle cx="466.82" cy="69.95" r="2" fill="#22e3f2"/>
<circle cx="470.29" cy="71.23" r="2" fill="#22e3f2"/>
<circle cx="473.81" cy="72.36" r="2" fill="#22e3f2"/>
<circle cx="477.22" cy="73.79" r="2" fill="#22e3f2"/>
<circle cx="480.54" cy="75.42" r="2" fill="#22e3f2"/>
<circle cx="483.83" cy="77.11" r="2" fill="#22e3f2"/>
<circle cx="487.7" cy="80.5" r="2" fill="#22e3f2"/>
<circle cx="491.18" cy="81.76" r="2" fill="#22e3f2"/>
<circle cx="494.66" cy="83.02" r="2" fill="#22e3f2"/>
<circle cx="498.13" cy="84.29" r="2" fill="#22e3f2"/>
<circle cx="501.6" cy="85.57" r="2" fill="#22e3f2"/>
<circle cx="505.08" cy="86.85" r="2" fill="#22e3f2"/>
<circle cx="508.53" cy="88.17" r="2" fill="#22e3f2"/>
<circle cx="511.95" cy="89.58" r="2" fill="#22e3f2"/>
<circle cx="515.34" cy="91.07" r="2" fill="#22e3f2"/>
<circle cx="518.72" cy="92.58" r="2" fill="#22e3f2"/>
<path d="M327.5 11 L330.21 11.23 L333.96 11.53 L338.41 11.89 L343.2 12.33 L348.02 12.86 L352.5 13.5 L356.8 14.27 L361.2 15.17 L365.62 16.17 L369.96 17.21 L374.12 18.27 L378 19.3 L381.5 20.26 L384.67 21.18 L387.66 22.11 L390.61 23.1 L393.68 24.21 L397 25.5 L400.64 26.98 L404.48 28.63 L408.44 30.39 L412.41 32.23 L416.29 34.11 L420 36 L423.51 37.9 L426.89 39.85 L430.19 41.84 L433.44 43.87 L436.7 45.92 L440 48 L443.33 50.11 L446.67 52.26 L450 54.44 L453.33 56.63 L456.67 58.82 L460 61 L463.33 63.19 L466.67 65.41 L470 67.62 L473.33 69.81 L476.67 71.95 L480 74 L483.39 76 L486.85 77.98 L490.31 79.91 L493.7 81.74 L496.96 83.45 L500 85 L502.87 86.37 L505.61 87.6 L508.22 88.69 L510.67 89.69 L512.94 90.62 L515 91.5 L516.77 92.27 L518.24 92.89 L519.54 93.44 L520.76 94 L522.01 94.62 L523.4 95.4 L524.9 96.29 L526.42 97.24 L527.97 98.26 L529.58 99.37 L531.25 100.61 L533 102 L535 103.71 L537.27 105.75 L539.6 107.91 L541.8 109.99 L543.67 111.75 L545 113" fill="none" stroke="#22e3f2" stroke-width="1" />
</g>
<rect x="327.5" y="3.3" width="217.4" height="154.5" fill="none" stroke="#262626" stroke-width="1"/>
<line x1="333.2" y1="157.8" x2="333.2" y2="155.4" stroke="#262626" stroke-width="0.8"/>
<line x1="333.2" y1="3.3" x2="333.2" y2="5.7" stroke="#262626" stroke-width="0.8"/>
<line x1="366.9" y1="157.8" x2="366.9" y2="155.4" stroke="#262626" stroke-width="0.8"/>
<line x1="366.9" y1="3.3" x2="366.9" y2="5.7" stroke="#262626" stroke-width="0.8"/>
<line x1="400.6" y1="157.8" x2="400.6" y2="155.4" stroke="#262626" stroke-width="0.8"/>
<line x1="400.6" y1="3.3" x2="400.6" y2="5.7" stroke="#262626" stroke-width="0.8"/>
<line x1="434.3" y1="157.8" x2="434.3" y2="155.4" stroke="#262626" stroke-width="0.8"/>
<line x1="434.3" y1="3.3" x2="434.3" y2="5.7" stroke="#262626" stroke-width="0.8"/>
<line x1="468" y1="157.8" x2="468" y2="155.4" stroke="#262626" stroke-width="0.8"/>
<line x1="468" y1="3.3" x2="468" y2="5.7" stroke="#262626" stroke-width="0.8"/>
<line x1="501.7" y1="157.8" x2="501.7" y2="155.4" stroke="#262626" stroke-width="0.8"/>
<line x1="501.7" y1="3.3" x2="501.7" y2="5.7" stroke="#262626" stroke-width="0.8"/>
<line x1="535.4" y1="157.8" x2="535.4" y2="155.4" stroke="#262626" stroke-width="0.8"/>
<line x1="535.4" y1="3.3" x2="535.4" y2="5.7" stroke="#262626" stroke-width="0.8"/>
<line x1="328.13" y1="157.8" x2="328.13" y2="156.5" stroke="#262626" stroke-width="0.6"/>
<line x1="328.13" y1="3.3" x2="328.13" y2="4.6" stroke="#262626" stroke-width="0.6"/>
<line x1="329.46" y1="157.8" x2="329.46" y2="156.5" stroke="#262626" stroke-width="0.6"/>
<line x1="329.46" y1="3.3" x2="329.46" y2="4.6" stroke="#262626" stroke-width="0.6"/>
<line x1="330.59" y1="157.8" x2="330.59" y2="156.5" stroke="#262626" stroke-width="0.6"/>
<line x1="330.59" y1="3.3" x2="330.59" y2="4.6" stroke="#262626" stroke-width="0.6"/>
<line x1="331.57" y1="157.8" x2="331.57" y2="156.5" stroke="#262626" stroke-width="0.6"/>
<line x1="331.57" y1="3.3" x2="331.57" y2="4.6" stroke="#262626" stroke-width="0.6"/>
<line x1="332.43" y1="157.8" x2="332.43" y2="156.5" stroke="#262626" stroke-width="0.6"/>
<line x1="332.43" y1="3.3" x2="332.43" y2="4.6" stroke="#262626" stroke-width="0.6"/>
<line x1="338.27" y1="157.8" x2="338.27" y2="156.5" stroke="#262626" stroke-width="0.6"/>
<line x1="338.27" y1="3.3" x2="338.27" y2="4.6" stroke="#262626" stroke-width="0.6"/>
<line x1="341.24" y1="157.8" x2="341.24" y2="156.5" stroke="#262626" stroke-width="0.6"/>
<line x1="341.24" y1="3.3" x2="341.24" y2="4.6" stroke="#262626" stroke-width="0.6"/>
<line x1="343.34" y1="157.8" x2="343.34" y2="156.5" stroke="#262626" stroke-width="0.6"/>
<line x1="343.34" y1="3.3" x2="343.34" y2="4.6" stroke="#262626" stroke-width="0.6"/>
<line x1="344.98" y1="157.8" x2="344.98" y2="156.5" stroke="#262626" stroke-width="0.6"/>
<line x1="344.98" y1="3.3" x2="344.98" y2="4.6" stroke="#262626" stroke-width="0.6"/>
<line x1="346.31" y1="157.8" x2="346.31" y2="156.5" stroke="#262626" stroke-width="0.6"/>
<line x1="346.31" y1="3.3" x2="346.31" y2="4.6" stroke="#262626" stroke-width="0.6"/>
<line x1="347.44" y1="157.8" x2="347.44" y2="156.5" stroke="#262626" stroke-width="0.6"/>
<line x1="347.44" y1="3.3" x2="347.44" y2="4.6" stroke="#262626" stroke-width="0.6"/>
<line x1="348.42" y1="157.8" x2="348.42" y2="156.5" stroke="#262626" stroke-width="0.6"/>
<line x1="348.42" y1="3.3" x2="348.42" y2="4.6" stroke="#262626" stroke-width="0.6"/>
<line x1="349.28" y1="157.8" x2="349.28" y2="156.5" stroke="#262626" stroke-width="0.6"/>
<line x1="349.28" y1="3.3" x2="349.28" y2="4.6" stroke="#262626" stroke-width="0.6"/>
<line x1="355.12" y1="157.8" x2="355.12" y2="156.5" stroke="#262626" stroke-width="0.6"/>
<line x1="355.12" y1="3.3" x2="355.12" y2="4.6" stroke="#262626" stroke-width="0.6"/>
<line x1="358.09" y1="157.8" x2="358.09" y2="156.5" stroke="#262626" stroke-width="0.6"/>
<line x1="358.09" y1="3.3" x2="358.09" y2="4.6" stroke="#262626" stroke-width="0.6"/>
<line x1="360.19" y1="157.8" x2="360.19" y2="156.5" stroke="#262626" stroke-width="0.6"/>
<line x1="360.19" y1="3.3" x2="360.19" y2="4.6" stroke="#262626" stroke-width="0.6"/>
<line x1="361.83" y1="157.8" x2="361.83" y2="156.5" stroke="#262626" stroke-width="0.6"/>
<line x1="361.83" y1="3.3" x2="361.83" y2="4.6" stroke="#262626" stroke-width="0.6"/>
<line x1="363.16" y1="157.8" x2="363.16" y2="156.5" stroke="#262626" stroke-width="0.6"/>
<line x1="363.16" y1="3.3" x2="363.16" y2="4.6" stroke="#262626" stroke-width="0.6"/>
<line x1="364.29" y1="157.8" x2="364.29" y2="156.5" stroke="#262626" stroke-width="0.6"/>
<line x1="364.29" y1="3.3" x2="364.29" y2="4.6" stroke="#262626" stroke-width="0.6"/>
<line x1="365.27" y1="157.8" x2="365.27" y2="156.5" stroke="#262626" stroke-width="0.6"/>
<line x1="365.27" y1="3.3" x2="365.27" y2="4.6" stroke="#262626" stroke-width="0.6"/>
<line x1="366.13" y1="157.8" x2="366.13" y2="156.5" stroke="#262626" stroke-width="0.6"/>
<line x1="366.13" y1="3.3" x2="366.13" y2="4.6" stroke="#262626" stroke-width="0.6"/>
<line x1="371.97" y1="157.8" x2="371.97" y2="156.5" stroke="#262626" stroke-width="0.6"/>
<line x1="371.97" y1="3.3" x2="371.97" y2="4.6" stroke="#262626" stroke-width="0.6"/>
<line x1="374.94" y1="157.8" x2="374.94" y2="156.5" stroke="#262626" stroke-width="0.6"/>
<line x1="374.94" y1="3.3" x2="374.94" y2="4.6" stroke="#262626" stroke-width="0.6"/>
<line x1="377.04" y1="157.8" x2="377.04" y2="156.5" stroke="#262626" stroke-width="0.6"/>
<line x1="377.04" y1="3.3" x2="377.04" y2="4.6" stroke="#262626" stroke-width="0.6"/>
<line x1="378.68" y1="157.8" x2="378.68" y2="156.5" stroke="#262626" stroke-width="0.6"/>
<line x1="378.68" y1="3.3" x2="378.68" y2="4.6" stroke="#262626" stroke-width="0.6"/>
<line x1="380.01" y1="157.8" x2="380.01" y2="156.5" stroke="#262626" stroke-width="0.6"/>
<line x1="380.01" y1="3.3" x2="380.01" y2="4.6" stroke="#262626" stroke-width="0.6"/>
<line x1="381.14" y1="157.8" x2="381.14" y2="156.5" stroke="#262626" stroke-width="0.6"/>
<line x1="381.14" y1="3.3" x2="381.14" y2="4.6" stroke="#262626" stroke-width="0.6"/>
<line x1="382.12" y1="157.8" x2="382.12" y2="156.5" stroke="#262626" stroke-width="0.6"/>
<line x1="382.12" y1="3.3" x2="382.12" y2="4.6" stroke="#262626" stroke-width="0.6"/>
<line x1="382.98" y1="157.8" x2="382.98" y2="156.5" stroke="#262626" stroke-width="0.6"/>
<line x1="382.98" y1="3.3" x2="382.98" y2="4.6" stroke="#262626" stroke-width="0.6"/>
<line x1="388.82" y1="157.8" x2="388.82" y2="156.5" stroke="#262626" stroke-width="0.6"/>
<line x1="388.82" y1="3.3" x2="388.82" y2="4.6" stroke="#262626" stroke-width="0.6"/>
<line x1="391.79" y1="157.8" x2="391.79" y2="156.5" stroke="#262626" stroke-width="0.6"/>
<line x1="391.79" y1="3.3" x2="391.79" y2="4.6" stroke="#262626" stroke-width="0.6"/>
<line x1="393.89" y1="157.8" x2="393.89" y2="156.5" stroke="#262626" stroke-width="0.6"/>
<line x1="393.89" y1="3.3" x2="393.89" y2="4.6" stroke="#262626" stroke-width="0.6"/>
<line x1="395.53" y1="157.8" x2="395.53" y2="156.5" stroke="#262626" stroke-width="0.6"/>
<line x1="395.53" y1="3.3" x2="395.53" y2="4.6" stroke="#262626" stroke-width="0.6"/>
<line x1="396.86" y1="157.8" x2="396.86" y2="156.5" stroke="#262626" stroke-width="0.6"/>
<line x1="396.86" y1="3.3" x2="396.86" y2="4.6" stroke="#262626" stroke-width="0.6"/>
<line x1="397.99" y1="157.8" x2="397.99" y2="156.5" stroke="#262626" stroke-width="0.6"/>
<line x1="397.99" y1="3.3" x2="397.99" y2="4.6" stroke="#262626" stroke-width="0.6"/>
<line x1="398.97" y1="157.8" x2="398.97" y2="156.5" stroke="#262626" stroke-width="0.6"/>
<line x1="398.97" y1="3.3" x2="398.97" y2="4.6" stroke="#262626" stroke-width="0.6"/>
<line x1="399.83" y1="157.8" x2="399.83" y2="156.5" stroke="#262626" stroke-width="0.6"/>
<line x1="399.83" y1="3.3" x2="399.83" y2="4.6" stroke="#262626" stroke-width="0.6"/>
<line x1="405.67" y1="157.8" x2="405.67" y2="156.5" stroke="#262626" stroke-width="0.6"/>
<line x1="405.67" y1="3.3" x2="405.67" y2="4.6" stroke="#262626" stroke-width="0.6"/>
<line x1="408.64" y1="157.8" x2="408.64" y2="156.5" stroke="#262626" stroke-width="0.6"/>
<line x1="408.64" y1="3.3" x2="408.64" y2="4.6" stroke="#262626" stroke-width="0.6"/>
<line x1="410.74" y1="157.8" x2="410.74" y2="156.5" stroke="#262626" stroke-width="0.6"/>
<line x1="410.74" y1="3.3" x2="410.74" y2="4.6" stroke="#262626" stroke-width="0.6"/>
<line x1="412.38" y1="157.8" x2="412.38" y2="156.5" stroke="#262626" stroke-width="0.6"/>
<line x1="412.38" y1="3.3" x2="412.38" y2="4.6" stroke="#262626" stroke-width="0.6"/>
<line x1="413.71" y1="157.8" x2="413.71" y2="156.5" stroke="#262626" stroke-width="0.6"/>
<line x1="413.71" y1="3.3" x2="413.71" y2="4.6" stroke="#262626" stroke-width="0.6"/>
<line x1="414.84" y1="157.8" x2="414.84" y2="156.5" stroke="#262626" stroke-width="0.6"/>
<line x1="414.84" y1="3.3" x2="414.84" y2="4.6" stroke="#262626" stroke-width="0.6"/>
<line x1="415.82" y1="157.8" x2="415.82" y2="156.5" stroke="#262626" stroke-width="0.6"/>
<line x1="415.82" y1="3.3" x2="415.82" y2="4.6" stroke="#262626" stroke-width="0.6"/>
<line x1="416.68" y1="157.8" x2="416.68" y2="156.5" stroke="#262626" stroke-width="0.6"/>
<line x1="416.68" y1="3.3" x2="416.68" y2="4.6" stroke="#262626" stroke-width="0.6"/>
<line x1="422.52" y1="157.8" x2="422.52" y2="156.5" stroke="#262626" stroke-width="0.6"/>
<line x1="422.52" y1="3.3" x2="422.52" y2="4.6" stroke="#262626" stroke-width="0.6"/>
<line x1="425.49" y1="157.8" x2="425.49" y2="156.5" stroke="#262626" stroke-width="0.6"/>
<line x1="425.49" y1="3.3" x2="425.49" y2="4.6" stroke="#262626" stroke-width="0.6"/>
<line x1="427.59" y1="157.8" x2="427.59" y2="156.5" stroke="#262626" stroke-width="0.6"/>
<line x1="427.59" y1="3.3" x2="427.59" y2="4.6" stroke="#262626" stroke-width="0.6"/>
<line x1="429.23" y1="157.8" x2="429.23" y2="156.5" stroke="#262626" stroke-width="0.6"/>
<line x1="429.23" y1="3.3" x2="429.23" y2="4.6" stroke="#262626" stroke-width="0.6"/>
<line x1="430.56" y1="157.8" x2="430.56" y2="156.5" stroke="#262626" stroke-width="0.6"/>
<line x1="430.56" y1="3.3" x2="430.56" y2="4.6" stroke="#262626" stroke-width="0.6"/>
<line x1="431.69" y1="157.8" x2="431.69" y2="156.5" stroke="#262626" stroke-width="0.6"/>
<line x1="431.69" y1="3.3" x2="431.69" y2="4.6" stroke="#262626" stroke-width="0.6"/>
<line x1="432.67" y1="157.8" x2="432.67" y2="156.5" stroke="#262626" stroke-width="0.6"/>
<line x1="432.67" y1="3.3" x2="432.67" y2="4.6" stroke="#262626" stroke-width="0.6"/>
<line x1="433.53" y1="157.8" x2="433.53" y2="156.5" stroke="#262626" stroke-width="0.6"/>
<line x1="433.53" y1="3.3" x2="433.53" y2="4.6" stroke="#262626" stroke-width="0.6"/>
<line x1="439.37" y1="157.8" x2="439.37" y2="156.5" stroke="#262626" stroke-width="0.6"/>
<line x1="439.37" y1="3.3" x2="439.37" y2="4.6" stroke="#262626" stroke-width="0.6"/>
<line x1="442.34" y1="157.8" x2="442.34" y2="156.5" stroke="#262626" stroke-width="0.6"/>
<line x1="442.34" y1="3.3" x2="442.34" y2="4.6" stroke="#262626" stroke-width="0.6"/>
<line x1="444.44" y1="157.8" x2="444.44" y2="156.5" stroke="#262626" stroke-width="0.6"/>
<line x1="444.44" y1="3.3" x2="444.44" y2="4.6" stroke="#262626" stroke-width="0.6"/>
<line x1="446.08" y1="157.8" x2="446.08" y2="156.5" stroke="#262626" stroke-width="0.6"/>
<line x1="446.08" y1="3.3" x2="446.08" y2="4.6" stroke="#262626" stroke-width="0.6"/>
<line x1="447.41" y1="157.8" x2="447.41" y2="156.5" stroke="#262626" stroke-width="0.6"/>
<line x1="447.41" y1="3.3" x2="447.41" y2="4.6" stroke="#262626" stroke-width="0.6"/>
<line x1="448.54" y1="157.8" x2="448.54" y2="156.5" stroke="#262626" stroke-width="0.6"/>
<line x1="448.54" y1="3.3" x2="448.54" y2="4.6" stroke="#262626" stroke-width="0.6"/>
<line x1="449.52" y1="157.8" x2="449.52" y2="156.5" stroke="#262626" stroke-width="0.6"/>
<line x1="449.52" y1="3.3" x2="449.52" y2="4.6" stroke="#262626" stroke-width="0.6"/>
<line x1="450.38" y1="157.8" x2="450.38" y2="156.5" stroke="#262626" stroke-width="0.6"/>
<line x1="450.38" y1="3.3" x2="450.38" y2="4.6" stroke="#262626" stroke-width="0.6"/>
<line x1="456.22" y1="157.8" x2="456.22" y2="156.5" stroke="#262626" stroke-width="0.6"/>
<line x1="456.22" y1="3.3" x2="456.22" y2="4.6" stroke="#262626" stroke-width="0.6"/>
<line x1="459.19" y1="157.8" x2="459.19" y2="156.5" stroke="#262626" stroke-width="0.6"/>
<line x1="459.19" y1="3.3" x2="459.19" y2="4.6" stroke="#262626" stroke-width="0.6"/>
<line x1="461.29" y1="157.8" x2="461.29" y2="156.5" stroke="#262626" stroke-width="0.6"/>
<line x1="461.29" y1="3.3" x2="461.29" y2="4.6" stroke="#262626" stroke-width="0.6"/>
<line x1="462.93" y1="157.8" x2="462.93" y2="156.5" stroke="#262626" stroke-width="0.6"/>
<line x1="462.93" y1="3.3" x2="462.93" y2="4.6" stroke="#262626" stroke-width="0.6"/>
<line x1="464.26" y1="157.8" x2="464.26" y2="156.5" stroke="#262626" stroke-width="0.6"/>
<line x1="464.26" y1="3.3" x2="464.26" y2="4.6" stroke="#262626" stroke-width="0.6"/>
<line x1="465.39" y1="157.8" x2="465.39" y2="156.5" stroke="#262626" stroke-width="0.6"/>
<line x1="465.39" y1="3.3" x2="465.39" y2="4.6" stroke="#262626" stroke-width="0.6"/>
<line x1="466.37" y1="157.8" x2="466.37" y2="156.5" stroke="#262626" stroke-width="0.6"/>
<line x1="466.37" y1="3.3" x2="466.37" y2="4.6" stroke="#262626" stroke-width="0.6"/>
<line x1="467.23" y1="157.8" x2="467.23" y2="156.5" stroke="#262626" stroke-width="0.6"/>
<line x1="467.23" y1="3.3" x2="467.23" y2="4.6" stroke="#262626" stroke-width="0.6"/>
<line x1="473.07" y1="157.8" x2="473.07" y2="156.5" stroke="#262626" stroke-width="0.6"/>
<line x1="473.07" y1="3.3" x2="473.07" y2="4.6" stroke="#262626" stroke-width="0.6"/>
<line x1="476.04" y1="157.8" x2="476.04" y2="156.5" stroke="#262626" stroke-width="0.6"/>
<line x1="476.04" y1="3.3" x2="476.04" y2="4.6" stroke="#262626" stroke-width="0.6"/>
<line x1="478.14" y1="157.8" x2="478.14" y2="156.5" stroke="#262626" stroke-width="0.6"/>
<line x1="478.14" y1="3.3" x2="478.14" y2="4.6" stroke="#262626" stroke-width="0.6"/>
<line x1="479.78" y1="157.8" x2="479.78" y2="156.5" stroke="#262626" stroke-width="0.6"/>
<line x1="479.78" y1="3.3" x2="479.78" y2="4.6" stroke="#262626" stroke-width="0.6"/>
<line x1="481.11" y1="157.8" x2="481.11" y2="156.5" stroke="#262626" stroke-width="0.6"/>
<line x1="481.11" y1="3.3" x2="481.11" y2="4.6" stroke="#262626" stroke-width="0.6"/>
<line x1="482.24" y1="157.8" x2="482.24" y2="156.5" stroke="#262626" stroke-width="0.6"/>
<line x1="482.24" y1="3.3" x2="482.24" y2="4.6" stroke="#262626" stroke-width="0.6"/>
<line x1="483.22" y1="157.8" x2="483.22" y2="156.5" stroke="#262626" stroke-width="0.6"/>
<line x1="483.22" y1="3.3" x2="483.22" y2="4.6" stroke="#262626" stroke-width="0.6"/>
<line x1="484.08" y1="157.8" x2="484.08" y2="156.5" stroke="#262626" stroke-width="0.6"/>
<line x1="484.08" y1="3.3" x2="484.08" y2="4.6" stroke="#262626" stroke-width="0.6"/>
<line x1="489.92" y1="157.8" x2="489.92" y2="156.5" stroke="#262626" stroke-width="0.6"/>
<line x1="489.92" y1="3.3" x2="489.92" y2="4.6" stroke="#262626" stroke-width="0.6"/>
<line x1="492.89" y1="157.8" x2="492.89" y2="156.5" stroke="#262626" stroke-width="0.6"/>
<line x1="492.89" y1="3.3" x2="492.89" y2="4.6" stroke="#262626" stroke-width="0.6"/>
<line x1="494.99" y1="157.8" x2="494.99" y2="156.5" stroke="#262626" stroke-width="0.6"/>
<line x1="494.99" y1="3.3" x2="494.99" y2="4.6" stroke="#262626" stroke-width="0.6"/>
<line x1="496.63" y1="157.8" x2="496.63" y2="156.5" stroke="#262626" stroke-width="0.6"/>
<line x1="496.63" y1="3.3" x2="496.63" y2="4.6" stroke="#262626" stroke-width="0.6"/>
<line x1="497.96" y1="157.8" x2="497.96" y2="156.5" stroke="#262626" stroke-width="0.6"/>
<line x1="497.96" y1="3.3" x2="497.96" y2="4.6" stroke="#262626" stroke-width="0.6"/>
<line x1="499.09" y1="157.8" x2="499.09" y2="156.5" stroke="#262626" stroke-width="0.6"/>
<line x1="499.09" y1="3.3" x2="499.09" y2="4.6" stroke="#262626" stroke-width="0.6"/>
<line x1="500.07" y1="157.8" x2="500.07" y2="156.5" stroke="#262626" stroke-width="0.6"/>
<line x1="500.07" y1="3.3" x2="500.07" y2="4.6" stroke="#262626" stroke-width="0.6"/>
<line x1="500.93" y1="157.8" x2="500.93" y2="156.5" stroke="#262626" stroke-width="0.6"/>
<line x1="500.93" y1="3.3" x2="500.93" y2="4.6" stroke="#262626" stroke-width="0.6"/>
<line x1="506.77" y1="157.8" x2="506.77" y2="156.5" stroke="#262626" stroke-width="0.6"/>
<line x1="506.77" y1="3.3" x2="506.77" y2="4.6" stroke="#262626" stroke-width="0.6"/>
<line x1="509.74" y1="157.8" x2="509.74" y2="156.5" stroke="#262626" stroke-width="0.6"/>
<line x1="509.74" y1="3.3" x2="509.74" y2="4.6" stroke="#262626" stroke-width="0.6"/>
<line x1="511.84" y1="157.8" x2="511.84" y2="156.5" stroke="#262626" stroke-width="0.6"/>
<line x1="511.84" y1="3.3" x2="511.84" y2="4.6" stroke="#262626" stroke-width="0.6"/>
<line x1="513.48" y1="157.8" x2="513.48" y2="156.5" stroke="#262626" stroke-width="0.6"/>
<line x1="513.48" y1="3.3" x2="513.48" y2="4.6" stroke="#262626" stroke-width="0.6"/>
<line x1="514.81" y1="157.8" x2="514.81" y2="156.5" stroke="#262626" stroke-width="0.6"/>
<line x1="514.81" y1="3.3" x2="514.81" y2="4.6" stroke="#262626" stroke-width="0.6"/>
<line x1="515.94" y1="157.8" x2="515.94" y2="156.5" stroke="#262626" stroke-width="0.6"/>
<line x1="515.94" y1="3.3" x2="515.94" y2="4.6" stroke="#262626" stroke-width="0.6"/>
<line x1="516.92" y1="157.8" x2="516.92" y2="156.5" stroke="#262626" stroke-width="0.6"/>
<line x1="516.92" y1="3.3" x2="516.92" y2="4.6" stroke="#262626" stroke-width="0.6"/>
<line x1="517.78" y1="157.8" x2="517.78" y2="156.5" stroke="#262626" stroke-width="0.6"/>
<line x1="517.78" y1="3.3" x2="517.78" y2="4.6" stroke="#262626" stroke-width="0.6"/>
<line x1="523.62" y1="157.8" x2="523.62" y2="156.5" stroke="#262626" stroke-width="0.6"/>
<line x1="523.62" y1="3.3" x2="523.62" y2="4.6" stroke="#262626" stroke-width="0.6"/>
<line x1="526.59" y1="157.8" x2="526.59" y2="156.5" stroke="#262626" stroke-width="0.6"/>
<line x1="526.59" y1="3.3" x2="526.59" y2="4.6" stroke="#262626" stroke-width="0.6"/>
<line x1="528.69" y1="157.8" x2="528.69" y2="156.5" stroke="#262626" stroke-width="0.6"/>
<line x1="528.69" y1="3.3" x2="528.69" y2="4.6" stroke="#262626" stroke-width="0.6"/>
<line x1="530.33" y1="157.8" x2="530.33" y2="156.5" stroke="#262626" stroke-width="0.6"/>
<line x1="530.33" y1="3.3" x2="530.33" y2="4.6" stroke="#262626" stroke-width="0.6"/>
<line x1="531.66" y1="157.8" x2="531.66" y2="156.5" stroke="#262626" stroke-width="0.6"/>
<line x1="531.66" y1="3.3" x2="531.66" y2="4.6" stroke="#262626" stroke-width="0.6"/>
<line x1="532.79" y1="157.8" x2="532.79" y2="156.5" stroke="#262626" stroke-width="0.6"/>
<line x1="532.79" y1="3.3" x2="532.79" y2="4.6" stroke="#262626" stroke-width="0.6"/>
<line x1="533.77" y1="157.8" x2="533.77" y2="156.5" stroke="#262626" stroke-width="0.6"/>
<line x1="533.77" y1="3.3" x2="533.77" y2="4.6" stroke="#262626" stroke-width="0.6"/>
<line x1="534.63" y1="157.8" x2="534.63" y2="156.5" stroke="#262626" stroke-width="0.6"/>
<line x1="534.63" y1="3.3" x2="534.63" y2="4.6" stroke="#262626" stroke-width="0.6"/>
<line x1="540.47" y1="157.8" x2="540.47" y2="156.5" stroke="#262626" stroke-width="0.6"/>
<line x1="540.47" y1="3.3" x2="540.47" y2="4.6" stroke="#262626" stroke-width="0.6"/>
<line x1="543.44" y1="157.8" x2="543.44" y2="156.5" stroke="#262626" stroke-width="0.6"/>
<line x1="543.44" y1="3.3" x2="543.44" y2="4.6" stroke="#262626" stroke-width="0.6"/>
<line x1="350.05" y1="157.8" x2="350.05" y2="156.5" stroke="#262626" stroke-width="0.6"/>
<line x1="350.05" y1="3.3" x2="350.05" y2="4.6" stroke="#262626" stroke-width="0.6"/>
<line x1="383.75" y1="157.8" x2="383.75" y2="156.5" stroke="#262626" stroke-width="0.6"/>
<line x1="383.75" y1="3.3" x2="383.75" y2="4.6" stroke="#262626" stroke-width="0.6"/>
<line x1="417.45" y1="157.8" x2="417.45" y2="156.5" stroke="#262626" stroke-width="0.6"/>
<line x1="417.45" y1="3.3" x2="417.45" y2="4.6" stroke="#262626" stroke-width="0.6"/>
<line x1="451.15" y1="157.8" x2="451.15" y2="156.5" stroke="#262626" stroke-width="0.6"/>
<line x1="451.15" y1="3.3" x2="451.15" y2="4.6" stroke="#262626" stroke-width="0.6"/>
<line x1="484.85" y1="157.8" x2="484.85" y2="156.5" stroke="#262626" stroke-width="0.6"/>
<line x1="484.85" y1="3.3" x2="484.85" y2="4.6" stroke="#262626" stroke-width="0.6"/>
<line x1="518.55" y1="157.8" x2="518.55" y2="156.5" stroke="#262626" stroke-width="0.6"/>
<line x1="518.55" y1="3.3" x2="518.55" y2="4.6" stroke="#262626" stroke-width="0.6"/>
<line x1="327.5" y1="149.1" x2="329.9" y2="149.1" stroke="#262626" stroke-width="0.8"/>
<line x1="544.9" y1="149.1" x2="542.5" y2="149.1" stroke="#262626" stroke-width="0.8"/>
<line x1="327.5" y1="118.3" x2="329.9" y2="118.3" stroke="#262626" stroke-width="0.8"/>
<line x1="544.9" y1="118.3" x2="542.5" y2="118.3" stroke="#262626" stroke-width="0.8"/>
<line x1="327.5" y1="87.5" x2="329.9" y2="87.5" stroke="#262626" stroke-width="0.8"/>
<line x1="544.9" y1="87.5" x2="542.5" y2="87.5" stroke="#262626" stroke-width="0.8"/>
<line x1="327.5" y1="56.7" x2="329.9" y2="56.7" stroke="#262626" stroke-width="0.8"/>
<line x1="544.9" y1="56.7" x2="542.5" y2="56.7" stroke="#262626" stroke-width="0.8"/>
<line x1="327.5" y1="25.9" x2="329.9" y2="25.9" stroke="#262626" stroke-width="0.8"/>
<line x1="544.9" y1="25.9" x2="542.5" y2="25.9" stroke="#262626" stroke-width="0.8"/>
<text x="333.7" y="172.2" font-size="11.6" text-anchor="middle" fill="#262626">10<tspan dx="0.5" dy="-3.8" font-size="8">−</tspan><tspan dx="0.6" font-size="8">8</tspan></text>
<text x="367.4" y="172.2" font-size="11.6" text-anchor="middle" fill="#262626">10<tspan dx="0.5" dy="-3.8" font-size="8">−</tspan><tspan dx="0.6" font-size="8">6</tspan></text>
<text x="401.1" y="172.2" font-size="11.6" text-anchor="middle" fill="#262626">10<tspan dx="0.5" dy="-3.8" font-size="8">−</tspan><tspan dx="0.6" font-size="8">4</tspan></text>
<text x="434.8" y="172.2" font-size="11.6" text-anchor="middle" fill="#262626">10<tspan dx="0.5" dy="-3.8" font-size="8">−</tspan><tspan dx="0.6" font-size="8">2</tspan></text>
<text x="468.2" y="172.2" font-size="11.6" text-anchor="middle" fill="#262626">10<tspan dx="0.5" dy="-3.8" font-size="8">0</tspan></text>
<text x="501.9" y="172.2" font-size="11.6" text-anchor="middle" fill="#262626">10<tspan dx="0.5" dy="-3.8" font-size="8">2</tspan></text>
<text x="535.6" y="172.2" font-size="11.6" text-anchor="middle" fill="#262626">10<tspan dx="0.5" dy="-3.8" font-size="8">4</tspan></text>
<text x="322.8" y="153" font-size="11.8" text-anchor="end" font-weight="normal" font-style="normal" fill="#262626" >0</text>
<text x="322.8" y="122.2" font-size="11.8" text-anchor="end" font-weight="normal" font-style="normal" fill="#262626" >20</text>
<text x="322.8" y="91.4" font-size="11.8" text-anchor="end" font-weight="normal" font-style="normal" fill="#262626" >40</text>
<text x="322.8" y="60.6" font-size="11.8" text-anchor="end" font-weight="normal" font-style="normal" fill="#262626" >60</text>
<text x="322.8" y="29.8" font-size="11.8" text-anchor="end" font-weight="normal" font-style="normal" fill="#262626" >80</text>
<text x="436.2" y="190.6" font-size="14" text-anchor="middle" font-weight="normal" font-style="normal" fill="#262626" >Reduced Frequency [Hz]</text>
<text transform="translate(305.2,80.1) rotate(-90)" font-size="14" text-anchor="middle" fill="#262626">Phase Angle [°]</text>
<text x="507.8" y="148.8" font-size="13.5" text-anchor="middle" font-weight="bold" font-style="italic" fill="#111" >(b)</text>
<rect x="327.5" y="59.8" width="82.9" height="98" fill="#fff" stroke="#262626" stroke-width="0.9"/>
<circle cx="347.9" cy="67.5" r="2.1" fill="none" stroke="#f27a4b" stroke-width="1"/>
<text x="367.9" y="71" font-size="10.4" text-anchor="start" font-weight="normal" font-style="normal" fill="#1a1a1a" >YT 1&amp;16</text>
<circle cx="347.9" cy="79.5" r="1.6" fill="#1f86d2"/>
<text x="367.9" y="83" font-size="10.4" text-anchor="start" font-weight="normal" font-style="normal" fill="#1a1a1a" >NT 2&amp;4</text>
<circle cx="347.9" cy="91.5" r="2.1" fill="none" stroke="#333333" stroke-width="1"/>
<text x="367.9" y="95" font-size="10.4" text-anchor="start" font-weight="normal" font-style="normal" fill="#1a1a1a" >YT 3&amp;11</text>
<circle cx="347.9" cy="103.5" r="1.6" fill="#f7b431"/>
<text x="367.9" y="107" font-size="10.4" text-anchor="start" font-weight="normal" font-style="normal" fill="#1a1a1a" >NT 5&amp;10</text>
<circle cx="347.9" cy="115.3" r="2.1" fill="none" stroke="#78b240" stroke-width="1"/>
<text x="367.9" y="118.8" font-size="10.4" text-anchor="start" font-weight="normal" font-style="normal" fill="#1a1a1a" >YT 6&amp;13</text>
<circle cx="347.9" cy="127.3" r="1.6" fill="#ee2e2e"/>
<text x="367.9" y="130.8" font-size="10.4" text-anchor="start" font-weight="normal" font-style="normal" fill="#1a1a1a" >NT 7&amp;15</text>
<circle cx="347.9" cy="139.3" r="2.1" fill="none" stroke="#cf3050" stroke-width="1"/>
<text x="367.9" y="142.8" font-size="10.4" text-anchor="start" font-weight="normal" font-style="normal" fill="#1a1a1a" >YT 8&amp;12</text>
<circle cx="347.9" cy="151.3" r="1.6" fill="#22e3f2"/>
<text x="367.9" y="154.8" font-size="10.4" text-anchor="start" font-weight="normal" font-style="normal" fill="#1a1a1a" >NT 9&amp;14</text>
<clipPath id="cC"><rect x="52.6" y="206.5" width="489.1" height="165"/></clipPath>
<line x1="101.59" y1="206.5" x2="101.59" y2="371.5" stroke="#e0e0e0" stroke-width="0.8"/>
<line x1="150.78" y1="206.5" x2="150.78" y2="371.5" stroke="#e0e0e0" stroke-width="0.8"/>
<line x1="199.97" y1="206.5" x2="199.97" y2="371.5" stroke="#e0e0e0" stroke-width="0.8"/>
<line x1="249.16" y1="206.5" x2="249.16" y2="371.5" stroke="#e0e0e0" stroke-width="0.8"/>
<line x1="298.35" y1="206.5" x2="298.35" y2="371.5" stroke="#e0e0e0" stroke-width="0.8"/>
<line x1="347.54" y1="206.5" x2="347.54" y2="371.5" stroke="#e0e0e0" stroke-width="0.8"/>
<line x1="396.73" y1="206.5" x2="396.73" y2="371.5" stroke="#e0e0e0" stroke-width="0.8"/>
<line x1="445.92" y1="206.5" x2="445.92" y2="371.5" stroke="#e0e0e0" stroke-width="0.8"/>
<line x1="495.11" y1="206.5" x2="495.11" y2="371.5" stroke="#e0e0e0" stroke-width="0.8"/>
<line x1="52.6" y1="368" x2="541.7" y2="368" stroke="#e0e0e0" stroke-width="0.8"/>
<line x1="52.6" y1="337.86" x2="541.7" y2="337.86" stroke="#e0e0e0" stroke-width="0.8"/>
<line x1="52.6" y1="307.72" x2="541.7" y2="307.72" stroke="#e0e0e0" stroke-width="0.8"/>
<line x1="52.6" y1="277.58" x2="541.7" y2="277.58" stroke="#e0e0e0" stroke-width="0.8"/>
<line x1="52.6" y1="247.44" x2="541.7" y2="247.44" stroke="#e0e0e0" stroke-width="0.8"/>
<g clip-path="url(#cC)">














































































































































































































































































































































































































































































































































































































































































































<circle cx="216" cy="259" r="2.1" fill="none" stroke="#f27a4b" stroke-width="1"/>
<circle cx="218.78" cy="260.12" r="2.1" fill="none" stroke="#f27a4b" stroke-width="1"/>
<circle cx="221.57" cy="261.23" r="2.1" fill="none" stroke="#f27a4b" stroke-width="1"/>
<circle cx="224.36" cy="262.35" r="2.1" fill="none" stroke="#f27a4b" stroke-width="1"/>
<circle cx="227.14" cy="263.47" r="2.1" fill="none" stroke="#f27a4b" stroke-width="1"/>
<circle cx="229.91" cy="264.62" r="2.1" fill="none" stroke="#f27a4b" stroke-width="1"/>
<circle cx="232.67" cy="265.79" r="2.1" fill="none" stroke="#f27a4b" stroke-width="1"/>
<circle cx="235.4" cy="267.02" r="2.1" fill="none" stroke="#f27a4b" stroke-width="1"/>
<circle cx="238.12" cy="268.3" r="2.1" fill="none" stroke="#f27a4b" stroke-width="1"/>
<circle cx="240.83" cy="269.58" r="2.1" fill="none" stroke="#f27a4b" stroke-width="1"/>
<circle cx="243.55" cy="270.85" r="2.1" fill="none" stroke="#f27a4b" stroke-width="1"/>
<circle cx="246.3" cy="272.06" r="2.1" fill="none" stroke="#f27a4b" stroke-width="1"/>
<circle cx="249.07" cy="273.21" r="2.1" fill="none" stroke="#f27a4b" stroke-width="1"/>
<circle cx="251.85" cy="274.34" r="2.1" fill="none" stroke="#f27a4b" stroke-width="1"/>
<circle cx="254.63" cy="275.45" r="2.1" fill="none" stroke="#f27a4b" stroke-width="1"/>
<circle cx="272" cy="275" r="2.1" fill="none" stroke="#f27a4b" stroke-width="1"/>
<circle cx="275.6" cy="276.22" r="2.1" fill="none" stroke="#f27a4b" stroke-width="1"/>
<circle cx="279.2" cy="277.65" r="2.1" fill="none" stroke="#f27a4b" stroke-width="1"/>
<circle cx="282.8" cy="279.41" r="2.1" fill="none" stroke="#f27a4b" stroke-width="1"/>
<circle cx="286.4" cy="280.89" r="2.1" fill="none" stroke="#f27a4b" stroke-width="1"/>
<circle cx="290" cy="282.05" r="2.1" fill="none" stroke="#f27a4b" stroke-width="1"/>
<circle cx="293.6" cy="283.08" r="2.1" fill="none" stroke="#f27a4b" stroke-width="1"/>
<circle cx="297.2" cy="284.07" r="2.1" fill="none" stroke="#f27a4b" stroke-width="1"/>
<circle cx="300.8" cy="285.04" r="2.1" fill="none" stroke="#f27a4b" stroke-width="1"/>
<circle cx="304.4" cy="285.98" r="2.1" fill="none" stroke="#f27a4b" stroke-width="1"/>
<circle cx="308" cy="286.91" r="2.1" fill="none" stroke="#f27a4b" stroke-width="1"/>
<circle cx="311.6" cy="287.81" r="2.1" fill="none" stroke="#f27a4b" stroke-width="1"/>
<circle cx="315.2" cy="288.71" r="2.1" fill="none" stroke="#f27a4b" stroke-width="1"/>
<circle cx="318.8" cy="289.6" r="2.1" fill="none" stroke="#f27a4b" stroke-width="1"/>
<circle cx="322.4" cy="290.48" r="2.1" fill="none" stroke="#f27a4b" stroke-width="1"/>
<circle cx="326" cy="291.36" r="2.1" fill="none" stroke="#f27a4b" stroke-width="1"/>
<circle cx="329.6" cy="292.23" r="2.1" fill="none" stroke="#f27a4b" stroke-width="1"/>
<circle cx="333.2" cy="293.08" r="2.1" fill="none" stroke="#f27a4b" stroke-width="1"/>
<circle cx="336.8" cy="293.92" r="2.1" fill="none" stroke="#f27a4b" stroke-width="1"/>
<circle cx="340.4" cy="294.75" r="2.1" fill="none" stroke="#f27a4b" stroke-width="1"/>
<circle cx="344" cy="295.56" r="2.1" fill="none" stroke="#f27a4b" stroke-width="1"/>
<circle cx="347.6" cy="296.38" r="2.1" fill="none" stroke="#f27a4b" stroke-width="1"/>
<circle cx="351.2" cy="297.19" r="2.1" fill="none" stroke="#f27a4b" stroke-width="1"/>
<circle cx="354.8" cy="297.99" r="2.1" fill="none" stroke="#f27a4b" stroke-width="1"/>
<circle cx="358.4" cy="298.8" r="2.1" fill="none" stroke="#f27a4b" stroke-width="1"/>
<circle cx="362" cy="299.6" r="2.1" fill="none" stroke="#f27a4b" stroke-width="1"/>
<circle cx="365.6" cy="300.41" r="2.1" fill="none" stroke="#f27a4b" stroke-width="1"/>
<circle cx="369.2" cy="301.22" r="2.1" fill="none" stroke="#f27a4b" stroke-width="1"/>
<circle cx="372.8" cy="302.04" r="2.1" fill="none" stroke="#f27a4b" stroke-width="1"/>
<circle cx="376.4" cy="302.88" r="2.1" fill="none" stroke="#f27a4b" stroke-width="1"/>
<circle cx="380" cy="303.71" r="2.1" fill="none" stroke="#f27a4b" stroke-width="1"/>
<circle cx="383.6" cy="304.57" r="2.1" fill="none" stroke="#f27a4b" stroke-width="1"/>
<circle cx="387.2" cy="305.46" r="2.1" fill="none" stroke="#f27a4b" stroke-width="1"/>
<circle cx="390.8" cy="306.36" r="2.1" fill="none" stroke="#f27a4b" stroke-width="1"/>
<circle cx="394.4" cy="307.32" r="2.1" fill="none" stroke="#f27a4b" stroke-width="1"/>
<circle cx="398" cy="308.31" r="2.1" fill="none" stroke="#f27a4b" stroke-width="1"/>
<circle cx="401.6" cy="309.34" r="2.1" fill="none" stroke="#f27a4b" stroke-width="1"/>
<circle cx="405.2" cy="310.45" r="2.1" fill="none" stroke="#f27a4b" stroke-width="1"/>
<circle cx="408.8" cy="311.61" r="2.1" fill="none" stroke="#f27a4b" stroke-width="1"/>
<circle cx="412.4" cy="312.84" r="2.1" fill="none" stroke="#f27a4b" stroke-width="1"/>
<circle cx="416" cy="314.11" r="2.1" fill="none" stroke="#f27a4b" stroke-width="1"/>
<circle cx="419.6" cy="315.42" r="2.1" fill="none" stroke="#f27a4b" stroke-width="1"/>
<circle cx="423.2" cy="316.76" r="2.1" fill="none" stroke="#f27a4b" stroke-width="1"/>
<circle cx="426.8" cy="318.16" r="2.1" fill="none" stroke="#f27a4b" stroke-width="1"/>
<circle cx="430.4" cy="319.62" r="2.1" fill="none" stroke="#f27a4b" stroke-width="1"/>
<circle cx="434" cy="321.14" r="2.1" fill="none" stroke="#f27a4b" stroke-width="1"/>
<circle cx="437.6" cy="322.7" r="2.1" fill="none" stroke="#f27a4b" stroke-width="1"/>
<circle cx="455" cy="324" r="2.1" fill="none" stroke="#f27a4b" stroke-width="1"/>
<circle cx="457.64" cy="325.42" r="2.1" fill="none" stroke="#f27a4b" stroke-width="1"/>
<circle cx="460.29" cy="326.83" r="2.1" fill="none" stroke="#f27a4b" stroke-width="1"/>
<circle cx="462.93" cy="328.26" r="2.1" fill="none" stroke="#f27a4b" stroke-width="1"/>
<circle cx="465.53" cy="329.76" r="2.1" fill="none" stroke="#f27a4b" stroke-width="1"/>
<circle cx="468.06" cy="331.36" r="2.1" fill="none" stroke="#f27a4b" stroke-width="1"/>
<circle cx="470.5" cy="333.11" r="2.1" fill="none" stroke="#f27a4b" stroke-width="1"/>
<circle cx="472.85" cy="334.97" r="2.1" fill="none" stroke="#f27a4b" stroke-width="1"/>
<circle cx="475.13" cy="336.93" r="2.1" fill="none" stroke="#f27a4b" stroke-width="1"/>
<circle cx="477.29" cy="339" r="2.1" fill="none" stroke="#f27a4b" stroke-width="1"/>
<circle cx="479.32" cy="341.21" r="2.1" fill="none" stroke="#f27a4b" stroke-width="1"/>
<circle cx="481.2" cy="343.55" r="2.1" fill="none" stroke="#f27a4b" stroke-width="1"/>
<circle cx="482.9" cy="346.02" r="2.1" fill="none" stroke="#f27a4b" stroke-width="1"/>
<circle cx="484.43" cy="348.6" r="2.1" fill="none" stroke="#f27a4b" stroke-width="1"/>
<circle cx="485.8" cy="351.26" r="2.1" fill="none" stroke="#f27a4b" stroke-width="1"/>
<circle cx="487" cy="354.01" r="2.1" fill="none" stroke="#f27a4b" stroke-width="1"/>
<circle cx="487.89" cy="356.88" r="2.1" fill="none" stroke="#f27a4b" stroke-width="1"/>
<circle cx="488.52" cy="359.81" r="2.1" fill="none" stroke="#f27a4b" stroke-width="1"/>
<circle cx="489" cy="362.77" r="2.1" fill="none" stroke="#f27a4b" stroke-width="1"/>
<circle cx="489.45" cy="365.74" r="2.1" fill="none" stroke="#f27a4b" stroke-width="1"/>
<circle cx="300" cy="287" r="2.1" fill="none" stroke="#f27a4b" stroke-width="1"/>
<circle cx="299.56" cy="290.33" r="2.1" fill="none" stroke="#f27a4b" stroke-width="1"/>
<circle cx="298.22" cy="293.67" r="2.1" fill="none" stroke="#f27a4b" stroke-width="1"/>
<circle cx="296" cy="297" r="2.1" fill="none" stroke="#f27a4b" stroke-width="1"/>
<circle cx="361" cy="304" r="2.1" fill="none" stroke="#f27a4b" stroke-width="1"/>
<circle cx="360.33" cy="307.33" r="2.1" fill="none" stroke="#f27a4b" stroke-width="1"/>
<circle cx="358.33" cy="310.67" r="2.1" fill="none" stroke="#f27a4b" stroke-width="1"/>
<circle cx="355" cy="314" r="2.1" fill="none" stroke="#f27a4b" stroke-width="1"/>
<circle cx="414" cy="320" r="2.1" fill="none" stroke="#f27a4b" stroke-width="1"/>
<circle cx="413.5" cy="322.62" r="2.1" fill="none" stroke="#f27a4b" stroke-width="1"/>
<circle cx="412" cy="325.25" r="2.1" fill="none" stroke="#f27a4b" stroke-width="1"/>
<circle cx="409.5" cy="327.88" r="2.1" fill="none" stroke="#f27a4b" stroke-width="1"/>
<circle cx="406" cy="330.5" r="2.1" fill="none" stroke="#f27a4b" stroke-width="1"/>
<circle cx="270" cy="271" r="2.1" fill="none" stroke="#f27a4b" stroke-width="1"/>
<circle cx="269.67" cy="274.67" r="2.1" fill="none" stroke="#f27a4b" stroke-width="1"/>
<circle cx="268.67" cy="278.33" r="2.1" fill="none" stroke="#f27a4b" stroke-width="1"/>
<circle cx="267" cy="282" r="2.1" fill="none" stroke="#f27a4b" stroke-width="1"/>
<circle cx="299" cy="283" r="2.1" fill="none" stroke="#f27a4b" stroke-width="1"/>
<circle cx="298.67" cy="286.67" r="2.1" fill="none" stroke="#f27a4b" stroke-width="1"/>
<circle cx="297.67" cy="290.33" r="2.1" fill="none" stroke="#f27a4b" stroke-width="1"/>
<circle cx="296" cy="294" r="2.1" fill="none" stroke="#f27a4b" stroke-width="1"/>
<path d="M205 244.5 L206.73 245.32 L209.19 246.47 L212.05 247.89 L215 249.5 L217.83 251.39 L220.75 253.56 L224.05 255.83 L228 258 L233.38 260.22 L239.81 262.53 L245.84 264.57 L254.81 267.62 L260.31 269.45 L265.74 271.27 L270.75 272.98 L275 274.5 L278.08 275.74 L280.19 276.75 L281.88 277.66 L283.7 278.58 L286.23 279.64 L290 280.96 L294.99 282.52 L300.74 284.21 L307.19 285.91 L314.26 287.71 L321.89 289.61 L330 291.6 L339.19 293.78 L349.63 296.17 L360.62 298.66 L371.48 301.13 L381.5 303.49 L390 305.6 L396.79 307.43 L402.41 309.06 L407.19 310.57 L411.48 312.03 L415.64 313.51 L420 315.1 L424.57 316.83 L429.07 318.64 L433.44 320.48 L437.59 322.29 L441.47 324.01 L445 325.6 L448.14 327.02 L450.93 328.32 L453.44 329.54 L455.73 330.71 L457.87 331.88 L459.92 333.1 L461.86 334.32 L463.63 335.51 L465.25 336.69 L466.76 337.91 L468.17 339.21 L469.51 340.6 L470.77 342.1 L471.91 343.67 L472.96 345.32 L473.93 347.03 L474.83 348.79 L475.67 350.6 L476.46 352.47 L477.18 354.41 L477.82 356.41 L478.4 358.45 L478.91 360.52 L479.36 362.6 L479.73 364.86 L480.02 367.34 L480.24 369.85 L480.41 372.19 L480.53 374.17 L480.63 375.6" fill="none" stroke="#f27a4b" stroke-width="1" />
<circle cx="238.6" cy="257.82" r="1.7" fill="#1f86d2"/>
<circle cx="242.56" cy="259.51" r="1.7" fill="#1f86d2"/>
<circle cx="246.53" cy="261.15" r="1.7" fill="#1f86d2"/>
<circle cx="250.51" cy="262.77" r="1.7" fill="#1f86d2"/>
<circle cx="254.51" cy="264.35" r="1.7" fill="#1f86d2"/>
<circle cx="258.51" cy="265.92" r="1.7" fill="#1f86d2"/>
<circle cx="262.51" cy="267.5" r="1.7" fill="#1f86d2"/>
<circle cx="266.51" cy="269.08" r="1.7" fill="#1f86d2"/>
<circle cx="280.6" cy="270.24" r="1.7" fill="#1f86d2"/>
<circle cx="284.24" cy="272.53" r="1.7" fill="#1f86d2"/>
<circle cx="288.04" cy="274.53" r="1.7" fill="#1f86d2"/>
<circle cx="291.95" cy="276.32" r="1.7" fill="#1f86d2"/>
<circle cx="295.91" cy="278.01" r="1.7" fill="#1f86d2"/>
<circle cx="299.88" cy="279.67" r="1.7" fill="#1f86d2"/>
<circle cx="303.86" cy="281.3" r="1.7" fill="#1f86d2"/>
<circle cx="307.84" cy="282.91" r="1.7" fill="#1f86d2"/>
<circle cx="330.6" cy="284.2" r="1.7" fill="#1f86d2"/>
<circle cx="334.59" cy="285.81" r="1.7" fill="#1f86d2"/>
<circle cx="338.58" cy="287.42" r="1.7" fill="#1f86d2"/>
<circle cx="342.57" cy="289.01" r="1.7" fill="#1f86d2"/>
<circle cx="346.57" cy="290.59" r="1.7" fill="#1f86d2"/>
<circle cx="350.57" cy="292.17" r="1.7" fill="#1f86d2"/>
<circle cx="354.57" cy="293.74" r="1.7" fill="#1f86d2"/>
<circle cx="358.57" cy="295.32" r="1.7" fill="#1f86d2"/>
<circle cx="362.6" cy="292.57" r="1.7" fill="#1f86d2"/>
<circle cx="366.63" cy="294.07" r="1.7" fill="#1f86d2"/>
<circle cx="370.66" cy="295.56" r="1.7" fill="#1f86d2"/>
<circle cx="374.69" cy="297.07" r="1.7" fill="#1f86d2"/>
<circle cx="378.71" cy="298.59" r="1.7" fill="#1f86d2"/>
<circle cx="382.73" cy="300.12" r="1.7" fill="#1f86d2"/>
<circle cx="386.74" cy="301.69" r="1.7" fill="#1f86d2"/>
<circle cx="392.6" cy="299.74" r="1.7" fill="#1f86d2"/>
<circle cx="396.59" cy="301.34" r="1.7" fill="#1f86d2"/>
<circle cx="400.56" cy="303" r="1.7" fill="#1f86d2"/>
<circle cx="404.5" cy="304.71" r="1.7" fill="#1f86d2"/>
<circle cx="408.42" cy="306.49" r="1.7" fill="#1f86d2"/>
<circle cx="412.3" cy="308.33" r="1.7" fill="#1f86d2"/>
<circle cx="416.16" cy="310.23" r="1.7" fill="#1f86d2"/>
<circle cx="420.01" cy="312.15" r="1.7" fill="#1f86d2"/>
<circle cx="424.6" cy="310.71" r="1.7" fill="#1f86d2"/>
<circle cx="428.4" cy="312.73" r="1.7" fill="#1f86d2"/>
<circle cx="432.16" cy="314.8" r="1.7" fill="#1f86d2"/>
<circle cx="435.91" cy="316.91" r="1.7" fill="#1f86d2"/>
<circle cx="439.64" cy="319.05" r="1.7" fill="#1f86d2"/>
<circle cx="443.36" cy="321.21" r="1.7" fill="#1f86d2"/>
<circle cx="447.07" cy="323.39" r="1.7" fill="#1f86d2"/>
<circle cx="452.6" cy="318.2" r="1.7" fill="#1f86d2"/>
<circle cx="456.59" cy="319.8" r="1.7" fill="#1f86d2"/>
<circle cx="460.58" cy="321.41" r="1.7" fill="#1f86d2"/>
<circle cx="464.51" cy="323.16" r="1.7" fill="#1f86d2"/>
<circle cx="468.31" cy="325.15" r="1.7" fill="#1f86d2"/>
<circle cx="471.98" cy="327.4" r="1.7" fill="#1f86d2"/>
<circle cx="475.52" cy="329.84" r="1.7" fill="#1f86d2"/>
<circle cx="478.92" cy="332.46" r="1.7" fill="#1f86d2"/>
<circle cx="482.21" cy="335.23" r="1.7" fill="#1f86d2"/>
<circle cx="485.28" cy="338.25" r="1.7" fill="#1f86d2"/>
<circle cx="487.88" cy="341.66" r="1.7" fill="#1f86d2"/>
<circle cx="489.86" cy="345.48" r="1.7" fill="#1f86d2"/>
<circle cx="491.39" cy="349.49" r="1.7" fill="#1f86d2"/>
<circle cx="492.71" cy="353.58" r="1.7" fill="#1f86d2"/>
<circle cx="493.7" cy="357.77" r="1.7" fill="#1f86d2"/>
<circle cx="494.4" cy="362.01" r="1.7" fill="#1f86d2"/>
<path d="M172.7 244 L177.73 244.45 L184.97 245.07 L192.91 245.87 L200 246.8 L205.85 247.82 L211.27 248.95 L216.55 250.31 L222 252 L228.22 254.4 L234.88 257.32 L240.84 260.09 L245 262 L249.59 263.42 L254.81 264.99 L260.31 266.62 L265.74 268.24 L270.75 269.78 L275 271.14 L278.08 272.27 L280.19 273.2 L281.88 274.05 L283.7 274.91 L286.23 275.88 L290 277.06 L294.99 278.44 L300.74 280.01 L307.19 281.71 L314.26 283.51 L321.89 285.41 L330 287.4 L339.19 289.58 L349.63 291.97 L360.62 294.46 L371.48 296.93 L381.5 299.29 L390 301.4 L396.79 303.23 L402.41 304.86 L407.19 306.37 L411.48 307.83 L415.64 309.31 L420 310.9 L424.57 312.63 L429.07 314.44 L433.44 316.27 L437.59 318.09 L441.47 319.81 L445 321.4 L448.14 322.82 L450.93 324.12 L453.44 325.34 L455.74 326.51 L457.91 327.68 L460 328.9 L461.99 330.12 L463.83 331.31 L465.54 332.49 L467.15 333.71 L468.68 335.01 L470.17 336.4 L471.6 337.9 L472.94 339.47 L474.21 341.12 L475.41 342.83 L476.58 344.59 L477.71 346.4 L478.8 348.27 L479.86 350.21 L480.86 352.21 L481.83 354.25 L482.74 356.32 L483.61 358.4 L484.46 360.66 L485.29 363.14 L486.08 365.65 L486.79 367.99 L487.39 369.97 L487.83 371.4" fill="none" stroke="#1f86d2" stroke-width="1" />
<circle cx="245" cy="265.5" r="2.1" fill="none" stroke="#333333" stroke-width="1"/>
<circle cx="249.2" cy="266.85" r="2.1" fill="none" stroke="#333333" stroke-width="1"/>
<circle cx="253.4" cy="268.17" r="2.1" fill="none" stroke="#333333" stroke-width="1"/>
<circle cx="257.6" cy="269.47" r="2.1" fill="none" stroke="#333333" stroke-width="1"/>
<circle cx="261.8" cy="270.77" r="2.1" fill="none" stroke="#333333" stroke-width="1"/>
<circle cx="266" cy="272.07" r="2.1" fill="none" stroke="#333333" stroke-width="1"/>
<circle cx="270.2" cy="273.41" r="2.1" fill="none" stroke="#333333" stroke-width="1"/>
<circle cx="274.4" cy="274.8" r="2.1" fill="none" stroke="#333333" stroke-width="1"/>
<circle cx="278.6" cy="276.4" r="2.1" fill="none" stroke="#333333" stroke-width="1"/>
<circle cx="282.8" cy="278.44" r="2.1" fill="none" stroke="#333333" stroke-width="1"/>
<circle cx="287" cy="280.13" r="2.1" fill="none" stroke="#333333" stroke-width="1"/>
<circle cx="291.2" cy="281.45" r="2.1" fill="none" stroke="#333333" stroke-width="1"/>
<circle cx="295.4" cy="282.66" r="2.1" fill="none" stroke="#333333" stroke-width="1"/>
<circle cx="299.6" cy="283.8" r="2.1" fill="none" stroke="#333333" stroke-width="1"/>
<circle cx="303.8" cy="284.92" r="2.1" fill="none" stroke="#333333" stroke-width="1"/>
<circle cx="308" cy="286.01" r="2.1" fill="none" stroke="#333333" stroke-width="1"/>
<circle cx="312.2" cy="287.08" r="2.1" fill="none" stroke="#333333" stroke-width="1"/>
<circle cx="316.4" cy="288.14" r="2.1" fill="none" stroke="#333333" stroke-width="1"/>
<circle cx="320.6" cy="289.19" r="2.1" fill="none" stroke="#333333" stroke-width="1"/>
<circle cx="324.8" cy="290.22" r="2.1" fill="none" stroke="#333333" stroke-width="1"/>
<circle cx="329" cy="291.25" r="2.1" fill="none" stroke="#333333" stroke-width="1"/>
<circle cx="333.2" cy="292.26" r="2.1" fill="none" stroke="#333333" stroke-width="1"/>
<circle cx="337.4" cy="293.25" r="2.1" fill="none" stroke="#333333" stroke-width="1"/>
<circle cx="341.6" cy="294.23" r="2.1" fill="none" stroke="#333333" stroke-width="1"/>
<circle cx="345.8" cy="295.19" r="2.1" fill="none" stroke="#333333" stroke-width="1"/>
<circle cx="350" cy="296.15" r="2.1" fill="none" stroke="#333333" stroke-width="1"/>
<circle cx="354.2" cy="297.1" r="2.1" fill="none" stroke="#333333" stroke-width="1"/>
<circle cx="358.4" cy="298.05" r="2.1" fill="none" stroke="#333333" stroke-width="1"/>
<circle cx="362.6" cy="299.01" r="2.1" fill="none" stroke="#333333" stroke-width="1"/>
<circle cx="366.8" cy="299.97" r="2.1" fill="none" stroke="#333333" stroke-width="1"/>
<circle cx="371" cy="300.92" r="2.1" fill="none" stroke="#333333" stroke-width="1"/>
<circle cx="375.2" cy="301.91" r="2.1" fill="none" stroke="#333333" stroke-width="1"/>
<circle cx="379.4" cy="302.89" r="2.1" fill="none" stroke="#333333" stroke-width="1"/>
<circle cx="383.6" cy="303.91" r="2.1" fill="none" stroke="#333333" stroke-width="1"/>
<circle cx="387.8" cy="304.95" r="2.1" fill="none" stroke="#333333" stroke-width="1"/>
<circle cx="392" cy="306.04" r="2.1" fill="none" stroke="#333333" stroke-width="1"/>
<circle cx="396.2" cy="307.17" r="2.1" fill="none" stroke="#333333" stroke-width="1"/>
<circle cx="400.4" cy="308.38" r="2.1" fill="none" stroke="#333333" stroke-width="1"/>
<circle cx="404.6" cy="309.65" r="2.1" fill="none" stroke="#333333" stroke-width="1"/>
<circle cx="408.8" cy="311.02" r="2.1" fill="none" stroke="#333333" stroke-width="1"/>
<circle cx="413" cy="312.47" r="2.1" fill="none" stroke="#333333" stroke-width="1"/>
<circle cx="417.2" cy="313.98" r="2.1" fill="none" stroke="#333333" stroke-width="1"/>
<circle cx="421.4" cy="315.53" r="2.1" fill="none" stroke="#333333" stroke-width="1"/>
<circle cx="425.6" cy="317.14" r="2.1" fill="none" stroke="#333333" stroke-width="1"/>
<circle cx="429.8" cy="318.84" r="2.1" fill="none" stroke="#333333" stroke-width="1"/>
<circle cx="434" cy="320.62" r="2.1" fill="none" stroke="#333333" stroke-width="1"/>
<circle cx="438.2" cy="322.46" r="2.1" fill="none" stroke="#333333" stroke-width="1"/>
<circle cx="456" cy="323" r="2.1" fill="none" stroke="#333333" stroke-width="1"/>
<circle cx="458.64" cy="324.42" r="2.1" fill="none" stroke="#333333" stroke-width="1"/>
<circle cx="461.29" cy="325.83" r="2.1" fill="none" stroke="#333333" stroke-width="1"/>
<circle cx="463.93" cy="327.26" r="2.1" fill="none" stroke="#333333" stroke-width="1"/>
<circle cx="466.53" cy="328.76" r="2.1" fill="none" stroke="#333333" stroke-width="1"/>
<circle cx="469.06" cy="330.36" r="2.1" fill="none" stroke="#333333" stroke-width="1"/>
<circle cx="471.5" cy="332.11" r="2.1" fill="none" stroke="#333333" stroke-width="1"/>
<circle cx="473.85" cy="333.97" r="2.1" fill="none" stroke="#333333" stroke-width="1"/>
<circle cx="476.13" cy="335.93" r="2.1" fill="none" stroke="#333333" stroke-width="1"/>
<circle cx="478.29" cy="338" r="2.1" fill="none" stroke="#333333" stroke-width="1"/>
<circle cx="480.32" cy="340.21" r="2.1" fill="none" stroke="#333333" stroke-width="1"/>
<circle cx="482.2" cy="342.55" r="2.1" fill="none" stroke="#333333" stroke-width="1"/>
<circle cx="483.9" cy="345.02" r="2.1" fill="none" stroke="#333333" stroke-width="1"/>
<circle cx="485.43" cy="347.6" r="2.1" fill="none" stroke="#333333" stroke-width="1"/>
<circle cx="486.8" cy="350.26" r="2.1" fill="none" stroke="#333333" stroke-width="1"/>
<circle cx="488" cy="353.01" r="2.1" fill="none" stroke="#333333" stroke-width="1"/>
<circle cx="488.89" cy="355.88" r="2.1" fill="none" stroke="#333333" stroke-width="1"/>
<circle cx="489.52" cy="358.81" r="2.1" fill="none" stroke="#333333" stroke-width="1"/>
<circle cx="490" cy="361.77" r="2.1" fill="none" stroke="#333333" stroke-width="1"/>
<circle cx="490.45" cy="364.74" r="2.1" fill="none" stroke="#333333" stroke-width="1"/>
<circle cx="313" cy="289.5" r="2.1" fill="none" stroke="#333333" stroke-width="1"/>
<circle cx="312.67" cy="292.5" r="2.1" fill="none" stroke="#333333" stroke-width="1"/>
<circle cx="311.67" cy="295.5" r="2.1" fill="none" stroke="#333333" stroke-width="1"/>
<circle cx="310" cy="298.5" r="2.1" fill="none" stroke="#333333" stroke-width="1"/>
<circle cx="366" cy="304" r="2.1" fill="none" stroke="#333333" stroke-width="1"/>
<circle cx="365.69" cy="306.75" r="2.1" fill="none" stroke="#333333" stroke-width="1"/>
<circle cx="364.75" cy="309.5" r="2.1" fill="none" stroke="#333333" stroke-width="1"/>
<circle cx="363.19" cy="312.25" r="2.1" fill="none" stroke="#333333" stroke-width="1"/>
<circle cx="361" cy="315" r="2.1" fill="none" stroke="#333333" stroke-width="1"/>
<circle cx="412" cy="316" r="2.1" fill="none" stroke="#333333" stroke-width="1"/>
<circle cx="411.6" cy="318.7" r="2.1" fill="none" stroke="#333333" stroke-width="1"/>
<circle cx="410.4" cy="321.4" r="2.1" fill="none" stroke="#333333" stroke-width="1"/>
<circle cx="408.4" cy="324.1" r="2.1" fill="none" stroke="#333333" stroke-width="1"/>
<circle cx="405.6" cy="326.8" r="2.1" fill="none" stroke="#333333" stroke-width="1"/>
<circle cx="402" cy="329.5" r="2.1" fill="none" stroke="#333333" stroke-width="1"/>
<circle cx="249" cy="270" r="2.1" fill="none" stroke="#333333" stroke-width="1"/>
<circle cx="248.5" cy="271.5" r="2.1" fill="none" stroke="#333333" stroke-width="1"/>
<circle cx="247" cy="273" r="2.1" fill="none" stroke="#333333" stroke-width="1"/>
<circle cx="280" cy="279" r="2.1" fill="none" stroke="#333333" stroke-width="1"/>
<circle cx="279.5" cy="281.5" r="2.1" fill="none" stroke="#333333" stroke-width="1"/>
<circle cx="278" cy="284" r="2.1" fill="none" stroke="#333333" stroke-width="1"/>
<circle cx="424.7" cy="342" r="2.1" fill="none" stroke="#333333" stroke-width="1"/>
<circle cx="428.5" cy="340.5" r="2.1" fill="none" stroke="#333333" stroke-width="1"/>
<circle cx="432" cy="339" r="2.1" fill="none" stroke="#333333" stroke-width="1"/>
<circle cx="437.3" cy="336" r="2.1" fill="none" stroke="#333333" stroke-width="1"/>
<circle cx="441.5" cy="332.6" r="2.1" fill="none" stroke="#333333" stroke-width="1"/>
<path d="M224 247.5 L226.11 248.84 L229.12 250.75 L232.58 252.91 L236 255 L239.41 257.04 L243 259.16 L246.59 261.2 L250 263 L253.42 264.58 L256.88 266 L259.89 267.17 L265.74 269.29 L270.75 271.06 L275 272.62 L278.08 273.89 L280.19 274.92 L281.88 275.85 L283.7 276.79 L286.23 277.88 L290 279.24 L294.99 280.85 L300.74 282.63 L307.19 284.54 L314.26 286.51 L321.89 288.41 L330 290.4 L339.19 292.58 L349.63 294.97 L360.62 297.46 L371.48 299.93 L381.5 302.29 L390 304.4 L396.79 306.23 L402.41 307.86 L407.19 309.37 L411.48 310.83 L415.64 312.31 L420 313.9 L424.57 315.63 L429.07 317.44 L433.44 319.27 L437.59 321.09 L441.47 322.81 L445 324.4 L448.14 325.82 L450.93 327.12 L453.44 328.34 L455.74 329.51 L457.9 330.68 L459.98 331.9 L461.94 333.12 L463.74 334.31 L465.39 335.49 L466.92 336.71 L468.36 338.01 L469.74 339.4 L471.04 340.9 L472.24 342.47 L473.34 344.12 L474.37 345.83 L475.33 347.59 L476.24 349.4 L477.1 351.27 L477.9 353.21 L478.63 355.21 L479.29 357.25 L479.9 359.32 L480.44 361.4 L480.92 363.66 L481.33 366.14 L481.68 368.65 L481.97 370.99 L482.2 372.97 L482.38 374.4" fill="none" stroke="#333333" stroke-width="1" />
<circle cx="235" cy="262.57" r="1.6" fill="#f7b431"/>
<circle cx="238.8" cy="263.89" r="1.6" fill="#f7b431"/>
<circle cx="242.6" cy="265.18" r="1.6" fill="#f7b431"/>
<circle cx="246.4" cy="266.42" r="1.6" fill="#f7b431"/>
<circle cx="250.2" cy="267.63" r="1.6" fill="#f7b431"/>
<circle cx="254" cy="268.81" r="1.6" fill="#f7b431"/>
<circle cx="257.8" cy="269.98" r="1.6" fill="#f7b431"/>
<circle cx="261.6" cy="271.14" r="1.6" fill="#f7b431"/>
<circle cx="265.4" cy="272.31" r="1.6" fill="#f7b431"/>
<circle cx="269.2" cy="273.51" r="1.6" fill="#f7b431"/>
<circle cx="273" cy="274.74" r="1.6" fill="#f7b431"/>
<circle cx="276.8" cy="276.08" r="1.6" fill="#f7b431"/>
<circle cx="280.6" cy="277.73" r="1.6" fill="#f7b431"/>
<circle cx="284.4" cy="279.53" r="1.6" fill="#f7b431"/>
<circle cx="288.2" cy="280.89" r="1.6" fill="#f7b431"/>
<circle cx="292" cy="282.04" r="1.6" fill="#f7b431"/>
<circle cx="295.8" cy="283.12" r="1.6" fill="#f7b431"/>
<circle cx="299.6" cy="284.15" r="1.6" fill="#f7b431"/>
<circle cx="303.4" cy="285.15" r="1.6" fill="#f7b431"/>
<circle cx="307.2" cy="286.14" r="1.6" fill="#f7b431"/>
<circle cx="311" cy="287.1" r="1.6" fill="#f7b431"/>
<circle cx="314.8" cy="288.05" r="1.6" fill="#f7b431"/>
<circle cx="318.6" cy="288.99" r="1.6" fill="#f7b431"/>
<circle cx="322.4" cy="289.93" r="1.6" fill="#f7b431"/>
<circle cx="326.2" cy="290.85" r="1.6" fill="#f7b431"/>
<circle cx="330" cy="291.77" r="1.6" fill="#f7b431"/>
<circle cx="333.8" cy="292.66" r="1.6" fill="#f7b431"/>
<circle cx="337.6" cy="293.56" r="1.6" fill="#f7b431"/>
<circle cx="341.4" cy="294.43" r="1.6" fill="#f7b431"/>
<circle cx="345.2" cy="295.29" r="1.6" fill="#f7b431"/>
<circle cx="349" cy="296.15" r="1.6" fill="#f7b431"/>
<circle cx="352.8" cy="297" r="1.6" fill="#f7b431"/>
<circle cx="356.6" cy="297.86" r="1.6" fill="#f7b431"/>
<circle cx="360.4" cy="298.71" r="1.6" fill="#f7b431"/>
<circle cx="364.2" cy="299.56" r="1.6" fill="#f7b431"/>
<circle cx="368" cy="300.42" r="1.6" fill="#f7b431"/>
<circle cx="371.8" cy="301.28" r="1.6" fill="#f7b431"/>
<circle cx="375.6" cy="302.17" r="1.6" fill="#f7b431"/>
<circle cx="379.4" cy="303.05" r="1.6" fill="#f7b431"/>
<circle cx="383.2" cy="303.95" r="1.6" fill="#f7b431"/>
<circle cx="387" cy="304.89" r="1.6" fill="#f7b431"/>
<circle cx="390.8" cy="305.84" r="1.6" fill="#f7b431"/>
<circle cx="394.6" cy="306.86" r="1.6" fill="#f7b431"/>
<circle cx="398.4" cy="307.91" r="1.6" fill="#f7b431"/>
<circle cx="402.2" cy="309" r="1.6" fill="#f7b431"/>
<circle cx="406" cy="310.19" r="1.6" fill="#f7b431"/>
<circle cx="409.8" cy="311.44" r="1.6" fill="#f7b431"/>
<circle cx="413.6" cy="312.76" r="1.6" fill="#f7b431"/>
<circle cx="417.4" cy="314.12" r="1.6" fill="#f7b431"/>
<circle cx="421.2" cy="315.51" r="1.6" fill="#f7b431"/>
<circle cx="425" cy="316.95" r="1.6" fill="#f7b431"/>
<circle cx="428.8" cy="318.47" r="1.6" fill="#f7b431"/>
<circle cx="432.6" cy="320.05" r="1.6" fill="#f7b431"/>
<circle cx="436.4" cy="321.69" r="1.6" fill="#f7b431"/>
<circle cx="440.2" cy="323.36" r="1.6" fill="#f7b431"/>
<circle cx="444" cy="325.05" r="1.6" fill="#f7b431"/>
<circle cx="456.5" cy="322.5" r="1.6" fill="#f7b431"/>
<circle cx="459.14" cy="323.92" r="1.6" fill="#f7b431"/>
<circle cx="461.79" cy="325.33" r="1.6" fill="#f7b431"/>
<circle cx="464.43" cy="326.76" r="1.6" fill="#f7b431"/>
<circle cx="467.03" cy="328.26" r="1.6" fill="#f7b431"/>
<circle cx="469.56" cy="329.86" r="1.6" fill="#f7b431"/>
<circle cx="472" cy="331.61" r="1.6" fill="#f7b431"/>
<circle cx="474.35" cy="333.47" r="1.6" fill="#f7b431"/>
<circle cx="476.63" cy="335.43" r="1.6" fill="#f7b431"/>
<circle cx="478.79" cy="337.5" r="1.6" fill="#f7b431"/>
<circle cx="480.82" cy="339.71" r="1.6" fill="#f7b431"/>
<circle cx="482.7" cy="342.05" r="1.6" fill="#f7b431"/>
<circle cx="484.4" cy="344.52" r="1.6" fill="#f7b431"/>
<circle cx="485.93" cy="347.1" r="1.6" fill="#f7b431"/>
<circle cx="487.3" cy="349.76" r="1.6" fill="#f7b431"/>
<circle cx="488.5" cy="352.51" r="1.6" fill="#f7b431"/>
<circle cx="489.39" cy="355.38" r="1.6" fill="#f7b431"/>
<circle cx="490.02" cy="358.31" r="1.6" fill="#f7b431"/>
<circle cx="490.5" cy="361.27" r="1.6" fill="#f7b431"/>
<circle cx="490.95" cy="364.24" r="1.6" fill="#f7b431"/>
<circle cx="310" cy="288.6" r="1.6" fill="#f7b431"/>
<circle cx="309.5" cy="292.6" r="1.6" fill="#f7b431"/>
<circle cx="308" cy="296.6" r="1.6" fill="#f7b431"/>
<circle cx="372" cy="306" r="1.6" fill="#f7b431"/>
<circle cx="371" cy="310" r="1.6" fill="#f7b431"/>
<circle cx="368" cy="314" r="1.6" fill="#f7b431"/>
<circle cx="425.8" cy="320" r="1.6" fill="#f7b431"/>
<circle cx="425.36" cy="322.83" r="1.6" fill="#f7b431"/>
<circle cx="424.02" cy="325.67" r="1.6" fill="#f7b431"/>
<circle cx="421.8" cy="328.5" r="1.6" fill="#f7b431"/>
<circle cx="276" cy="278" r="1.6" fill="#f7b431"/>
<circle cx="275.25" cy="281" r="1.6" fill="#f7b431"/>
<circle cx="273" cy="284" r="1.6" fill="#f7b431"/>
<path d="M226 249 L228.11 250.23 L231.12 252 L234.58 254.02 L238 256 L241.41 257.99 L245 260.09 L248.59 262.15 L252 264 L255.42 265.68 L258.88 267.25 L261.89 268.57 L265.74 270.09 L270.75 271.83 L275 273.37 L278.08 274.62 L280.19 275.64 L281.88 276.56 L283.7 277.49 L286.23 278.57 L290 279.9 L294.99 281.49 L300.74 283.23 L307.19 285.11 L314.26 287.11 L321.89 289.01 L330 291 L339.19 293.18 L349.63 295.57 L360.62 298.06 L371.48 300.53 L381.5 302.89 L390 305 L396.79 306.83 L402.41 308.46 L407.19 309.97 L411.48 311.43 L415.64 312.91 L420 314.5 L424.57 316.23 L429.07 318.04 L433.44 319.88 L437.59 321.69 L441.47 323.41 L445 325 L448.14 326.42 L450.93 327.72 L453.44 328.94 L455.74 330.11 L457.89 331.28 L459.97 332.5 L461.94 333.72 L463.74 334.91 L465.39 336.09 L466.93 337.31 L468.39 338.61 L469.78 340 L471.09 341.5 L472.29 343.07 L473.41 344.72 L474.45 346.43 L475.43 348.19 L476.37 350 L477.25 351.87 L478.06 353.81 L478.82 355.81 L479.51 357.85 L480.14 359.92 L480.72 362 L481.23 364.26 L481.68 366.74 L482.07 369.25 L482.39 371.59 L482.66 373.57 L482.86 375" fill="none" stroke="#f7b431" stroke-width="1" />
<circle cx="240" cy="263.11" r="2.1" fill="none" stroke="#78b240" stroke-width="1"/>
<circle cx="243.9" cy="264.43" r="2.1" fill="none" stroke="#78b240" stroke-width="1"/>
<circle cx="247.8" cy="265.71" r="2.1" fill="none" stroke="#78b240" stroke-width="1"/>
<circle cx="251.7" cy="266.95" r="2.1" fill="none" stroke="#78b240" stroke-width="1"/>
<circle cx="255.6" cy="268.16" r="2.1" fill="none" stroke="#78b240" stroke-width="1"/>
<circle cx="259.5" cy="269.37" r="2.1" fill="none" stroke="#78b240" stroke-width="1"/>
<circle cx="263.4" cy="270.59" r="2.1" fill="none" stroke="#78b240" stroke-width="1"/>
<circle cx="267.3" cy="271.81" r="2.1" fill="none" stroke="#78b240" stroke-width="1"/>
<circle cx="271.2" cy="273.06" r="2.1" fill="none" stroke="#78b240" stroke-width="1"/>
<circle cx="275.1" cy="274.37" r="2.1" fill="none" stroke="#78b240" stroke-width="1"/>
<circle cx="279" cy="275.92" r="2.1" fill="none" stroke="#78b240" stroke-width="1"/>
<circle cx="282.9" cy="277.83" r="2.1" fill="none" stroke="#78b240" stroke-width="1"/>
<circle cx="286.8" cy="279.4" r="2.1" fill="none" stroke="#78b240" stroke-width="1"/>
<circle cx="290.7" cy="280.65" r="2.1" fill="none" stroke="#78b240" stroke-width="1"/>
<circle cx="294.6" cy="281.78" r="2.1" fill="none" stroke="#78b240" stroke-width="1"/>
<circle cx="298.5" cy="282.86" r="2.1" fill="none" stroke="#78b240" stroke-width="1"/>
<circle cx="302.4" cy="283.91" r="2.1" fill="none" stroke="#78b240" stroke-width="1"/>
<circle cx="306.3" cy="284.94" r="2.1" fill="none" stroke="#78b240" stroke-width="1"/>
<circle cx="310.2" cy="285.94" r="2.1" fill="none" stroke="#78b240" stroke-width="1"/>
<circle cx="314.1" cy="286.94" r="2.1" fill="none" stroke="#78b240" stroke-width="1"/>
<circle cx="318" cy="287.91" r="2.1" fill="none" stroke="#78b240" stroke-width="1"/>
<circle cx="321.9" cy="288.89" r="2.1" fill="none" stroke="#78b240" stroke-width="1"/>
<circle cx="325.8" cy="289.85" r="2.1" fill="none" stroke="#78b240" stroke-width="1"/>
<circle cx="329.7" cy="290.81" r="2.1" fill="none" stroke="#78b240" stroke-width="1"/>
<circle cx="333.6" cy="291.74" r="2.1" fill="none" stroke="#78b240" stroke-width="1"/>
<circle cx="337.5" cy="292.67" r="2.1" fill="none" stroke="#78b240" stroke-width="1"/>
<circle cx="341.4" cy="293.58" r="2.1" fill="none" stroke="#78b240" stroke-width="1"/>
<circle cx="345.3" cy="294.48" r="2.1" fill="none" stroke="#78b240" stroke-width="1"/>
<circle cx="349.2" cy="295.37" r="2.1" fill="none" stroke="#78b240" stroke-width="1"/>
<circle cx="353.1" cy="296.26" r="2.1" fill="none" stroke="#78b240" stroke-width="1"/>
<circle cx="357" cy="297.15" r="2.1" fill="none" stroke="#78b240" stroke-width="1"/>
<circle cx="360.9" cy="298.03" r="2.1" fill="none" stroke="#78b240" stroke-width="1"/>
<circle cx="364.8" cy="298.93" r="2.1" fill="none" stroke="#78b240" stroke-width="1"/>
<circle cx="368.7" cy="299.82" r="2.1" fill="none" stroke="#78b240" stroke-width="1"/>
<circle cx="372.6" cy="300.72" r="2.1" fill="none" stroke="#78b240" stroke-width="1"/>
<circle cx="376.5" cy="301.64" r="2.1" fill="none" stroke="#78b240" stroke-width="1"/>
<circle cx="380.4" cy="302.56" r="2.1" fill="none" stroke="#78b240" stroke-width="1"/>
<circle cx="384.3" cy="303.52" r="2.1" fill="none" stroke="#78b240" stroke-width="1"/>
<circle cx="388.2" cy="304.49" r="2.1" fill="none" stroke="#78b240" stroke-width="1"/>
<circle cx="392.1" cy="305.51" r="2.1" fill="none" stroke="#78b240" stroke-width="1"/>
<circle cx="396" cy="306.57" r="2.1" fill="none" stroke="#78b240" stroke-width="1"/>
<circle cx="399.9" cy="307.69" r="2.1" fill="none" stroke="#78b240" stroke-width="1"/>
<circle cx="403.8" cy="308.86" r="2.1" fill="none" stroke="#78b240" stroke-width="1"/>
<circle cx="407.7" cy="310.1" r="2.1" fill="none" stroke="#78b240" stroke-width="1"/>
<circle cx="411.6" cy="311.43" r="2.1" fill="none" stroke="#78b240" stroke-width="1"/>
<circle cx="415.5" cy="312.83" r="2.1" fill="none" stroke="#78b240" stroke-width="1"/>
<circle cx="419.4" cy="314.25" r="2.1" fill="none" stroke="#78b240" stroke-width="1"/>
<circle cx="423.3" cy="315.72" r="2.1" fill="none" stroke="#78b240" stroke-width="1"/>
<circle cx="427.2" cy="317.26" r="2.1" fill="none" stroke="#78b240" stroke-width="1"/>
<circle cx="431.1" cy="318.87" r="2.1" fill="none" stroke="#78b240" stroke-width="1"/>
<circle cx="435" cy="320.54" r="2.1" fill="none" stroke="#78b240" stroke-width="1"/>
<circle cx="438.9" cy="322.26" r="2.1" fill="none" stroke="#78b240" stroke-width="1"/>
<circle cx="442.8" cy="324" r="2.1" fill="none" stroke="#78b240" stroke-width="1"/>
<circle cx="446.7" cy="325.77" r="2.1" fill="none" stroke="#78b240" stroke-width="1"/>
<circle cx="458" cy="322" r="2.1" fill="none" stroke="#78b240" stroke-width="1"/>
<circle cx="460.64" cy="323.42" r="2.1" fill="none" stroke="#78b240" stroke-width="1"/>
<circle cx="463.29" cy="324.83" r="2.1" fill="none" stroke="#78b240" stroke-width="1"/>
<circle cx="465.93" cy="326.26" r="2.1" fill="none" stroke="#78b240" stroke-width="1"/>
<circle cx="468.53" cy="327.76" r="2.1" fill="none" stroke="#78b240" stroke-width="1"/>
<circle cx="471.06" cy="329.36" r="2.1" fill="none" stroke="#78b240" stroke-width="1"/>
<circle cx="473.5" cy="331.11" r="2.1" fill="none" stroke="#78b240" stroke-width="1"/>
<circle cx="475.85" cy="332.97" r="2.1" fill="none" stroke="#78b240" stroke-width="1"/>
<circle cx="478.13" cy="334.93" r="2.1" fill="none" stroke="#78b240" stroke-width="1"/>
<circle cx="480.29" cy="337" r="2.1" fill="none" stroke="#78b240" stroke-width="1"/>
<circle cx="482.32" cy="339.21" r="2.1" fill="none" stroke="#78b240" stroke-width="1"/>
<circle cx="484.2" cy="341.55" r="2.1" fill="none" stroke="#78b240" stroke-width="1"/>
<circle cx="485.9" cy="344.02" r="2.1" fill="none" stroke="#78b240" stroke-width="1"/>
<circle cx="487.43" cy="346.6" r="2.1" fill="none" stroke="#78b240" stroke-width="1"/>
<circle cx="488.8" cy="349.26" r="2.1" fill="none" stroke="#78b240" stroke-width="1"/>
<circle cx="490" cy="352.01" r="2.1" fill="none" stroke="#78b240" stroke-width="1"/>
<circle cx="490.89" cy="354.88" r="2.1" fill="none" stroke="#78b240" stroke-width="1"/>
<circle cx="491.52" cy="357.81" r="2.1" fill="none" stroke="#78b240" stroke-width="1"/>
<circle cx="492" cy="360.77" r="2.1" fill="none" stroke="#78b240" stroke-width="1"/>
<circle cx="492.45" cy="363.74" r="2.1" fill="none" stroke="#78b240" stroke-width="1"/>
<circle cx="328" cy="292" r="2.1" fill="none" stroke="#78b240" stroke-width="1"/>
<circle cx="327.56" cy="294.83" r="2.1" fill="none" stroke="#78b240" stroke-width="1"/>
<circle cx="326.22" cy="297.67" r="2.1" fill="none" stroke="#78b240" stroke-width="1"/>
<circle cx="324" cy="300.5" r="2.1" fill="none" stroke="#78b240" stroke-width="1"/>
<circle cx="386" cy="311" r="2.1" fill="none" stroke="#78b240" stroke-width="1"/>
<circle cx="385.44" cy="313.67" r="2.1" fill="none" stroke="#78b240" stroke-width="1"/>
<circle cx="383.78" cy="316.33" r="2.1" fill="none" stroke="#78b240" stroke-width="1"/>
<circle cx="381" cy="319" r="2.1" fill="none" stroke="#78b240" stroke-width="1"/>
<path d="M227 248 L229.31 249.35 L232.62 251.28 L236.38 253.45 L240 255.5 L243.43 257.38 L246.94 259.25 L250.48 261.12 L254 263 L257.83 265.05 L261.88 267.22 L265.48 269.15 L270.75 271.38 L275 272.81 L278.08 273.98 L280.19 274.94 L281.88 275.81 L283.7 276.7 L286.23 277.7 L290 278.94 L294.99 280.39 L300.74 281.98 L307.19 283.68 L314.26 285.5 L321.89 287.41 L330 289.4 L339.19 291.58 L349.63 293.97 L360.62 296.46 L371.48 298.93 L381.5 301.29 L390 303.4 L396.79 305.23 L402.41 306.86 L407.19 308.37 L411.48 309.83 L415.64 311.31 L420 312.9 L424.57 314.63 L429.07 316.44 L433.44 318.27 L437.59 320.09 L441.47 321.81 L445 323.4 L448.14 324.82 L450.93 326.12 L453.44 327.34 L455.74 328.51 L457.91 329.68 L460 330.9 L461.98 332.12 L463.79 333.31 L465.47 334.49 L467.03 335.71 L468.5 337.01 L469.91 338.4 L471.25 339.9 L472.49 341.47 L473.64 343.12 L474.72 344.83 L475.74 346.59 L476.72 348.4 L477.65 350.27 L478.52 352.21 L479.33 354.21 L480.08 356.25 L480.77 358.32 L481.41 360.4 L481.99 362.66 L482.52 365.14 L482.99 367.65 L483.4 369.99 L483.73 371.97 L483.99 373.4" fill="none" stroke="#78b240" stroke-width="1" />
<circle cx="220" cy="257" r="1.9" fill="#ee2e2e"/>
<circle cx="222.98" cy="258.16" r="1.9" fill="#ee2e2e"/>
<circle cx="225.97" cy="259.31" r="1.9" fill="#ee2e2e"/>
<circle cx="228.95" cy="260.48" r="1.9" fill="#ee2e2e"/>
<circle cx="231.92" cy="261.66" r="1.9" fill="#ee2e2e"/>
<circle cx="234.88" cy="262.87" r="1.9" fill="#ee2e2e"/>
<circle cx="237.82" cy="264.14" r="1.9" fill="#ee2e2e"/>
<circle cx="240.74" cy="265.45" r="1.9" fill="#ee2e2e"/>
<circle cx="243.67" cy="266.74" r="1.9" fill="#ee2e2e"/>
<circle cx="246.63" cy="267.96" r="1.9" fill="#ee2e2e"/>
<circle cx="249.62" cy="269.08" r="1.9" fill="#ee2e2e"/>
<circle cx="252.66" cy="270.1" r="1.9" fill="#ee2e2e"/>
<circle cx="255.71" cy="271.07" r="1.9" fill="#ee2e2e"/>
<circle cx="258.77" cy="272.01" r="1.9" fill="#ee2e2e"/>
<circle cx="261.83" cy="272.95" r="1.9" fill="#ee2e2e"/>
<circle cx="222" cy="259.53" r="1.9" fill="#ee2e2e"/>
<circle cx="226.4" cy="261.1" r="1.9" fill="#ee2e2e"/>
<circle cx="230.8" cy="262.67" r="1.9" fill="#ee2e2e"/>
<circle cx="235.2" cy="264.24" r="1.9" fill="#ee2e2e"/>
<circle cx="239.6" cy="265.77" r="1.9" fill="#ee2e2e"/>
<circle cx="244" cy="267.26" r="1.9" fill="#ee2e2e"/>
<circle cx="248.4" cy="268.69" r="1.9" fill="#ee2e2e"/>
<circle cx="252.8" cy="270.08" r="1.9" fill="#ee2e2e"/>
<circle cx="257.2" cy="271.44" r="1.9" fill="#ee2e2e"/>
<circle cx="261.6" cy="272.81" r="1.9" fill="#ee2e2e"/>
<circle cx="266" cy="274.17" r="1.9" fill="#ee2e2e"/>
<circle cx="270.4" cy="275.57" r="1.9" fill="#ee2e2e"/>
<circle cx="274.8" cy="277.03" r="1.9" fill="#ee2e2e"/>
<circle cx="279.2" cy="278.78" r="1.9" fill="#ee2e2e"/>
<circle cx="283.6" cy="280.92" r="1.9" fill="#ee2e2e"/>
<circle cx="288" cy="282.55" r="1.9" fill="#ee2e2e"/>
<circle cx="292.4" cy="283.89" r="1.9" fill="#ee2e2e"/>
<circle cx="296.8" cy="285.14" r="1.9" fill="#ee2e2e"/>
<circle cx="301.2" cy="286.34" r="1.9" fill="#ee2e2e"/>
<circle cx="305.6" cy="287.49" r="1.9" fill="#ee2e2e"/>
<circle cx="310" cy="288.62" r="1.9" fill="#ee2e2e"/>
<circle cx="314.4" cy="289.74" r="1.9" fill="#ee2e2e"/>
<circle cx="318.8" cy="290.84" r="1.9" fill="#ee2e2e"/>
<circle cx="323.2" cy="291.93" r="1.9" fill="#ee2e2e"/>
<circle cx="327.6" cy="293.01" r="1.9" fill="#ee2e2e"/>
<circle cx="332" cy="294.07" r="1.9" fill="#ee2e2e"/>
<circle cx="336.4" cy="295.12" r="1.9" fill="#ee2e2e"/>
<circle cx="340.8" cy="296.15" r="1.9" fill="#ee2e2e"/>
<circle cx="345.2" cy="297.15" r="1.9" fill="#ee2e2e"/>
<circle cx="349.6" cy="298.16" r="1.9" fill="#ee2e2e"/>
<circle cx="354" cy="299.16" r="1.9" fill="#ee2e2e"/>
<circle cx="358.4" cy="300.15" r="1.9" fill="#ee2e2e"/>
<circle cx="362.8" cy="301.15" r="1.9" fill="#ee2e2e"/>
<circle cx="367.2" cy="302.16" r="1.9" fill="#ee2e2e"/>
<circle cx="371.6" cy="303.16" r="1.9" fill="#ee2e2e"/>
<circle cx="376" cy="304.19" r="1.9" fill="#ee2e2e"/>
<circle cx="380.4" cy="305.23" r="1.9" fill="#ee2e2e"/>
<circle cx="384.8" cy="306.31" r="1.9" fill="#ee2e2e"/>
<circle cx="389.2" cy="307.4" r="1.9" fill="#ee2e2e"/>
<circle cx="393.6" cy="308.57" r="1.9" fill="#ee2e2e"/>
<circle cx="398" cy="309.78" r="1.9" fill="#ee2e2e"/>
<circle cx="402.4" cy="311.06" r="1.9" fill="#ee2e2e"/>
<circle cx="406.8" cy="312.45" r="1.9" fill="#ee2e2e"/>
<circle cx="411.2" cy="313.93" r="1.9" fill="#ee2e2e"/>
<circle cx="415.6" cy="315.5" r="1.9" fill="#ee2e2e"/>
<circle cx="420" cy="317.1" r="1.9" fill="#ee2e2e"/>
<circle cx="424.4" cy="318.76" r="1.9" fill="#ee2e2e"/>
<circle cx="428.8" cy="320.53" r="1.9" fill="#ee2e2e"/>
<circle cx="433.2" cy="322.37" r="1.9" fill="#ee2e2e"/>
<circle cx="437.6" cy="324.29" r="1.9" fill="#ee2e2e"/>
<circle cx="442" cy="326.25" r="1.9" fill="#ee2e2e"/>
<circle cx="446.4" cy="328.24" r="1.9" fill="#ee2e2e"/>
<circle cx="450.8" cy="330.26" r="1.9" fill="#ee2e2e"/>
<circle cx="454" cy="324.5" r="1.6" fill="#ee2e2e"/>
<circle cx="456.64" cy="325.92" r="1.6" fill="#ee2e2e"/>
<circle cx="459.29" cy="327.33" r="1.6" fill="#ee2e2e"/>
<circle cx="461.93" cy="328.76" r="1.6" fill="#ee2e2e"/>
<circle cx="464.53" cy="330.26" r="1.6" fill="#ee2e2e"/>
<circle cx="467.06" cy="331.86" r="1.6" fill="#ee2e2e"/>
<circle cx="469.5" cy="333.61" r="1.6" fill="#ee2e2e"/>
<circle cx="471.85" cy="335.47" r="1.6" fill="#ee2e2e"/>
<circle cx="474.13" cy="337.43" r="1.6" fill="#ee2e2e"/>
<circle cx="476.29" cy="339.5" r="1.6" fill="#ee2e2e"/>
<circle cx="478.32" cy="341.71" r="1.6" fill="#ee2e2e"/>
<circle cx="480.2" cy="344.05" r="1.6" fill="#ee2e2e"/>
<circle cx="481.9" cy="346.52" r="1.6" fill="#ee2e2e"/>
<circle cx="483.43" cy="349.1" r="1.6" fill="#ee2e2e"/>
<circle cx="484.8" cy="351.76" r="1.6" fill="#ee2e2e"/>
<circle cx="486" cy="354.51" r="1.6" fill="#ee2e2e"/>
<circle cx="486.89" cy="357.38" r="1.6" fill="#ee2e2e"/>
<circle cx="487.52" cy="360.31" r="1.6" fill="#ee2e2e"/>
<circle cx="488" cy="363.27" r="1.6" fill="#ee2e2e"/>
<circle cx="488.45" cy="366.24" r="1.6" fill="#ee2e2e"/>
<circle cx="333" cy="291" r="1.6" fill="#ee2e2e"/>
<circle cx="332.33" cy="293.67" r="1.6" fill="#ee2e2e"/>
<circle cx="330.33" cy="296.33" r="1.6" fill="#ee2e2e"/>
<circle cx="327" cy="299" r="1.6" fill="#ee2e2e"/>
<circle cx="427" cy="326" r="1.6" fill="#ee2e2e"/>
<circle cx="426" cy="328.8" r="1.6" fill="#ee2e2e"/>
<circle cx="423" cy="331.6" r="1.6" fill="#ee2e2e"/>
<circle cx="264" cy="271" r="1.6" fill="#ee2e2e"/>
<circle cx="263.5" cy="274" r="1.6" fill="#ee2e2e"/>
<circle cx="262" cy="277" r="1.6" fill="#ee2e2e"/>
<circle cx="438.3" cy="343" r="1.6" fill="#ee2e2e"/>
<circle cx="445.7" cy="340" r="1.6" fill="#ee2e2e"/>
<circle cx="447.8" cy="336.8" r="1.6" fill="#ee2e2e"/>
<circle cx="476" cy="363" r="1.6" fill="#ee2e2e"/>
<path d="M214 244.5 L215.75 245.53 L218.25 247 L221.12 248.72 L224 250.5 L226.7 252.36 L229.44 254.38 L232.46 256.45 L236 258.5 L240.7 260.69 L246.25 263 L251.42 265.06 L260.31 268.21 L265.74 269.97 L270.75 271.63 L275 273.1 L278.08 274.31 L280.19 275.3 L281.88 276.19 L283.7 277.09 L286.23 278.12 L290 279.4 L294.99 280.91 L300.74 282.56 L307.19 284.31 L314.26 286.11 L321.89 288.01 L330 290 L339.19 292.18 L349.63 294.57 L360.62 297.06 L371.48 299.53 L381.5 301.89 L390 304 L396.79 305.83 L402.41 307.46 L407.19 308.97 L411.48 310.43 L415.64 311.91 L420 313.5 L424.57 315.23 L429.07 317.04 L433.44 318.88 L437.59 320.69 L441.47 322.41 L445 324 L448.14 325.42 L450.93 326.72 L453.44 327.94 L455.74 329.11 L457.9 330.28 L459.97 331.5 L461.91 332.72 L463.68 333.91 L465.3 335.09 L466.79 336.31 L468.19 337.61 L469.52 339 L470.76 340.5 L471.89 342.07 L472.91 343.72 L473.85 345.43 L474.72 347.19 L475.53 349 L476.28 350.87 L476.96 352.81 L477.56 354.81 L478.09 356.85 L478.55 358.92 L478.94 361 L479.25 363.26 L479.47 365.74 L479.62 368.25 L479.71 370.59 L479.77 372.57 L479.82 374" fill="none" stroke="#ee2e2e" stroke-width="1" />
<circle cx="238" cy="256.62" r="2.3" fill="none" stroke="#cf3050" stroke-width="1"/>
<circle cx="241.96" cy="258.31" r="2.3" fill="none" stroke="#cf3050" stroke-width="1"/>
<circle cx="245.93" cy="259.95" r="2.3" fill="none" stroke="#cf3050" stroke-width="1"/>
<circle cx="249.91" cy="261.57" r="2.3" fill="none" stroke="#cf3050" stroke-width="1"/>
<circle cx="253.91" cy="263.15" r="2.3" fill="none" stroke="#cf3050" stroke-width="1"/>
<circle cx="257.91" cy="264.72" r="2.3" fill="none" stroke="#cf3050" stroke-width="1"/>
<circle cx="261.91" cy="266.3" r="2.3" fill="none" stroke="#cf3050" stroke-width="1"/>
<circle cx="265.91" cy="267.88" r="2.3" fill="none" stroke="#cf3050" stroke-width="1"/>
<circle cx="280" cy="269.04" r="2.3" fill="none" stroke="#cf3050" stroke-width="1"/>
<circle cx="283.64" cy="271.33" r="2.3" fill="none" stroke="#cf3050" stroke-width="1"/>
<circle cx="287.44" cy="273.33" r="2.3" fill="none" stroke="#cf3050" stroke-width="1"/>
<circle cx="291.35" cy="275.12" r="2.3" fill="none" stroke="#cf3050" stroke-width="1"/>
<circle cx="295.31" cy="276.81" r="2.3" fill="none" stroke="#cf3050" stroke-width="1"/>
<circle cx="299.28" cy="278.47" r="2.3" fill="none" stroke="#cf3050" stroke-width="1"/>
<circle cx="303.26" cy="280.1" r="2.3" fill="none" stroke="#cf3050" stroke-width="1"/>
<circle cx="307.24" cy="281.71" r="2.3" fill="none" stroke="#cf3050" stroke-width="1"/>
<circle cx="330" cy="283" r="2.3" fill="none" stroke="#cf3050" stroke-width="1"/>
<circle cx="333.99" cy="284.61" r="2.3" fill="none" stroke="#cf3050" stroke-width="1"/>
<circle cx="337.98" cy="286.22" r="2.3" fill="none" stroke="#cf3050" stroke-width="1"/>
<circle cx="341.97" cy="287.81" r="2.3" fill="none" stroke="#cf3050" stroke-width="1"/>
<circle cx="345.97" cy="289.39" r="2.3" fill="none" stroke="#cf3050" stroke-width="1"/>
<circle cx="349.97" cy="290.97" r="2.3" fill="none" stroke="#cf3050" stroke-width="1"/>
<circle cx="353.97" cy="292.54" r="2.3" fill="none" stroke="#cf3050" stroke-width="1"/>
<circle cx="357.97" cy="294.12" r="2.3" fill="none" stroke="#cf3050" stroke-width="1"/>
<circle cx="362" cy="291.37" r="2.3" fill="none" stroke="#cf3050" stroke-width="1"/>
<circle cx="366.03" cy="292.87" r="2.3" fill="none" stroke="#cf3050" stroke-width="1"/>
<circle cx="370.06" cy="294.36" r="2.3" fill="none" stroke="#cf3050" stroke-width="1"/>
<circle cx="374.09" cy="295.87" r="2.3" fill="none" stroke="#cf3050" stroke-width="1"/>
<circle cx="378.11" cy="297.39" r="2.3" fill="none" stroke="#cf3050" stroke-width="1"/>
<circle cx="382.13" cy="298.92" r="2.3" fill="none" stroke="#cf3050" stroke-width="1"/>
<circle cx="386.14" cy="300.49" r="2.3" fill="none" stroke="#cf3050" stroke-width="1"/>
<circle cx="392" cy="298.54" r="2.3" fill="none" stroke="#cf3050" stroke-width="1"/>
<circle cx="395.99" cy="300.14" r="2.3" fill="none" stroke="#cf3050" stroke-width="1"/>
<circle cx="399.96" cy="301.8" r="2.3" fill="none" stroke="#cf3050" stroke-width="1"/>
<circle cx="403.9" cy="303.51" r="2.3" fill="none" stroke="#cf3050" stroke-width="1"/>
<circle cx="407.82" cy="305.29" r="2.3" fill="none" stroke="#cf3050" stroke-width="1"/>
<circle cx="411.7" cy="307.13" r="2.3" fill="none" stroke="#cf3050" stroke-width="1"/>
<circle cx="415.56" cy="309.03" r="2.3" fill="none" stroke="#cf3050" stroke-width="1"/>
<circle cx="419.41" cy="310.95" r="2.3" fill="none" stroke="#cf3050" stroke-width="1"/>
<circle cx="424" cy="309.51" r="2.3" fill="none" stroke="#cf3050" stroke-width="1"/>
<circle cx="427.8" cy="311.53" r="2.3" fill="none" stroke="#cf3050" stroke-width="1"/>
<circle cx="431.56" cy="313.6" r="2.3" fill="none" stroke="#cf3050" stroke-width="1"/>
<circle cx="435.31" cy="315.71" r="2.3" fill="none" stroke="#cf3050" stroke-width="1"/>
<circle cx="439.04" cy="317.85" r="2.3" fill="none" stroke="#cf3050" stroke-width="1"/>
<circle cx="442.76" cy="320.01" r="2.3" fill="none" stroke="#cf3050" stroke-width="1"/>
<circle cx="446.47" cy="322.19" r="2.3" fill="none" stroke="#cf3050" stroke-width="1"/>
<circle cx="452" cy="317" r="2.3" fill="none" stroke="#cf3050" stroke-width="1"/>
<circle cx="455.99" cy="318.6" r="2.3" fill="none" stroke="#cf3050" stroke-width="1"/>
<circle cx="459.98" cy="320.21" r="2.3" fill="none" stroke="#cf3050" stroke-width="1"/>
<circle cx="463.91" cy="321.96" r="2.3" fill="none" stroke="#cf3050" stroke-width="1"/>
<circle cx="467.71" cy="323.95" r="2.3" fill="none" stroke="#cf3050" stroke-width="1"/>
<circle cx="471.38" cy="326.2" r="2.3" fill="none" stroke="#cf3050" stroke-width="1"/>
<circle cx="474.92" cy="328.64" r="2.3" fill="none" stroke="#cf3050" stroke-width="1"/>
<circle cx="478.32" cy="331.26" r="2.3" fill="none" stroke="#cf3050" stroke-width="1"/>
<circle cx="481.61" cy="334.03" r="2.3" fill="none" stroke="#cf3050" stroke-width="1"/>
<circle cx="484.68" cy="337.05" r="2.3" fill="none" stroke="#cf3050" stroke-width="1"/>
<circle cx="487.28" cy="340.46" r="2.3" fill="none" stroke="#cf3050" stroke-width="1"/>
<circle cx="489.26" cy="344.28" r="2.3" fill="none" stroke="#cf3050" stroke-width="1"/>
<circle cx="490.79" cy="348.29" r="2.3" fill="none" stroke="#cf3050" stroke-width="1"/>
<circle cx="492.11" cy="352.38" r="2.3" fill="none" stroke="#cf3050" stroke-width="1"/>
<circle cx="493.1" cy="356.57" r="2.3" fill="none" stroke="#cf3050" stroke-width="1"/>
<circle cx="493.8" cy="360.81" r="2.3" fill="none" stroke="#cf3050" stroke-width="1"/>
<circle cx="455.5" cy="323.2" r="2.1" fill="none" stroke="#cf3050" stroke-width="1"/>
<circle cx="458.14" cy="324.62" r="2.1" fill="none" stroke="#cf3050" stroke-width="1"/>
<circle cx="460.79" cy="326.03" r="2.1" fill="none" stroke="#cf3050" stroke-width="1"/>
<circle cx="463.43" cy="327.46" r="2.1" fill="none" stroke="#cf3050" stroke-width="1"/>
<circle cx="466.03" cy="328.96" r="2.1" fill="none" stroke="#cf3050" stroke-width="1"/>
<circle cx="468.56" cy="330.56" r="2.1" fill="none" stroke="#cf3050" stroke-width="1"/>
<circle cx="471" cy="332.31" r="2.1" fill="none" stroke="#cf3050" stroke-width="1"/>
<circle cx="473.35" cy="334.17" r="2.1" fill="none" stroke="#cf3050" stroke-width="1"/>
<circle cx="475.63" cy="336.13" r="2.1" fill="none" stroke="#cf3050" stroke-width="1"/>
<circle cx="477.79" cy="338.2" r="2.1" fill="none" stroke="#cf3050" stroke-width="1"/>
<circle cx="479.82" cy="340.41" r="2.1" fill="none" stroke="#cf3050" stroke-width="1"/>
<circle cx="481.7" cy="342.75" r="2.1" fill="none" stroke="#cf3050" stroke-width="1"/>
<circle cx="483.4" cy="345.22" r="2.1" fill="none" stroke="#cf3050" stroke-width="1"/>
<circle cx="484.93" cy="347.8" r="2.1" fill="none" stroke="#cf3050" stroke-width="1"/>
<circle cx="486.3" cy="350.46" r="2.1" fill="none" stroke="#cf3050" stroke-width="1"/>
<circle cx="487.5" cy="353.21" r="2.1" fill="none" stroke="#cf3050" stroke-width="1"/>
<circle cx="488.39" cy="356.08" r="2.1" fill="none" stroke="#cf3050" stroke-width="1"/>
<circle cx="489.02" cy="359.01" r="2.1" fill="none" stroke="#cf3050" stroke-width="1"/>
<circle cx="489.5" cy="361.97" r="2.1" fill="none" stroke="#cf3050" stroke-width="1"/>
<circle cx="489.95" cy="364.94" r="2.1" fill="none" stroke="#cf3050" stroke-width="1"/>
<circle cx="354.5" cy="296" r="2.1" fill="none" stroke="#cf3050" stroke-width="1"/>
<circle cx="354.22" cy="299" r="2.1" fill="none" stroke="#cf3050" stroke-width="1"/>
<circle cx="353.39" cy="302" r="2.1" fill="none" stroke="#cf3050" stroke-width="1"/>
<circle cx="352" cy="305" r="2.1" fill="none" stroke="#cf3050" stroke-width="1"/>
<circle cx="397.5" cy="312" r="2.1" fill="none" stroke="#cf3050" stroke-width="1"/>
<circle cx="396.83" cy="314.67" r="2.1" fill="none" stroke="#cf3050" stroke-width="1"/>
<circle cx="394.83" cy="317.33" r="2.1" fill="none" stroke="#cf3050" stroke-width="1"/>
<circle cx="391.5" cy="320" r="2.1" fill="none" stroke="#cf3050" stroke-width="1"/>
<circle cx="272" cy="273" r="2.1" fill="none" stroke="#cf3050" stroke-width="1"/>
<circle cx="271.25" cy="276.5" r="2.1" fill="none" stroke="#cf3050" stroke-width="1"/>
<circle cx="269" cy="280" r="2.1" fill="none" stroke="#cf3050" stroke-width="1"/>
<path d="M218 246.5 L219.75 247.35 L222.25 248.56 L225.12 249.99 L228 251.5 L230.72 253.07 L233.5 254.78 L236.53 256.6 L240 258.5 L244.5 260.72 L249.75 263.19 L254.62 265.44 L260.31 267.68 L265.74 269.29 L270.75 270.81 L275 272.17 L278.08 273.29 L280.19 274.22 L281.88 275.06 L283.7 275.92 L286.23 276.88 L290 278.06 L294.99 279.43 L300.74 280.92 L307.19 282.52 L314.26 284.31 L321.89 286.21 L330 288.2 L339.19 290.38 L349.63 292.77 L360.62 295.26 L371.48 297.73 L381.5 300.09 L390 302.2 L396.79 304.03 L402.41 305.66 L407.19 307.17 L411.48 308.63 L415.64 310.11 L420 311.7 L424.57 313.43 L429.07 315.24 L433.44 317.07 L437.59 318.89 L441.47 320.61 L445 322.2 L448.14 323.62 L450.93 324.92 L453.44 326.14 L455.74 327.31 L457.91 328.48 L460 329.7 L461.98 330.92 L463.78 332.11 L465.43 333.29 L466.95 334.51 L468.39 335.81 L469.76 337.2 L471.04 338.7 L472.22 340.27 L473.3 341.92 L474.3 343.63 L475.23 345.39 L476.11 347.2 L476.94 349.07 L477.69 351.01 L478.38 353.01 L479 355.05 L479.55 357.12 L480.04 359.2 L480.46 361.46 L480.8 363.94 L481.08 366.45 L481.3 368.79 L481.46 370.77 L481.6 372.2" fill="none" stroke="#cf3050" stroke-width="1" />
<circle cx="238" cy="256.62" r="1.9" fill="#22e3f2"/>
<circle cx="241.96" cy="258.31" r="1.9" fill="#22e3f2"/>
<circle cx="245.93" cy="259.95" r="1.9" fill="#22e3f2"/>
<circle cx="249.91" cy="261.57" r="1.9" fill="#22e3f2"/>
<circle cx="253.91" cy="263.15" r="1.9" fill="#22e3f2"/>
<circle cx="257.91" cy="264.72" r="1.9" fill="#22e3f2"/>
<circle cx="261.91" cy="266.3" r="1.9" fill="#22e3f2"/>
<circle cx="265.91" cy="267.88" r="1.9" fill="#22e3f2"/>
<circle cx="280" cy="269.04" r="1.9" fill="#22e3f2"/>
<circle cx="283.64" cy="271.33" r="1.9" fill="#22e3f2"/>
<circle cx="287.44" cy="273.33" r="1.9" fill="#22e3f2"/>
<circle cx="291.35" cy="275.12" r="1.9" fill="#22e3f2"/>
<circle cx="295.31" cy="276.81" r="1.9" fill="#22e3f2"/>
<circle cx="299.28" cy="278.47" r="1.9" fill="#22e3f2"/>
<circle cx="303.26" cy="280.1" r="1.9" fill="#22e3f2"/>
<circle cx="307.24" cy="281.71" r="1.9" fill="#22e3f2"/>
<circle cx="330" cy="283" r="1.9" fill="#22e3f2"/>
<circle cx="333.99" cy="284.61" r="1.9" fill="#22e3f2"/>
<circle cx="337.98" cy="286.22" r="1.9" fill="#22e3f2"/>
<circle cx="341.97" cy="287.81" r="1.9" fill="#22e3f2"/>
<circle cx="345.97" cy="289.39" r="1.9" fill="#22e3f2"/>
<circle cx="349.97" cy="290.97" r="1.9" fill="#22e3f2"/>
<circle cx="353.97" cy="292.54" r="1.9" fill="#22e3f2"/>
<circle cx="357.97" cy="294.12" r="1.9" fill="#22e3f2"/>
<circle cx="362" cy="291.37" r="1.9" fill="#22e3f2"/>
<circle cx="366.03" cy="292.87" r="1.9" fill="#22e3f2"/>
<circle cx="370.06" cy="294.36" r="1.9" fill="#22e3f2"/>
<circle cx="374.09" cy="295.87" r="1.9" fill="#22e3f2"/>
<circle cx="378.11" cy="297.39" r="1.9" fill="#22e3f2"/>
<circle cx="382.13" cy="298.92" r="1.9" fill="#22e3f2"/>
<circle cx="386.14" cy="300.49" r="1.9" fill="#22e3f2"/>
<circle cx="392" cy="298.54" r="1.9" fill="#22e3f2"/>
<circle cx="395.99" cy="300.14" r="1.9" fill="#22e3f2"/>
<circle cx="399.96" cy="301.8" r="1.9" fill="#22e3f2"/>
<circle cx="403.9" cy="303.51" r="1.9" fill="#22e3f2"/>
<circle cx="407.82" cy="305.29" r="1.9" fill="#22e3f2"/>
<circle cx="411.7" cy="307.13" r="1.9" fill="#22e3f2"/>
<circle cx="415.56" cy="309.03" r="1.9" fill="#22e3f2"/>
<circle cx="419.41" cy="310.95" r="1.9" fill="#22e3f2"/>
<circle cx="424" cy="309.51" r="1.9" fill="#22e3f2"/>
<circle cx="427.8" cy="311.53" r="1.9" fill="#22e3f2"/>
<circle cx="431.56" cy="313.6" r="1.9" fill="#22e3f2"/>
<circle cx="435.31" cy="315.71" r="1.9" fill="#22e3f2"/>
<circle cx="439.04" cy="317.85" r="1.9" fill="#22e3f2"/>
<circle cx="442.76" cy="320.01" r="1.9" fill="#22e3f2"/>
<circle cx="446.47" cy="322.19" r="1.9" fill="#22e3f2"/>
<circle cx="452" cy="317" r="1.9" fill="#22e3f2"/>
<circle cx="455.99" cy="318.6" r="1.9" fill="#22e3f2"/>
<circle cx="459.98" cy="320.21" r="1.9" fill="#22e3f2"/>
<circle cx="463.91" cy="321.96" r="1.9" fill="#22e3f2"/>
<circle cx="467.71" cy="323.95" r="1.9" fill="#22e3f2"/>
<circle cx="471.38" cy="326.2" r="1.9" fill="#22e3f2"/>
<circle cx="474.92" cy="328.64" r="1.9" fill="#22e3f2"/>
<circle cx="478.32" cy="331.26" r="1.9" fill="#22e3f2"/>
<circle cx="481.61" cy="334.03" r="1.9" fill="#22e3f2"/>
<circle cx="484.68" cy="337.05" r="1.9" fill="#22e3f2"/>
<circle cx="487.28" cy="340.46" r="1.9" fill="#22e3f2"/>
<circle cx="489.26" cy="344.28" r="1.9" fill="#22e3f2"/>
<circle cx="490.79" cy="348.29" r="1.9" fill="#22e3f2"/>
<circle cx="492.11" cy="352.38" r="1.9" fill="#22e3f2"/>
<circle cx="493.1" cy="356.57" r="1.9" fill="#22e3f2"/>
<circle cx="493.8" cy="360.81" r="1.9" fill="#22e3f2"/>
<path d="M154.7 248.7 L160.07 248.93 L167.76 249.24 L176.49 249.68 L185 250.3 L193.31 251.08 L201.99 252 L210.54 253.12 L218.5 254.5 L226.24 256.42 L233.84 258.76 L240.4 260.97 L245 262.5 L249.59 263.82 L254.81 265.27 L260.31 266.79 L265.74 268.29 L270.75 269.71 L275 270.98 L278.08 272.04 L280.19 272.93 L281.88 273.74 L283.7 274.56 L286.23 275.47 L290 276.57 L294.99 277.84 L300.74 279.41 L307.19 281.11 L314.26 282.91 L321.89 284.81 L330 286.8 L339.19 288.98 L349.63 291.37 L360.62 293.86 L371.48 296.33 L381.5 298.69 L390 300.8 L396.79 302.63 L402.41 304.26 L407.19 305.77 L411.48 307.23 L415.64 308.71 L420 310.3 L424.57 312.03 L429.07 313.84 L433.44 315.68 L437.59 317.49 L441.47 319.21 L445 320.8 L448.14 322.22 L450.93 323.52 L453.44 324.74 L455.74 325.91 L457.91 327.08 L460 328.3 L461.99 329.52 L463.82 330.71 L465.54 331.89 L467.15 333.11 L468.7 334.41 L470.2 335.8 L471.64 337.3 L473 338.87 L474.3 340.52 L475.53 342.23 L476.73 343.99 L477.89 345.8 L479.03 347.67 L480.12 349.61 L481.18 351.61 L482.19 353.65 L483.16 355.72 L484.08 357.8 L484.99 360.06 L485.89 362.54 L486.76 365.05 L487.54 367.39 L488.2 369.37 L488.7 370.8" fill="none" stroke="#22e3f2" stroke-width="1" />
</g>
<rect x="52.6" y="206.5" width="489.1" height="165" fill="none" stroke="#262626" stroke-width="1"/>
<line x1="52.4" y1="371.5" x2="52.4" y2="367" stroke="#262626" stroke-width="0.8"/>
<line x1="52.4" y1="206.5" x2="52.4" y2="211" stroke="#262626" stroke-width="0.8"/>
<line x1="101.59" y1="371.5" x2="101.59" y2="367" stroke="#262626" stroke-width="0.8"/>
<line x1="101.59" y1="206.5" x2="101.59" y2="211" stroke="#262626" stroke-width="0.8"/>
<line x1="150.78" y1="371.5" x2="150.78" y2="367" stroke="#262626" stroke-width="0.8"/>
<line x1="150.78" y1="206.5" x2="150.78" y2="211" stroke="#262626" stroke-width="0.8"/>
<line x1="199.97" y1="371.5" x2="199.97" y2="367" stroke="#262626" stroke-width="0.8"/>
<line x1="199.97" y1="206.5" x2="199.97" y2="211" stroke="#262626" stroke-width="0.8"/>
<line x1="249.16" y1="371.5" x2="249.16" y2="367" stroke="#262626" stroke-width="0.8"/>
<line x1="249.16" y1="206.5" x2="249.16" y2="211" stroke="#262626" stroke-width="0.8"/>
<line x1="298.35" y1="371.5" x2="298.35" y2="367" stroke="#262626" stroke-width="0.8"/>
<line x1="298.35" y1="206.5" x2="298.35" y2="211" stroke="#262626" stroke-width="0.8"/>
<line x1="347.54" y1="371.5" x2="347.54" y2="367" stroke="#262626" stroke-width="0.8"/>
<line x1="347.54" y1="206.5" x2="347.54" y2="211" stroke="#262626" stroke-width="0.8"/>
<line x1="396.73" y1="371.5" x2="396.73" y2="367" stroke="#262626" stroke-width="0.8"/>
<line x1="396.73" y1="206.5" x2="396.73" y2="211" stroke="#262626" stroke-width="0.8"/>
<line x1="445.92" y1="371.5" x2="445.92" y2="367" stroke="#262626" stroke-width="0.8"/>
<line x1="445.92" y1="206.5" x2="445.92" y2="211" stroke="#262626" stroke-width="0.8"/>
<line x1="495.11" y1="371.5" x2="495.11" y2="367" stroke="#262626" stroke-width="0.8"/>
<line x1="495.11" y1="206.5" x2="495.11" y2="211" stroke="#262626" stroke-width="0.8"/>
<line x1="52.6" y1="368" x2="57.1" y2="368" stroke="#262626" stroke-width="0.8"/>
<line x1="541.7" y1="368" x2="537.2" y2="368" stroke="#262626" stroke-width="0.8"/>
<line x1="52.6" y1="337.86" x2="57.1" y2="337.86" stroke="#262626" stroke-width="0.8"/>
<line x1="541.7" y1="337.86" x2="537.2" y2="337.86" stroke="#262626" stroke-width="0.8"/>
<line x1="52.6" y1="307.72" x2="57.1" y2="307.72" stroke="#262626" stroke-width="0.8"/>
<line x1="541.7" y1="307.72" x2="537.2" y2="307.72" stroke="#262626" stroke-width="0.8"/>
<line x1="52.6" y1="277.58" x2="57.1" y2="277.58" stroke="#262626" stroke-width="0.8"/>
<line x1="541.7" y1="277.58" x2="537.2" y2="277.58" stroke="#262626" stroke-width="0.8"/>
<line x1="52.6" y1="247.44" x2="57.1" y2="247.44" stroke="#262626" stroke-width="0.8"/>
<line x1="541.7" y1="247.44" x2="537.2" y2="247.44" stroke="#262626" stroke-width="0.8"/>
<line x1="52.6" y1="370.33" x2="54.8" y2="370.33" stroke="#262626" stroke-width="0.7"/>
<line x1="541.7" y1="370.33" x2="539.5" y2="370.33" stroke="#262626" stroke-width="0.7"/>
<line x1="52.6" y1="369.46" x2="54.8" y2="369.46" stroke="#262626" stroke-width="0.7"/>
<line x1="541.7" y1="369.46" x2="539.5" y2="369.46" stroke="#262626" stroke-width="0.7"/>
<line x1="52.6" y1="368.69" x2="54.8" y2="368.69" stroke="#262626" stroke-width="0.7"/>
<line x1="541.7" y1="368.69" x2="539.5" y2="368.69" stroke="#262626" stroke-width="0.7"/>
<line x1="52.6" y1="363.46" x2="54.8" y2="363.46" stroke="#262626" stroke-width="0.7"/>
<line x1="541.7" y1="363.46" x2="539.5" y2="363.46" stroke="#262626" stroke-width="0.7"/>
<line x1="52.6" y1="360.81" x2="54.8" y2="360.81" stroke="#262626" stroke-width="0.7"/>
<line x1="541.7" y1="360.81" x2="539.5" y2="360.81" stroke="#262626" stroke-width="0.7"/>
<line x1="52.6" y1="358.93" x2="54.8" y2="358.93" stroke="#262626" stroke-width="0.7"/>
<line x1="541.7" y1="358.93" x2="539.5" y2="358.93" stroke="#262626" stroke-width="0.7"/>
<line x1="52.6" y1="357.47" x2="54.8" y2="357.47" stroke="#262626" stroke-width="0.7"/>
<line x1="541.7" y1="357.47" x2="539.5" y2="357.47" stroke="#262626" stroke-width="0.7"/>
<line x1="52.6" y1="356.27" x2="54.8" y2="356.27" stroke="#262626" stroke-width="0.7"/>
<line x1="541.7" y1="356.27" x2="539.5" y2="356.27" stroke="#262626" stroke-width="0.7"/>
<line x1="52.6" y1="355.26" x2="54.8" y2="355.26" stroke="#262626" stroke-width="0.7"/>
<line x1="541.7" y1="355.26" x2="539.5" y2="355.26" stroke="#262626" stroke-width="0.7"/>
<line x1="52.6" y1="354.39" x2="54.8" y2="354.39" stroke="#262626" stroke-width="0.7"/>
<line x1="541.7" y1="354.39" x2="539.5" y2="354.39" stroke="#262626" stroke-width="0.7"/>
<line x1="52.6" y1="353.62" x2="54.8" y2="353.62" stroke="#262626" stroke-width="0.7"/>
<line x1="541.7" y1="353.62" x2="539.5" y2="353.62" stroke="#262626" stroke-width="0.7"/>
<line x1="52.6" y1="348.39" x2="54.8" y2="348.39" stroke="#262626" stroke-width="0.7"/>
<line x1="541.7" y1="348.39" x2="539.5" y2="348.39" stroke="#262626" stroke-width="0.7"/>
<line x1="52.6" y1="345.74" x2="54.8" y2="345.74" stroke="#262626" stroke-width="0.7"/>
<line x1="541.7" y1="345.74" x2="539.5" y2="345.74" stroke="#262626" stroke-width="0.7"/>
<line x1="52.6" y1="343.86" x2="54.8" y2="343.86" stroke="#262626" stroke-width="0.7"/>
<line x1="541.7" y1="343.86" x2="539.5" y2="343.86" stroke="#262626" stroke-width="0.7"/>
<line x1="52.6" y1="342.4" x2="54.8" y2="342.4" stroke="#262626" stroke-width="0.7"/>
<line x1="541.7" y1="342.4" x2="539.5" y2="342.4" stroke="#262626" stroke-width="0.7"/>
<line x1="52.6" y1="341.2" x2="54.8" y2="341.2" stroke="#262626" stroke-width="0.7"/>
<line x1="541.7" y1="341.2" x2="539.5" y2="341.2" stroke="#262626" stroke-width="0.7"/>
<line x1="52.6" y1="340.19" x2="54.8" y2="340.19" stroke="#262626" stroke-width="0.7"/>
<line x1="541.7" y1="340.19" x2="539.5" y2="340.19" stroke="#262626" stroke-width="0.7"/>
<line x1="52.6" y1="339.32" x2="54.8" y2="339.32" stroke="#262626" stroke-width="0.7"/>
<line x1="541.7" y1="339.32" x2="539.5" y2="339.32" stroke="#262626" stroke-width="0.7"/>
<line x1="52.6" y1="338.55" x2="54.8" y2="338.55" stroke="#262626" stroke-width="0.7"/>
<line x1="541.7" y1="338.55" x2="539.5" y2="338.55" stroke="#262626" stroke-width="0.7"/>
<line x1="52.6" y1="333.32" x2="54.8" y2="333.32" stroke="#262626" stroke-width="0.7"/>
<line x1="541.7" y1="333.32" x2="539.5" y2="333.32" stroke="#262626" stroke-width="0.7"/>
<line x1="52.6" y1="330.67" x2="54.8" y2="330.67" stroke="#262626" stroke-width="0.7"/>
<line x1="541.7" y1="330.67" x2="539.5" y2="330.67" stroke="#262626" stroke-width="0.7"/>
<line x1="52.6" y1="328.79" x2="54.8" y2="328.79" stroke="#262626" stroke-width="0.7"/>
<line x1="541.7" y1="328.79" x2="539.5" y2="328.79" stroke="#262626" stroke-width="0.7"/>
<line x1="52.6" y1="327.33" x2="54.8" y2="327.33" stroke="#262626" stroke-width="0.7"/>
<line x1="541.7" y1="327.33" x2="539.5" y2="327.33" stroke="#262626" stroke-width="0.7"/>
<line x1="52.6" y1="326.13" x2="54.8" y2="326.13" stroke="#262626" stroke-width="0.7"/>
<line x1="541.7" y1="326.13" x2="539.5" y2="326.13" stroke="#262626" stroke-width="0.7"/>
<line x1="52.6" y1="325.12" x2="54.8" y2="325.12" stroke="#262626" stroke-width="0.7"/>
<line x1="541.7" y1="325.12" x2="539.5" y2="325.12" stroke="#262626" stroke-width="0.7"/>
<line x1="52.6" y1="324.25" x2="54.8" y2="324.25" stroke="#262626" stroke-width="0.7"/>
<line x1="541.7" y1="324.25" x2="539.5" y2="324.25" stroke="#262626" stroke-width="0.7"/>
<line x1="52.6" y1="323.48" x2="54.8" y2="323.48" stroke="#262626" stroke-width="0.7"/>
<line x1="541.7" y1="323.48" x2="539.5" y2="323.48" stroke="#262626" stroke-width="0.7"/>
<line x1="52.6" y1="318.25" x2="54.8" y2="318.25" stroke="#262626" stroke-width="0.7"/>
<line x1="541.7" y1="318.25" x2="539.5" y2="318.25" stroke="#262626" stroke-width="0.7"/>
<line x1="52.6" y1="315.6" x2="54.8" y2="315.6" stroke="#262626" stroke-width="0.7"/>
<line x1="541.7" y1="315.6" x2="539.5" y2="315.6" stroke="#262626" stroke-width="0.7"/>
<line x1="52.6" y1="313.72" x2="54.8" y2="313.72" stroke="#262626" stroke-width="0.7"/>
<line x1="541.7" y1="313.72" x2="539.5" y2="313.72" stroke="#262626" stroke-width="0.7"/>
<line x1="52.6" y1="312.26" x2="54.8" y2="312.26" stroke="#262626" stroke-width="0.7"/>
<line x1="541.7" y1="312.26" x2="539.5" y2="312.26" stroke="#262626" stroke-width="0.7"/>
<line x1="52.6" y1="311.06" x2="54.8" y2="311.06" stroke="#262626" stroke-width="0.7"/>
<line x1="541.7" y1="311.06" x2="539.5" y2="311.06" stroke="#262626" stroke-width="0.7"/>
<line x1="52.6" y1="310.05" x2="54.8" y2="310.05" stroke="#262626" stroke-width="0.7"/>
<line x1="541.7" y1="310.05" x2="539.5" y2="310.05" stroke="#262626" stroke-width="0.7"/>
<line x1="52.6" y1="309.18" x2="54.8" y2="309.18" stroke="#262626" stroke-width="0.7"/>
<line x1="541.7" y1="309.18" x2="539.5" y2="309.18" stroke="#262626" stroke-width="0.7"/>
<line x1="52.6" y1="308.41" x2="54.8" y2="308.41" stroke="#262626" stroke-width="0.7"/>
<line x1="541.7" y1="308.41" x2="539.5" y2="308.41" stroke="#262626" stroke-width="0.7"/>
<line x1="52.6" y1="303.18" x2="54.8" y2="303.18" stroke="#262626" stroke-width="0.7"/>
<line x1="541.7" y1="303.18" x2="539.5" y2="303.18" stroke="#262626" stroke-width="0.7"/>
<line x1="52.6" y1="300.53" x2="54.8" y2="300.53" stroke="#262626" stroke-width="0.7"/>
<line x1="541.7" y1="300.53" x2="539.5" y2="300.53" stroke="#262626" stroke-width="0.7"/>
<line x1="52.6" y1="298.65" x2="54.8" y2="298.65" stroke="#262626" stroke-width="0.7"/>
<line x1="541.7" y1="298.65" x2="539.5" y2="298.65" stroke="#262626" stroke-width="0.7"/>
<line x1="52.6" y1="297.19" x2="54.8" y2="297.19" stroke="#262626" stroke-width="0.7"/>
<line x1="541.7" y1="297.19" x2="539.5" y2="297.19" stroke="#262626" stroke-width="0.7"/>
<line x1="52.6" y1="295.99" x2="54.8" y2="295.99" stroke="#262626" stroke-width="0.7"/>
<line x1="541.7" y1="295.99" x2="539.5" y2="295.99" stroke="#262626" stroke-width="0.7"/>
<line x1="52.6" y1="294.98" x2="54.8" y2="294.98" stroke="#262626" stroke-width="0.7"/>
<line x1="541.7" y1="294.98" x2="539.5" y2="294.98" stroke="#262626" stroke-width="0.7"/>
<line x1="52.6" y1="294.11" x2="54.8" y2="294.11" stroke="#262626" stroke-width="0.7"/>
<line x1="541.7" y1="294.11" x2="539.5" y2="294.11" stroke="#262626" stroke-width="0.7"/>
<line x1="52.6" y1="293.34" x2="54.8" y2="293.34" stroke="#262626" stroke-width="0.7"/>
<line x1="541.7" y1="293.34" x2="539.5" y2="293.34" stroke="#262626" stroke-width="0.7"/>
<line x1="52.6" y1="288.11" x2="54.8" y2="288.11" stroke="#262626" stroke-width="0.7"/>
<line x1="541.7" y1="288.11" x2="539.5" y2="288.11" stroke="#262626" stroke-width="0.7"/>
<line x1="52.6" y1="285.46" x2="54.8" y2="285.46" stroke="#262626" stroke-width="0.7"/>
<line x1="541.7" y1="285.46" x2="539.5" y2="285.46" stroke="#262626" stroke-width="0.7"/>
<line x1="52.6" y1="283.58" x2="54.8" y2="283.58" stroke="#262626" stroke-width="0.7"/>
<line x1="541.7" y1="283.58" x2="539.5" y2="283.58" stroke="#262626" stroke-width="0.7"/>
<line x1="52.6" y1="282.12" x2="54.8" y2="282.12" stroke="#262626" stroke-width="0.7"/>
<line x1="541.7" y1="282.12" x2="539.5" y2="282.12" stroke="#262626" stroke-width="0.7"/>
<line x1="52.6" y1="280.92" x2="54.8" y2="280.92" stroke="#262626" stroke-width="0.7"/>
<line x1="541.7" y1="280.92" x2="539.5" y2="280.92" stroke="#262626" stroke-width="0.7"/>
<line x1="52.6" y1="279.91" x2="54.8" y2="279.91" stroke="#262626" stroke-width="0.7"/>
<line x1="541.7" y1="279.91" x2="539.5" y2="279.91" stroke="#262626" stroke-width="0.7"/>
<line x1="52.6" y1="279.04" x2="54.8" y2="279.04" stroke="#262626" stroke-width="0.7"/>
<line x1="541.7" y1="279.04" x2="539.5" y2="279.04" stroke="#262626" stroke-width="0.7"/>
<line x1="52.6" y1="278.27" x2="54.8" y2="278.27" stroke="#262626" stroke-width="0.7"/>
<line x1="541.7" y1="278.27" x2="539.5" y2="278.27" stroke="#262626" stroke-width="0.7"/>
<line x1="52.6" y1="273.04" x2="54.8" y2="273.04" stroke="#262626" stroke-width="0.7"/>
<line x1="541.7" y1="273.04" x2="539.5" y2="273.04" stroke="#262626" stroke-width="0.7"/>
<line x1="52.6" y1="270.39" x2="54.8" y2="270.39" stroke="#262626" stroke-width="0.7"/>
<line x1="541.7" y1="270.39" x2="539.5" y2="270.39" stroke="#262626" stroke-width="0.7"/>
<line x1="52.6" y1="268.51" x2="54.8" y2="268.51" stroke="#262626" stroke-width="0.7"/>
<line x1="541.7" y1="268.51" x2="539.5" y2="268.51" stroke="#262626" stroke-width="0.7"/>
<line x1="52.6" y1="267.05" x2="54.8" y2="267.05" stroke="#262626" stroke-width="0.7"/>
<line x1="541.7" y1="267.05" x2="539.5" y2="267.05" stroke="#262626" stroke-width="0.7"/>
<line x1="52.6" y1="265.85" x2="54.8" y2="265.85" stroke="#262626" stroke-width="0.7"/>
<line x1="541.7" y1="265.85" x2="539.5" y2="265.85" stroke="#262626" stroke-width="0.7"/>
<line x1="52.6" y1="264.84" x2="54.8" y2="264.84" stroke="#262626" stroke-width="0.7"/>
<line x1="541.7" y1="264.84" x2="539.5" y2="264.84" stroke="#262626" stroke-width="0.7"/>
<line x1="52.6" y1="263.97" x2="54.8" y2="263.97" stroke="#262626" stroke-width="0.7"/>
<line x1="541.7" y1="263.97" x2="539.5" y2="263.97" stroke="#262626" stroke-width="0.7"/>
<line x1="52.6" y1="263.2" x2="54.8" y2="263.2" stroke="#262626" stroke-width="0.7"/>
<line x1="541.7" y1="263.2" x2="539.5" y2="263.2" stroke="#262626" stroke-width="0.7"/>
<line x1="52.6" y1="257.97" x2="54.8" y2="257.97" stroke="#262626" stroke-width="0.7"/>
<line x1="541.7" y1="257.97" x2="539.5" y2="257.97" stroke="#262626" stroke-width="0.7"/>
<line x1="52.6" y1="255.32" x2="54.8" y2="255.32" stroke="#262626" stroke-width="0.7"/>
<line x1="541.7" y1="255.32" x2="539.5" y2="255.32" stroke="#262626" stroke-width="0.7"/>
<line x1="52.6" y1="253.44" x2="54.8" y2="253.44" stroke="#262626" stroke-width="0.7"/>
<line x1="541.7" y1="253.44" x2="539.5" y2="253.44" stroke="#262626" stroke-width="0.7"/>
<line x1="52.6" y1="251.98" x2="54.8" y2="251.98" stroke="#262626" stroke-width="0.7"/>
<line x1="541.7" y1="251.98" x2="539.5" y2="251.98" stroke="#262626" stroke-width="0.7"/>
<line x1="52.6" y1="250.78" x2="54.8" y2="250.78" stroke="#262626" stroke-width="0.7"/>
<line x1="541.7" y1="250.78" x2="539.5" y2="250.78" stroke="#262626" stroke-width="0.7"/>
<line x1="52.6" y1="249.77" x2="54.8" y2="249.77" stroke="#262626" stroke-width="0.7"/>
<line x1="541.7" y1="249.77" x2="539.5" y2="249.77" stroke="#262626" stroke-width="0.7"/>
<line x1="52.6" y1="248.9" x2="54.8" y2="248.9" stroke="#262626" stroke-width="0.7"/>
<line x1="541.7" y1="248.9" x2="539.5" y2="248.9" stroke="#262626" stroke-width="0.7"/>
<line x1="52.6" y1="248.13" x2="54.8" y2="248.13" stroke="#262626" stroke-width="0.7"/>
<line x1="541.7" y1="248.13" x2="539.5" y2="248.13" stroke="#262626" stroke-width="0.7"/>
<line x1="52.6" y1="242.9" x2="54.8" y2="242.9" stroke="#262626" stroke-width="0.7"/>
<line x1="541.7" y1="242.9" x2="539.5" y2="242.9" stroke="#262626" stroke-width="0.7"/>
<line x1="52.6" y1="240.25" x2="54.8" y2="240.25" stroke="#262626" stroke-width="0.7"/>
<line x1="541.7" y1="240.25" x2="539.5" y2="240.25" stroke="#262626" stroke-width="0.7"/>
<line x1="52.6" y1="238.37" x2="54.8" y2="238.37" stroke="#262626" stroke-width="0.7"/>
<line x1="541.7" y1="238.37" x2="539.5" y2="238.37" stroke="#262626" stroke-width="0.7"/>
<line x1="52.6" y1="236.91" x2="54.8" y2="236.91" stroke="#262626" stroke-width="0.7"/>
<line x1="541.7" y1="236.91" x2="539.5" y2="236.91" stroke="#262626" stroke-width="0.7"/>
<line x1="52.6" y1="235.71" x2="54.8" y2="235.71" stroke="#262626" stroke-width="0.7"/>
<line x1="541.7" y1="235.71" x2="539.5" y2="235.71" stroke="#262626" stroke-width="0.7"/>
<line x1="52.6" y1="234.7" x2="54.8" y2="234.7" stroke="#262626" stroke-width="0.7"/>
<line x1="541.7" y1="234.7" x2="539.5" y2="234.7" stroke="#262626" stroke-width="0.7"/>
<line x1="52.6" y1="233.83" x2="54.8" y2="233.83" stroke="#262626" stroke-width="0.7"/>
<line x1="541.7" y1="233.83" x2="539.5" y2="233.83" stroke="#262626" stroke-width="0.7"/>
<line x1="52.6" y1="233.06" x2="54.8" y2="233.06" stroke="#262626" stroke-width="0.7"/>
<line x1="541.7" y1="233.06" x2="539.5" y2="233.06" stroke="#262626" stroke-width="0.7"/>
<line x1="52.6" y1="227.83" x2="54.8" y2="227.83" stroke="#262626" stroke-width="0.7"/>
<line x1="541.7" y1="227.83" x2="539.5" y2="227.83" stroke="#262626" stroke-width="0.7"/>
<line x1="52.6" y1="225.18" x2="54.8" y2="225.18" stroke="#262626" stroke-width="0.7"/>
<line x1="541.7" y1="225.18" x2="539.5" y2="225.18" stroke="#262626" stroke-width="0.7"/>
<line x1="52.6" y1="223.3" x2="54.8" y2="223.3" stroke="#262626" stroke-width="0.7"/>
<line x1="541.7" y1="223.3" x2="539.5" y2="223.3" stroke="#262626" stroke-width="0.7"/>
<line x1="52.6" y1="221.84" x2="54.8" y2="221.84" stroke="#262626" stroke-width="0.7"/>
<line x1="541.7" y1="221.84" x2="539.5" y2="221.84" stroke="#262626" stroke-width="0.7"/>
<line x1="52.6" y1="220.64" x2="54.8" y2="220.64" stroke="#262626" stroke-width="0.7"/>
<line x1="541.7" y1="220.64" x2="539.5" y2="220.64" stroke="#262626" stroke-width="0.7"/>
<line x1="52.6" y1="219.63" x2="54.8" y2="219.63" stroke="#262626" stroke-width="0.7"/>
<line x1="541.7" y1="219.63" x2="539.5" y2="219.63" stroke="#262626" stroke-width="0.7"/>
<line x1="52.6" y1="218.76" x2="54.8" y2="218.76" stroke="#262626" stroke-width="0.7"/>
<line x1="541.7" y1="218.76" x2="539.5" y2="218.76" stroke="#262626" stroke-width="0.7"/>
<line x1="52.6" y1="217.99" x2="54.8" y2="217.99" stroke="#262626" stroke-width="0.7"/>
<line x1="541.7" y1="217.99" x2="539.5" y2="217.99" stroke="#262626" stroke-width="0.7"/>
<line x1="52.6" y1="212.76" x2="54.8" y2="212.76" stroke="#262626" stroke-width="0.7"/>
<line x1="541.7" y1="212.76" x2="539.5" y2="212.76" stroke="#262626" stroke-width="0.7"/>
<line x1="52.6" y1="210.11" x2="54.8" y2="210.11" stroke="#262626" stroke-width="0.7"/>
<line x1="541.7" y1="210.11" x2="539.5" y2="210.11" stroke="#262626" stroke-width="0.7"/>
<line x1="52.6" y1="208.23" x2="54.8" y2="208.23" stroke="#262626" stroke-width="0.7"/>
<line x1="541.7" y1="208.23" x2="539.5" y2="208.23" stroke="#262626" stroke-width="0.7"/>
<line x1="52.6" y1="206.77" x2="54.8" y2="206.77" stroke="#262626" stroke-width="0.7"/>
<line x1="541.7" y1="206.77" x2="539.5" y2="206.77" stroke="#262626" stroke-width="0.7"/>
<line x1="52.6" y1="352.93" x2="54.8" y2="352.93" stroke="#262626" stroke-width="0.7"/>
<line x1="541.7" y1="352.93" x2="539.5" y2="352.93" stroke="#262626" stroke-width="0.7"/>
<line x1="52.6" y1="322.79" x2="54.8" y2="322.79" stroke="#262626" stroke-width="0.7"/>
<line x1="541.7" y1="322.79" x2="539.5" y2="322.79" stroke="#262626" stroke-width="0.7"/>
<line x1="52.6" y1="292.65" x2="54.8" y2="292.65" stroke="#262626" stroke-width="0.7"/>
<line x1="541.7" y1="292.65" x2="539.5" y2="292.65" stroke="#262626" stroke-width="0.7"/>
<line x1="52.6" y1="262.51" x2="54.8" y2="262.51" stroke="#262626" stroke-width="0.7"/>
<line x1="541.7" y1="262.51" x2="539.5" y2="262.51" stroke="#262626" stroke-width="0.7"/>
<line x1="52.6" y1="232.37" x2="54.8" y2="232.37" stroke="#262626" stroke-width="0.7"/>
<line x1="541.7" y1="232.37" x2="539.5" y2="232.37" stroke="#262626" stroke-width="0.7"/>
<line x1="52.6" y1="217.3" x2="54.8" y2="217.3" stroke="#262626" stroke-width="0.7"/>
<line x1="541.7" y1="217.3" x2="539.5" y2="217.3" stroke="#262626" stroke-width="0.7"/>
<text x="52.8" y="387.6" font-size="11.8" text-anchor="middle" font-weight="normal" font-style="normal" fill="#262626" >0</text>
<text x="101.99" y="387.6" font-size="11.8" text-anchor="middle" font-weight="normal" font-style="normal" fill="#262626" >10</text>
<text x="151.18" y="387.6" font-size="11.8" text-anchor="middle" font-weight="normal" font-style="normal" fill="#262626" >20</text>
<text x="200.37" y="387.6" font-size="11.8" text-anchor="middle" font-weight="normal" font-style="normal" fill="#262626" >30</text>
<text x="249.56" y="387.6" font-size="11.8" text-anchor="middle" font-weight="normal" font-style="normal" fill="#262626" >40</text>
<text x="298.75" y="387.6" font-size="11.8" text-anchor="middle" font-weight="normal" font-style="normal" fill="#262626" >50</text>
<text x="347.94" y="387.6" font-size="11.8" text-anchor="middle" font-weight="normal" font-style="normal" fill="#262626" >60</text>
<text x="397.13" y="387.6" font-size="11.8" text-anchor="middle" font-weight="normal" font-style="normal" fill="#262626" >70</text>
<text x="446.32" y="387.6" font-size="11.8" text-anchor="middle" font-weight="normal" font-style="normal" fill="#262626" >80</text>
<text x="495.51" y="387.6" font-size="11.8" text-anchor="middle" font-weight="normal" font-style="normal" fill="#262626" >90</text>
<text x="46.8" y="371.8" font-size="11.6" text-anchor="end" fill="#262626">10<tspan dx="0.5" dy="-3.8" font-size="8">0</tspan></text>
<text x="46.8" y="341.66" font-size="11.6" text-anchor="end" fill="#262626">10<tspan dx="0.5" dy="-3.8" font-size="8">2</tspan></text>
<text x="46.8" y="311.52" font-size="11.6" text-anchor="end" fill="#262626">10<tspan dx="0.5" dy="-3.8" font-size="8">4</tspan></text>
<text x="46.8" y="281.38" font-size="11.6" text-anchor="end" fill="#262626">10<tspan dx="0.5" dy="-3.8" font-size="8">6</tspan></text>
<text x="46.8" y="251.24" font-size="11.6" text-anchor="end" fill="#262626">10<tspan dx="0.5" dy="-3.8" font-size="8">8</tspan></text>
<text x="297.3" y="405.6" font-size="14" text-anchor="middle" font-weight="normal" font-style="normal" fill="#262626" >Phase Angle [°]</text>
<text transform="translate(26.5,289.5) rotate(-90)" font-size="13.7" text-anchor="middle" fill="#262626"><tspan fill="#777">|</tspan><tspan dx="1.6" font-style="italic">G</tspan><tspan dy="-4.5" font-size="9.5">*</tspan><tspan dx="1.4" dy="4.5" fill="#777">|</tspan><tspan dx="1.2"> [Pa]</tspan></text>
<text x="68.2" y="366.8" font-size="13.5" text-anchor="middle" font-weight="bold" font-style="italic" fill="#111" >(c)</text>
<rect x="458" y="206.6" width="83.8" height="99" fill="#fff" stroke="#262626" stroke-width="0.9"/>
<circle cx="478.7" cy="212.9" r="2.1" fill="none" stroke="#f27a4b" stroke-width="1"/>
<text x="499.2" y="216.4" font-size="10.4" text-anchor="start" font-weight="normal" font-style="normal" fill="#1a1a1a" >YT 1&amp;16</text>
<circle cx="478.7" cy="225.2" r="1.6" fill="#1f86d2"/>
<text x="499.2" y="228.7" font-size="10.4" text-anchor="start" font-weight="normal" font-style="normal" fill="#1a1a1a" >NT 2&amp;4</text>
<circle cx="478.7" cy="237.5" r="2.1" fill="none" stroke="#333333" stroke-width="1"/>
<text x="499.2" y="241" font-size="10.4" text-anchor="start" font-weight="normal" font-style="normal" fill="#1a1a1a" >YT 3&amp;11</text>
<circle cx="478.7" cy="249.8" r="1.6" fill="#f7b431"/>
<text x="499.2" y="253.3" font-size="10.4" text-anchor="start" font-weight="normal" font-style="normal" fill="#1a1a1a" >NT 5&amp;10</text>
<circle cx="478.7" cy="262.1" r="2.1" fill="none" stroke="#78b240" stroke-width="1"/>
<text x="499.2" y="265.6" font-size="10.4" text-anchor="start" font-weight="normal" font-style="normal" fill="#1a1a1a" >YT 6&amp;13</text>
<circle cx="478.7" cy="274.4" r="1.6" fill="#ee2e2e"/>
<text x="499.2" y="277.9" font-size="10.4" text-anchor="start" font-weight="normal" font-style="normal" fill="#1a1a1a" >NT 7&amp;15</text>
<circle cx="478.7" cy="286.7" r="2.1" fill="none" stroke="#cf3050" stroke-width="1"/>
<text x="499.2" y="290.2" font-size="10.4" text-anchor="start" font-weight="normal" font-style="normal" fill="#1a1a1a" >YT 8&amp;12</text>
<circle cx="478.7" cy="299" r="1.6" fill="#22e3f2"/>
<text x="499.2" y="302.5" font-size="10.4" text-anchor="start" font-weight="normal" font-style="normal" fill="#1a1a1a" >NT 9&amp;14</text>
</g>
</svg></body></html>
